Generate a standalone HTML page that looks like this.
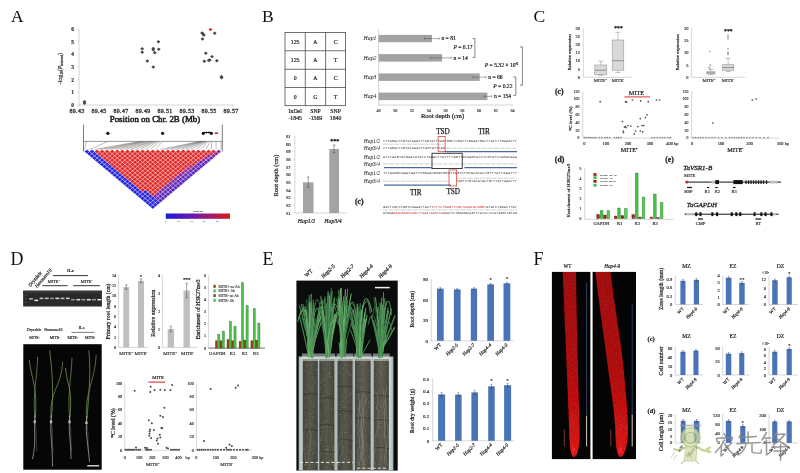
<!DOCTYPE html>
<html><head><meta charset="utf-8"><style>
html,body{margin:0;padding:0;background:#fff;}
body{width:800px;height:473px;overflow:hidden;}
svg{display:block;font-family:"Liberation Serif",serif;filter:blur(0.35px);}
</style></head><body>
<svg width="800" height="473" viewBox="0 0 800 473">
<rect width="800" height="473" fill="#fff"/>
<text x="10.90" y="22.40" font-size="17.4" text-anchor="start" fill="#111">A</text>
<line x1="79.00" y1="29.00" x2="79.00" y2="105.00" stroke="#bbb" stroke-width="0.6"/>
<line x1="79.00" y1="105.00" x2="234.00" y2="105.00" stroke="#bbb" stroke-width="0.6"/>
<text x="74.00" y="106.90" font-size="5.4" text-anchor="end" fill="#333" font-weight="bold" stroke="#333" stroke-width="0.19">0</text>
<line x1="77.50" y1="105.00" x2="79.00" y2="105.00" stroke="#bbb" stroke-width="0.5"/>
<text x="74.00" y="94.23" font-size="5.4" text-anchor="end" fill="#333" font-weight="bold" stroke="#333" stroke-width="0.19">1</text>
<line x1="77.50" y1="92.33" x2="79.00" y2="92.33" stroke="#bbb" stroke-width="0.5"/>
<text x="74.00" y="81.57" font-size="5.4" text-anchor="end" fill="#333" font-weight="bold" stroke="#333" stroke-width="0.19">2</text>
<line x1="77.50" y1="79.67" x2="79.00" y2="79.67" stroke="#bbb" stroke-width="0.5"/>
<text x="74.00" y="68.90" font-size="5.4" text-anchor="end" fill="#333" font-weight="bold" stroke="#333" stroke-width="0.19">3</text>
<line x1="77.50" y1="67.00" x2="79.00" y2="67.00" stroke="#bbb" stroke-width="0.5"/>
<text x="74.00" y="56.23" font-size="5.4" text-anchor="end" fill="#333" font-weight="bold" stroke="#333" stroke-width="0.19">4</text>
<line x1="77.50" y1="54.33" x2="79.00" y2="54.33" stroke="#bbb" stroke-width="0.5"/>
<text x="74.00" y="43.57" font-size="5.4" text-anchor="end" fill="#333" font-weight="bold" stroke="#333" stroke-width="0.19">5</text>
<line x1="77.50" y1="41.67" x2="79.00" y2="41.67" stroke="#bbb" stroke-width="0.5"/>
<text x="74.00" y="30.90" font-size="5.4" text-anchor="end" fill="#333" font-weight="bold" stroke="#333" stroke-width="0.19">6</text>
<line x1="77.50" y1="29.00" x2="79.00" y2="29.00" stroke="#bbb" stroke-width="0.5"/>
<text x="77.00" y="113.20" font-size="6.0" text-anchor="middle" fill="#333" stroke="#333" stroke-width="0.30" letter-spacing="0.3">89.43</text>
<line x1="79.00" y1="105.00" x2="79.00" y2="106.50" stroke="#bbb" stroke-width="0.5"/>
<text x="99.00" y="113.20" font-size="6.0" text-anchor="middle" fill="#333" stroke="#333" stroke-width="0.30" letter-spacing="0.3">89.45</text>
<line x1="101.00" y1="105.00" x2="101.00" y2="106.50" stroke="#bbb" stroke-width="0.5"/>
<text x="121.00" y="113.20" font-size="6.0" text-anchor="middle" fill="#333" stroke="#333" stroke-width="0.30" letter-spacing="0.3">89.47</text>
<line x1="123.00" y1="105.00" x2="123.00" y2="106.50" stroke="#bbb" stroke-width="0.5"/>
<text x="143.00" y="113.20" font-size="6.0" text-anchor="middle" fill="#333" stroke="#333" stroke-width="0.30" letter-spacing="0.3">89.49</text>
<line x1="145.00" y1="105.00" x2="145.00" y2="106.50" stroke="#bbb" stroke-width="0.5"/>
<text x="165.00" y="113.20" font-size="6.0" text-anchor="middle" fill="#333" stroke="#333" stroke-width="0.30" letter-spacing="0.3">89.51</text>
<line x1="167.00" y1="105.00" x2="167.00" y2="106.50" stroke="#bbb" stroke-width="0.5"/>
<text x="187.00" y="113.20" font-size="6.0" text-anchor="middle" fill="#333" stroke="#333" stroke-width="0.30" letter-spacing="0.3">89.53</text>
<line x1="189.00" y1="105.00" x2="189.00" y2="106.50" stroke="#bbb" stroke-width="0.5"/>
<text x="209.00" y="113.20" font-size="6.0" text-anchor="middle" fill="#333" stroke="#333" stroke-width="0.30" letter-spacing="0.3">89.55</text>
<line x1="211.00" y1="105.00" x2="211.00" y2="106.50" stroke="#bbb" stroke-width="0.5"/>
<text x="231.00" y="113.20" font-size="6.0" text-anchor="middle" fill="#333" stroke="#333" stroke-width="0.30" letter-spacing="0.3">89.57</text>
<line x1="233.00" y1="105.00" x2="233.00" y2="106.50" stroke="#bbb" stroke-width="0.5"/>
<text x="62" y="68.7" font-size="6" stroke="#333" stroke-width="0.2" text-anchor="middle" fill="#333" transform="rotate(-90 62 68.7)">-log<tspan font-size="3.5" dy="1">10</tspan><tspan dy="-1">(</tspan><tspan font-style="italic">P</tspan><tspan font-size="3.5" dy="1">interval</tspan><tspan dy="-1">)</tspan></text>
<text x="155.00" y="121.60" font-size="8.9" text-anchor="middle" fill="#222" stroke="#222" stroke-width="0.53">Position on Chr. 2B (Mb)</text>
<path d="M82.60 103.30 L84.50 101.60 L86.40 103.30 L84.50 105.00Z" fill="#464646"/>
<path d="M82.60 101.80 L84.50 100.10 L86.40 101.80 L84.50 103.50Z" fill="#464646"/>
<path d="M140.30 48.80 L142.20 47.10 L144.10 48.80 L142.20 50.50Z" fill="#464646"/>
<path d="M140.30 52.20 L142.20 50.50 L144.10 52.20 L142.20 53.90Z" fill="#464646"/>
<path d="M156.50 41.70 L158.40 40.00 L160.30 41.70 L158.40 43.40Z" fill="#464646"/>
<path d="M151.40 48.40 L153.30 46.70 L155.20 48.40 L153.30 50.10Z" fill="#464646"/>
<path d="M151.40 49.90 L153.30 48.20 L155.20 49.90 L153.30 51.60Z" fill="#464646"/>
<path d="M152.90 52.80 L154.80 51.10 L156.70 52.80 L154.80 54.50Z" fill="#464646"/>
<path d="M156.90 49.30 L158.80 47.60 L160.70 49.30 L158.80 51.00Z" fill="#464646"/>
<path d="M145.40 61.00 L147.30 59.30 L149.20 61.00 L147.30 62.70Z" fill="#464646"/>
<path d="M151.40 67.00 L153.30 65.30 L155.20 67.00 L153.30 68.70Z" fill="#464646"/>
<path d="M200.10 32.90 L202.00 31.20 L203.90 32.90 L202.00 34.60Z" fill="#464646"/>
<path d="M202.00 35.10 L203.90 33.40 L205.80 35.10 L203.90 36.80Z" fill="#464646"/>
<path d="M200.60 39.00 L202.50 37.30 L204.40 39.00 L202.50 40.70Z" fill="#464646"/>
<path d="M212.80 33.30 L214.70 31.60 L216.60 33.30 L214.70 35.00Z" fill="#464646"/>
<path d="M203.90 53.30 L205.80 51.60 L207.70 53.30 L205.80 55.00Z" fill="#464646"/>
<path d="M202.40 61.30 L204.30 59.60 L206.20 61.30 L204.30 63.00Z" fill="#464646"/>
<path d="M207.90 60.00 L209.80 58.30 L211.70 60.00 L209.80 61.70Z" fill="#464646"/>
<path d="M210.10 56.60 L212.00 54.90 L213.90 56.60 L212.00 58.30Z" fill="#464646"/>
<path d="M215.00 60.80 L216.90 59.10 L218.80 60.80 L216.90 62.50Z" fill="#464646"/>
<path d="M219.50 76.60 L221.40 74.90 L223.30 76.60 L221.40 78.30Z" fill="#464646"/>
<path d="M219.70 77.70 L221.60 76.00 L223.50 77.70 L221.60 79.40Z" fill="#464646"/>
<path d="M201.10 34.00 L203.00 32.30 L204.90 34.00 L203.00 35.70Z" fill="#464646"/>
<path d="M206.70 60.40 L208.60 58.70 L210.50 60.40 L208.60 62.10Z" fill="#464646"/>
<path d="M208.60 29.5 L210.5 27.8 L212.40 29.5 L210.5 31.2Z" fill="#d83030"/>
<line x1="83.50" y1="124.60" x2="83.50" y2="151.40" stroke="#444" stroke-width="0.7"/>
<line x1="222.30" y1="124.60" x2="222.30" y2="151.40" stroke="#444" stroke-width="0.7"/>
<line x1="83.50" y1="141.40" x2="222.30" y2="141.40" stroke="#555" stroke-width="0.6"/>
<circle cx="107.90" cy="133.30" r="1.60" fill="#111"/>
<circle cx="162.60" cy="133.30" r="1.60" fill="#111"/>
<circle cx="203.30" cy="133.30" r="1.60" fill="#111"/>
<circle cx="211.40" cy="133.30" r="1.60" fill="#111"/>
<line x1="203.30" y1="132.50" x2="211.40" y2="132.50" stroke="#111" stroke-width="0.9"/>
<circle cx="206.50" cy="132.60" r="1.00" fill="#111"/>
<circle cx="209.00" cy="132.60" r="1.00" fill="#111"/>
<rect x="214.80" y="132.40" width="3.20" height="1.60" fill="#e02020" stroke="none" stroke-width="0.6"/>
<line x1="86.50" y1="141.40" x2="84.40" y2="149.47" stroke="#555" stroke-width="0.4"/>
<line x1="107.90" y1="141.40" x2="89.47" y2="149.47" stroke="#555" stroke-width="0.4"/>
<line x1="140.00" y1="141.40" x2="94.53" y2="149.47" stroke="#555" stroke-width="0.4"/>
<line x1="142.00" y1="141.40" x2="99.60" y2="149.47" stroke="#555" stroke-width="0.4"/>
<line x1="144.00" y1="141.40" x2="104.67" y2="149.47" stroke="#555" stroke-width="0.4"/>
<line x1="145.00" y1="141.40" x2="109.73" y2="149.47" stroke="#555" stroke-width="0.4"/>
<line x1="147.00" y1="141.40" x2="114.80" y2="149.47" stroke="#555" stroke-width="0.4"/>
<line x1="150.00" y1="141.40" x2="119.87" y2="149.47" stroke="#555" stroke-width="0.4"/>
<line x1="152.00" y1="141.40" x2="124.93" y2="149.47" stroke="#555" stroke-width="0.4"/>
<line x1="153.00" y1="141.40" x2="130.00" y2="149.47" stroke="#555" stroke-width="0.4"/>
<line x1="155.00" y1="141.40" x2="135.07" y2="149.47" stroke="#555" stroke-width="0.4"/>
<line x1="156.00" y1="141.40" x2="140.13" y2="149.47" stroke="#555" stroke-width="0.4"/>
<line x1="158.00" y1="141.40" x2="145.20" y2="149.47" stroke="#555" stroke-width="0.4"/>
<line x1="160.00" y1="141.40" x2="150.27" y2="149.47" stroke="#555" stroke-width="0.4"/>
<line x1="162.60" y1="141.40" x2="155.33" y2="149.47" stroke="#555" stroke-width="0.4"/>
<line x1="200.00" y1="141.40" x2="160.40" y2="149.47" stroke="#555" stroke-width="0.4"/>
<line x1="201.00" y1="141.40" x2="165.47" y2="149.47" stroke="#555" stroke-width="0.4"/>
<line x1="202.00" y1="141.40" x2="170.53" y2="149.47" stroke="#555" stroke-width="0.4"/>
<line x1="203.00" y1="141.40" x2="175.60" y2="149.47" stroke="#555" stroke-width="0.4"/>
<line x1="204.00" y1="141.40" x2="180.67" y2="149.47" stroke="#555" stroke-width="0.4"/>
<line x1="205.00" y1="141.40" x2="185.73" y2="149.47" stroke="#555" stroke-width="0.4"/>
<line x1="206.00" y1="141.40" x2="190.80" y2="149.47" stroke="#555" stroke-width="0.4"/>
<line x1="207.00" y1="141.40" x2="195.87" y2="149.47" stroke="#555" stroke-width="0.4"/>
<line x1="208.00" y1="141.40" x2="200.93" y2="149.47" stroke="#555" stroke-width="0.4"/>
<line x1="210.00" y1="141.40" x2="206.00" y2="149.47" stroke="#555" stroke-width="0.4"/>
<line x1="212.00" y1="141.40" x2="211.07" y2="149.47" stroke="#555" stroke-width="0.4"/>
<line x1="216.00" y1="141.40" x2="216.13" y2="149.47" stroke="#555" stroke-width="0.4"/>
<line x1="221.00" y1="141.40" x2="221.20" y2="149.47" stroke="#555" stroke-width="0.4"/>
<path d="M86.93 149.47L89.47 151.60L86.93 153.73L84.40 151.60ZM89.47 151.60L92.00 153.73L89.47 155.85L86.93 153.73ZM92.00 153.73L94.53 155.85L92.00 157.98L89.47 155.85ZM94.53 155.85L97.07 157.98L94.53 160.10L92.00 157.98ZM97.07 157.98L99.60 160.10L97.07 162.23L94.53 160.10ZM99.60 160.10L102.13 162.23L99.60 164.36L97.07 162.23ZM102.13 162.23L104.67 164.36L102.13 166.48L99.60 164.36ZM104.67 164.36L107.20 166.48L104.67 168.61L102.13 166.48ZM107.20 166.48L109.73 168.61L107.20 170.73L104.67 168.61ZM109.73 168.61L112.27 170.73L109.73 172.86L107.20 170.73ZM112.27 170.73L114.80 172.86L112.27 174.99L109.73 172.86ZM114.80 172.86L117.33 174.99L114.80 177.11L112.27 174.99ZM117.33 174.99L119.87 177.11L117.33 179.24L114.80 177.11ZM119.87 177.11L122.40 179.24L119.87 181.36L117.33 179.24ZM122.40 179.24L124.93 181.36L122.40 183.49L119.87 181.36ZM124.93 181.36L127.47 183.49L124.93 185.61L122.40 183.49ZM127.47 183.49L130.00 185.61L127.47 187.74L124.93 185.61ZM130.00 185.61L132.53 187.74L130.00 189.87L127.47 187.74ZM132.53 187.74L135.07 189.87L132.53 191.99L130.00 189.87ZM135.07 189.87L137.60 191.99L135.07 194.12L132.53 191.99ZM137.60 191.99L140.13 194.12L137.60 196.24L135.07 194.12ZM140.13 194.12L142.67 196.24L140.13 198.37L137.60 196.24ZM142.67 196.24L145.20 198.37L142.67 200.50L140.13 198.37ZM145.20 198.37L147.73 200.50L145.20 202.62L142.67 200.50ZM147.73 200.50L150.27 202.62L147.73 204.75L145.20 202.62ZM150.27 202.62L152.80 204.75L150.27 206.87L147.73 204.75ZM152.80 204.75L155.33 206.87L152.80 209.00L150.27 206.87ZM92.00 149.47L94.53 151.60L92.00 153.73L89.47 151.60ZM94.53 151.60L97.07 153.73L94.53 155.85L92.00 153.73ZM97.07 153.73L99.60 155.85L97.07 157.98L94.53 155.85ZM99.60 155.85L102.13 157.98L99.60 160.10L97.07 157.98ZM102.13 157.98L104.67 160.10L102.13 162.23L99.60 160.10ZM104.67 160.10L107.20 162.23L104.67 164.36L102.13 162.23ZM107.20 162.23L109.73 164.36L107.20 166.48L104.67 164.36ZM109.73 164.36L112.27 166.48L109.73 168.61L107.20 166.48ZM112.27 166.48L114.80 168.61L112.27 170.73L109.73 168.61ZM114.80 168.61L117.33 170.73L114.80 172.86L112.27 170.73ZM117.33 170.73L119.87 172.86L117.33 174.99L114.80 172.86ZM119.87 172.86L122.40 174.99L119.87 177.11L117.33 174.99ZM122.40 174.99L124.93 177.11L122.40 179.24L119.87 177.11ZM124.93 177.11L127.47 179.24L124.93 181.36L122.40 179.24ZM127.47 179.24L130.00 181.36L127.47 183.49L124.93 181.36ZM130.00 181.36L132.53 183.49L130.00 185.61L127.47 183.49ZM132.53 183.49L135.07 185.61L132.53 187.74L130.00 185.61ZM135.07 185.61L137.60 187.74L135.07 189.87L132.53 187.74ZM137.60 187.74L140.13 189.87L137.60 191.99L135.07 189.87ZM140.13 189.87L142.67 191.99L140.13 194.12L137.60 191.99ZM142.67 191.99L145.20 194.12L142.67 196.24L140.13 194.12ZM145.20 194.12L147.73 196.24L145.20 198.37L142.67 196.24ZM147.73 196.24L150.27 198.37L147.73 200.50L145.20 198.37ZM150.27 198.37L152.80 200.50L150.27 202.62L147.73 200.50ZM152.80 200.50L155.33 202.62L152.80 204.75L150.27 202.62ZM155.33 202.62L157.87 204.75L155.33 206.87L152.80 204.75ZM145.20 189.87L147.73 191.99L145.20 194.12L142.67 191.99ZM147.73 191.99L150.27 194.12L147.73 196.24L145.20 194.12ZM150.27 194.12L152.80 196.24L150.27 198.37L147.73 196.24ZM152.80 196.24L155.33 198.37L152.80 200.50L150.27 198.37ZM155.33 198.37L157.87 200.50L155.33 202.62L152.80 200.50ZM157.87 200.50L160.40 202.62L157.87 204.75L155.33 202.62Z" fill="#2424dc" stroke="#fff" stroke-width="0.3"/>
<path d="M97.07 149.47L99.60 151.60L97.07 153.73L94.53 151.60ZM99.60 151.60L102.13 153.73L99.60 155.85L97.07 153.73ZM102.13 153.73L104.67 155.85L102.13 157.98L99.60 155.85ZM104.67 155.85L107.20 157.98L104.67 160.10L102.13 157.98ZM107.20 157.98L109.73 160.10L107.20 162.23L104.67 160.10ZM109.73 160.10L112.27 162.23L109.73 164.36L107.20 162.23ZM112.27 162.23L114.80 164.36L112.27 166.48L109.73 164.36ZM114.80 164.36L117.33 166.48L114.80 168.61L112.27 166.48ZM117.33 166.48L119.87 168.61L117.33 170.73L114.80 168.61ZM119.87 168.61L122.40 170.73L119.87 172.86L117.33 170.73ZM122.40 170.73L124.93 172.86L122.40 174.99L119.87 172.86ZM124.93 172.86L127.47 174.99L124.93 177.11L122.40 174.99ZM127.47 174.99L130.00 177.11L127.47 179.24L124.93 177.11ZM130.00 177.11L132.53 179.24L130.00 181.36L127.47 179.24ZM132.53 179.24L135.07 181.36L132.53 183.49L130.00 181.36ZM135.07 181.36L137.60 183.49L135.07 185.61L132.53 183.49ZM137.60 183.49L140.13 185.61L137.60 187.74L135.07 185.61ZM140.13 185.61L142.67 187.74L140.13 189.87L137.60 187.74ZM142.67 187.74L145.20 189.87L142.67 191.99L140.13 189.87ZM102.13 149.47L104.67 151.60L102.13 153.73L99.60 151.60ZM104.67 151.60L107.20 153.73L104.67 155.85L102.13 153.73ZM107.20 153.73L109.73 155.85L107.20 157.98L104.67 155.85ZM109.73 155.85L112.27 157.98L109.73 160.10L107.20 157.98ZM112.27 157.98L114.80 160.10L112.27 162.23L109.73 160.10ZM114.80 160.10L117.33 162.23L114.80 164.36L112.27 162.23ZM117.33 162.23L119.87 164.36L117.33 166.48L114.80 164.36ZM119.87 164.36L122.40 166.48L119.87 168.61L117.33 166.48ZM122.40 166.48L124.93 168.61L122.40 170.73L119.87 168.61ZM124.93 168.61L127.47 170.73L124.93 172.86L122.40 170.73ZM127.47 170.73L130.00 172.86L127.47 174.99L124.93 172.86ZM130.00 172.86L132.53 174.99L130.00 177.11L127.47 174.99ZM132.53 174.99L135.07 177.11L132.53 179.24L130.00 177.11ZM135.07 177.11L137.60 179.24L135.07 181.36L132.53 179.24ZM137.60 179.24L140.13 181.36L137.60 183.49L135.07 181.36ZM140.13 181.36L142.67 183.49L140.13 185.61L137.60 183.49ZM142.67 183.49L145.20 185.61L142.67 187.74L140.13 185.61ZM145.20 185.61L147.73 187.74L145.20 189.87L142.67 187.74ZM147.73 187.74L150.27 189.87L147.73 191.99L145.20 189.87ZM150.27 189.87L152.80 191.99L150.27 194.12L147.73 191.99ZM152.80 191.99L155.33 194.12L152.80 196.24L150.27 194.12ZM107.20 149.47L109.73 151.60L107.20 153.73L104.67 151.60ZM109.73 151.60L112.27 153.73L109.73 155.85L107.20 153.73ZM112.27 153.73L114.80 155.85L112.27 157.98L109.73 155.85ZM114.80 155.85L117.33 157.98L114.80 160.10L112.27 157.98ZM117.33 157.98L119.87 160.10L117.33 162.23L114.80 160.10ZM119.87 160.10L122.40 162.23L119.87 164.36L117.33 162.23ZM122.40 162.23L124.93 164.36L122.40 166.48L119.87 164.36ZM124.93 164.36L127.47 166.48L124.93 168.61L122.40 166.48ZM127.47 166.48L130.00 168.61L127.47 170.73L124.93 168.61ZM130.00 168.61L132.53 170.73L130.00 172.86L127.47 170.73ZM132.53 170.73L135.07 172.86L132.53 174.99L130.00 172.86ZM135.07 172.86L137.60 174.99L135.07 177.11L132.53 174.99ZM137.60 174.99L140.13 177.11L137.60 179.24L135.07 177.11ZM140.13 177.11L142.67 179.24L140.13 181.36L137.60 179.24ZM142.67 179.24L145.20 181.36L142.67 183.49L140.13 181.36ZM145.20 181.36L147.73 183.49L145.20 185.61L142.67 183.49ZM147.73 183.49L150.27 185.61L147.73 187.74L145.20 185.61ZM150.27 185.61L152.80 187.74L150.27 189.87L147.73 187.74ZM152.80 187.74L155.33 189.87L152.80 191.99L150.27 189.87ZM155.33 189.87L157.87 191.99L155.33 194.12L152.80 191.99ZM112.27 149.47L114.80 151.60L112.27 153.73L109.73 151.60ZM114.80 151.60L117.33 153.73L114.80 155.85L112.27 153.73ZM117.33 153.73L119.87 155.85L117.33 157.98L114.80 155.85ZM119.87 155.85L122.40 157.98L119.87 160.10L117.33 157.98ZM122.40 157.98L124.93 160.10L122.40 162.23L119.87 160.10ZM124.93 160.10L127.47 162.23L124.93 164.36L122.40 162.23ZM127.47 162.23L130.00 164.36L127.47 166.48L124.93 164.36ZM130.00 164.36L132.53 166.48L130.00 168.61L127.47 166.48ZM132.53 166.48L135.07 168.61L132.53 170.73L130.00 168.61ZM135.07 168.61L137.60 170.73L135.07 172.86L132.53 170.73ZM137.60 170.73L140.13 172.86L137.60 174.99L135.07 172.86ZM140.13 172.86L142.67 174.99L140.13 177.11L137.60 174.99ZM142.67 174.99L145.20 177.11L142.67 179.24L140.13 177.11ZM145.20 177.11L147.73 179.24L145.20 181.36L142.67 179.24ZM147.73 179.24L150.27 181.36L147.73 183.49L145.20 181.36ZM150.27 181.36L152.80 183.49L150.27 185.61L147.73 183.49ZM152.80 183.49L155.33 185.61L152.80 187.74L150.27 185.61ZM155.33 185.61L157.87 187.74L155.33 189.87L152.80 187.74ZM157.87 187.74L160.40 189.87L157.87 191.99L155.33 189.87ZM117.33 149.47L119.87 151.60L117.33 153.73L114.80 151.60ZM119.87 151.60L122.40 153.73L119.87 155.85L117.33 153.73ZM122.40 153.73L124.93 155.85L122.40 157.98L119.87 155.85ZM124.93 155.85L127.47 157.98L124.93 160.10L122.40 157.98ZM127.47 157.98L130.00 160.10L127.47 162.23L124.93 160.10ZM130.00 160.10L132.53 162.23L130.00 164.36L127.47 162.23ZM132.53 162.23L135.07 164.36L132.53 166.48L130.00 164.36ZM135.07 164.36L137.60 166.48L135.07 168.61L132.53 166.48ZM137.60 166.48L140.13 168.61L137.60 170.73L135.07 168.61ZM140.13 168.61L142.67 170.73L140.13 172.86L137.60 170.73ZM142.67 170.73L145.20 172.86L142.67 174.99L140.13 172.86ZM145.20 172.86L147.73 174.99L145.20 177.11L142.67 174.99ZM147.73 174.99L150.27 177.11L147.73 179.24L145.20 177.11ZM150.27 177.11L152.80 179.24L150.27 181.36L147.73 179.24ZM152.80 179.24L155.33 181.36L152.80 183.49L150.27 181.36ZM155.33 181.36L157.87 183.49L155.33 185.61L152.80 183.49ZM157.87 183.49L160.40 185.61L157.87 187.74L155.33 185.61ZM160.40 185.61L162.93 187.74L160.40 189.87L157.87 187.74ZM122.40 149.47L124.93 151.60L122.40 153.73L119.87 151.60ZM124.93 151.60L127.47 153.73L124.93 155.85L122.40 153.73ZM127.47 153.73L130.00 155.85L127.47 157.98L124.93 155.85ZM130.00 155.85L132.53 157.98L130.00 160.10L127.47 157.98ZM132.53 157.98L135.07 160.10L132.53 162.23L130.00 160.10ZM135.07 160.10L137.60 162.23L135.07 164.36L132.53 162.23ZM137.60 162.23L140.13 164.36L137.60 166.48L135.07 164.36ZM140.13 164.36L142.67 166.48L140.13 168.61L137.60 166.48ZM142.67 166.48L145.20 168.61L142.67 170.73L140.13 168.61ZM145.20 168.61L147.73 170.73L145.20 172.86L142.67 170.73ZM147.73 170.73L150.27 172.86L147.73 174.99L145.20 172.86ZM150.27 172.86L152.80 174.99L150.27 177.11L147.73 174.99ZM152.80 174.99L155.33 177.11L152.80 179.24L150.27 177.11ZM155.33 177.11L157.87 179.24L155.33 181.36L152.80 179.24ZM157.87 179.24L160.40 181.36L157.87 183.49L155.33 181.36ZM160.40 181.36L162.93 183.49L160.40 185.61L157.87 183.49ZM162.93 183.49L165.47 185.61L162.93 187.74L160.40 185.61ZM127.47 149.47L130.00 151.60L127.47 153.73L124.93 151.60ZM130.00 151.60L132.53 153.73L130.00 155.85L127.47 153.73ZM132.53 153.73L135.07 155.85L132.53 157.98L130.00 155.85ZM135.07 155.85L137.60 157.98L135.07 160.10L132.53 157.98ZM137.60 157.98L140.13 160.10L137.60 162.23L135.07 160.10ZM140.13 160.10L142.67 162.23L140.13 164.36L137.60 162.23ZM142.67 162.23L145.20 164.36L142.67 166.48L140.13 164.36ZM145.20 164.36L147.73 166.48L145.20 168.61L142.67 166.48ZM147.73 166.48L150.27 168.61L147.73 170.73L145.20 168.61ZM150.27 168.61L152.80 170.73L150.27 172.86L147.73 170.73ZM152.80 170.73L155.33 172.86L152.80 174.99L150.27 172.86ZM155.33 172.86L157.87 174.99L155.33 177.11L152.80 174.99ZM157.87 174.99L160.40 177.11L157.87 179.24L155.33 177.11ZM160.40 177.11L162.93 179.24L160.40 181.36L157.87 179.24ZM162.93 179.24L165.47 181.36L162.93 183.49L160.40 181.36ZM165.47 181.36L168.00 183.49L165.47 185.61L162.93 183.49ZM132.53 149.47L135.07 151.60L132.53 153.73L130.00 151.60ZM135.07 151.60L137.60 153.73L135.07 155.85L132.53 153.73ZM137.60 153.73L140.13 155.85L137.60 157.98L135.07 155.85ZM140.13 155.85L142.67 157.98L140.13 160.10L137.60 157.98ZM142.67 157.98L145.20 160.10L142.67 162.23L140.13 160.10ZM145.20 160.10L147.73 162.23L145.20 164.36L142.67 162.23ZM147.73 162.23L150.27 164.36L147.73 166.48L145.20 164.36ZM150.27 164.36L152.80 166.48L150.27 168.61L147.73 166.48ZM152.80 166.48L155.33 168.61L152.80 170.73L150.27 168.61ZM155.33 168.61L157.87 170.73L155.33 172.86L152.80 170.73ZM157.87 170.73L160.40 172.86L157.87 174.99L155.33 172.86ZM160.40 172.86L162.93 174.99L160.40 177.11L157.87 174.99ZM162.93 174.99L165.47 177.11L162.93 179.24L160.40 177.11ZM165.47 177.11L168.00 179.24L165.47 181.36L162.93 179.24ZM168.00 179.24L170.53 181.36L168.00 183.49L165.47 181.36ZM137.60 149.47L140.13 151.60L137.60 153.73L135.07 151.60ZM140.13 151.60L142.67 153.73L140.13 155.85L137.60 153.73ZM142.67 153.73L145.20 155.85L142.67 157.98L140.13 155.85ZM145.20 155.85L147.73 157.98L145.20 160.10L142.67 157.98ZM147.73 157.98L150.27 160.10L147.73 162.23L145.20 160.10ZM150.27 160.10L152.80 162.23L150.27 164.36L147.73 162.23ZM152.80 162.23L155.33 164.36L152.80 166.48L150.27 164.36ZM155.33 164.36L157.87 166.48L155.33 168.61L152.80 166.48ZM157.87 166.48L160.40 168.61L157.87 170.73L155.33 168.61ZM160.40 168.61L162.93 170.73L160.40 172.86L157.87 170.73ZM162.93 170.73L165.47 172.86L162.93 174.99L160.40 172.86ZM165.47 172.86L168.00 174.99L165.47 177.11L162.93 174.99ZM168.00 174.99L170.53 177.11L168.00 179.24L165.47 177.11ZM170.53 177.11L173.07 179.24L170.53 181.36L168.00 179.24ZM142.67 149.47L145.20 151.60L142.67 153.73L140.13 151.60ZM145.20 151.60L147.73 153.73L145.20 155.85L142.67 153.73ZM147.73 153.73L150.27 155.85L147.73 157.98L145.20 155.85ZM150.27 155.85L152.80 157.98L150.27 160.10L147.73 157.98ZM152.80 157.98L155.33 160.10L152.80 162.23L150.27 160.10ZM155.33 160.10L157.87 162.23L155.33 164.36L152.80 162.23ZM157.87 162.23L160.40 164.36L157.87 166.48L155.33 164.36ZM160.40 164.36L162.93 166.48L160.40 168.61L157.87 166.48ZM162.93 166.48L165.47 168.61L162.93 170.73L160.40 168.61ZM165.47 168.61L168.00 170.73L165.47 172.86L162.93 170.73ZM168.00 170.73L170.53 172.86L168.00 174.99L165.47 172.86ZM170.53 172.86L173.07 174.99L170.53 177.11L168.00 174.99ZM173.07 174.99L175.60 177.11L173.07 179.24L170.53 177.11ZM147.73 149.47L150.27 151.60L147.73 153.73L145.20 151.60ZM150.27 151.60L152.80 153.73L150.27 155.85L147.73 153.73ZM152.80 153.73L155.33 155.85L152.80 157.98L150.27 155.85ZM155.33 155.85L157.87 157.98L155.33 160.10L152.80 157.98ZM157.87 157.98L160.40 160.10L157.87 162.23L155.33 160.10ZM160.40 160.10L162.93 162.23L160.40 164.36L157.87 162.23ZM162.93 162.23L165.47 164.36L162.93 166.48L160.40 164.36ZM165.47 164.36L168.00 166.48L165.47 168.61L162.93 166.48ZM168.00 166.48L170.53 168.61L168.00 170.73L165.47 168.61ZM170.53 168.61L173.07 170.73L170.53 172.86L168.00 170.73ZM173.07 170.73L175.60 172.86L173.07 174.99L170.53 172.86ZM175.60 172.86L178.13 174.99L175.60 177.11L173.07 174.99ZM152.80 149.47L155.33 151.60L152.80 153.73L150.27 151.60ZM155.33 151.60L157.87 153.73L155.33 155.85L152.80 153.73ZM157.87 153.73L160.40 155.85L157.87 157.98L155.33 155.85ZM160.40 155.85L162.93 157.98L160.40 160.10L157.87 157.98ZM162.93 157.98L165.47 160.10L162.93 162.23L160.40 160.10ZM165.47 160.10L168.00 162.23L165.47 164.36L162.93 162.23ZM168.00 162.23L170.53 164.36L168.00 166.48L165.47 164.36ZM170.53 164.36L173.07 166.48L170.53 168.61L168.00 166.48ZM173.07 166.48L175.60 168.61L173.07 170.73L170.53 168.61ZM175.60 168.61L178.13 170.73L175.60 172.86L173.07 170.73ZM178.13 170.73L180.67 172.86L178.13 174.99L175.60 172.86ZM157.87 149.47L160.40 151.60L157.87 153.73L155.33 151.60ZM160.40 151.60L162.93 153.73L160.40 155.85L157.87 153.73ZM162.93 153.73L165.47 155.85L162.93 157.98L160.40 155.85ZM165.47 155.85L168.00 157.98L165.47 160.10L162.93 157.98ZM168.00 157.98L170.53 160.10L168.00 162.23L165.47 160.10ZM170.53 160.10L173.07 162.23L170.53 164.36L168.00 162.23ZM173.07 162.23L175.60 164.36L173.07 166.48L170.53 164.36ZM175.60 164.36L178.13 166.48L175.60 168.61L173.07 166.48ZM178.13 166.48L180.67 168.61L178.13 170.73L175.60 168.61ZM180.67 168.61L183.20 170.73L180.67 172.86L178.13 170.73ZM162.93 149.47L165.47 151.60L162.93 153.73L160.40 151.60ZM165.47 151.60L168.00 153.73L165.47 155.85L162.93 153.73ZM168.00 153.73L170.53 155.85L168.00 157.98L165.47 155.85ZM170.53 155.85L173.07 157.98L170.53 160.10L168.00 157.98ZM173.07 157.98L175.60 160.10L173.07 162.23L170.53 160.10ZM175.60 160.10L178.13 162.23L175.60 164.36L173.07 162.23ZM178.13 162.23L180.67 164.36L178.13 166.48L175.60 164.36ZM180.67 164.36L183.20 166.48L180.67 168.61L178.13 166.48ZM183.20 166.48L185.73 168.61L183.20 170.73L180.67 168.61ZM168.00 149.47L170.53 151.60L168.00 153.73L165.47 151.60ZM170.53 151.60L173.07 153.73L170.53 155.85L168.00 153.73ZM173.07 153.73L175.60 155.85L173.07 157.98L170.53 155.85ZM175.60 155.85L178.13 157.98L175.60 160.10L173.07 157.98ZM178.13 157.98L180.67 160.10L178.13 162.23L175.60 160.10ZM180.67 160.10L183.20 162.23L180.67 164.36L178.13 162.23ZM183.20 162.23L185.73 164.36L183.20 166.48L180.67 164.36ZM185.73 164.36L188.27 166.48L185.73 168.61L183.20 166.48ZM173.07 149.47L175.60 151.60L173.07 153.73L170.53 151.60ZM175.60 151.60L178.13 153.73L175.60 155.85L173.07 153.73ZM178.13 153.73L180.67 155.85L178.13 157.98L175.60 155.85ZM180.67 155.85L183.20 157.98L180.67 160.10L178.13 157.98ZM183.20 157.98L185.73 160.10L183.20 162.23L180.67 160.10ZM185.73 160.10L188.27 162.23L185.73 164.36L183.20 162.23ZM188.27 162.23L190.80 164.36L188.27 166.48L185.73 164.36ZM178.13 149.47L180.67 151.60L178.13 153.73L175.60 151.60ZM180.67 151.60L183.20 153.73L180.67 155.85L178.13 153.73ZM183.20 153.73L185.73 155.85L183.20 157.98L180.67 155.85ZM185.73 155.85L188.27 157.98L185.73 160.10L183.20 157.98ZM188.27 157.98L190.80 160.10L188.27 162.23L185.73 160.10ZM190.80 160.10L193.33 162.23L190.80 164.36L188.27 162.23ZM193.33 162.23L195.87 164.36L193.33 166.48L190.80 164.36ZM183.20 149.47L185.73 151.60L183.20 153.73L180.67 151.60ZM185.73 151.60L188.27 153.73L185.73 155.85L183.20 153.73ZM188.27 153.73L190.80 155.85L188.27 157.98L185.73 155.85ZM190.80 155.85L193.33 157.98L190.80 160.10L188.27 157.98ZM193.33 157.98L195.87 160.10L193.33 162.23L190.80 160.10ZM195.87 160.10L198.40 162.23L195.87 164.36L193.33 162.23ZM188.27 149.47L190.80 151.60L188.27 153.73L185.73 151.60ZM190.80 151.60L193.33 153.73L190.80 155.85L188.27 153.73ZM193.33 153.73L195.87 155.85L193.33 157.98L190.80 155.85ZM195.87 155.85L198.40 157.98L195.87 160.10L193.33 157.98ZM198.40 157.98L200.93 160.10L198.40 162.23L195.87 160.10ZM193.33 149.47L195.87 151.60L193.33 153.73L190.80 151.60ZM195.87 151.60L198.40 153.73L195.87 155.85L193.33 153.73ZM198.40 153.73L200.93 155.85L198.40 157.98L195.87 155.85ZM200.93 155.85L203.47 157.98L200.93 160.10L198.40 157.98ZM198.40 149.47L200.93 151.60L198.40 153.73L195.87 151.60ZM200.93 151.60L203.47 153.73L200.93 155.85L198.40 153.73ZM203.47 153.73L206.00 155.85L203.47 157.98L200.93 155.85ZM203.47 149.47L206.00 151.60L203.47 153.73L200.93 151.60ZM206.00 151.60L208.53 153.73L206.00 155.85L203.47 153.73ZM208.53 149.47L211.07 151.60L208.53 153.73L206.00 151.60ZM211.07 151.60L213.60 153.73L211.07 155.85L208.53 153.73ZM213.60 149.47L216.13 151.60L213.60 153.73L211.07 151.60Z" fill="#e02828" stroke="#fff" stroke-width="0.3"/>
<path d="M155.33 194.12L157.87 196.24L155.33 198.37L152.80 196.24ZM157.87 191.99L160.40 194.12L157.87 196.24L155.33 194.12ZM160.40 189.87L162.93 191.99L160.40 194.12L157.87 191.99ZM162.93 187.74L165.47 189.87L162.93 191.99L160.40 189.87ZM165.47 185.61L168.00 187.74L165.47 189.87L162.93 187.74ZM168.00 183.49L170.53 185.61L168.00 187.74L165.47 185.61ZM170.53 181.36L173.07 183.49L170.53 185.61L168.00 183.49ZM173.07 179.24L175.60 181.36L173.07 183.49L170.53 181.36ZM175.60 177.11L178.13 179.24L175.60 181.36L173.07 179.24ZM178.13 174.99L180.67 177.11L178.13 179.24L175.60 177.11ZM180.67 172.86L183.20 174.99L180.67 177.11L178.13 174.99Z" fill="#7a28a8" stroke="#fff" stroke-width="0.3"/>
<path d="M157.87 196.24L160.40 198.37L157.87 200.50L155.33 198.37ZM160.40 194.12L162.93 196.24L160.40 198.37L157.87 196.24ZM162.93 191.99L165.47 194.12L162.93 196.24L160.40 194.12ZM165.47 189.87L168.00 191.99L165.47 194.12L162.93 191.99ZM168.00 187.74L170.53 189.87L168.00 191.99L165.47 189.87ZM170.53 185.61L173.07 187.74L170.53 189.87L168.00 187.74ZM173.07 183.49L175.60 185.61L173.07 187.74L170.53 185.61ZM175.60 181.36L178.13 183.49L175.60 185.61L173.07 183.49ZM178.13 179.24L180.67 181.36L178.13 183.49L175.60 181.36ZM180.67 177.11L183.20 179.24L180.67 181.36L178.13 179.24ZM183.20 174.99L185.73 177.11L183.20 179.24L180.67 177.11ZM185.73 172.86L188.27 174.99L185.73 177.11L183.20 174.99ZM188.27 170.73L190.80 172.86L188.27 174.99L185.73 172.86ZM190.80 168.61L193.33 170.73L190.80 172.86L188.27 170.73ZM193.33 166.48L195.87 168.61L193.33 170.73L190.80 168.61ZM195.87 164.36L198.40 166.48L195.87 168.61L193.33 166.48ZM198.40 162.23L200.93 164.36L198.40 166.48L195.87 164.36ZM200.93 160.10L203.47 162.23L200.93 164.36L198.40 162.23Z" fill="#6228b8" stroke="#fff" stroke-width="0.3"/>
<path d="M160.40 198.37L162.93 200.50L160.40 202.62L157.87 200.50ZM162.93 196.24L165.47 198.37L162.93 200.50L160.40 198.37ZM165.47 194.12L168.00 196.24L165.47 198.37L162.93 196.24ZM168.00 191.99L170.53 194.12L168.00 196.24L165.47 194.12ZM170.53 189.87L173.07 191.99L170.53 194.12L168.00 191.99ZM173.07 187.74L175.60 189.87L173.07 191.99L170.53 189.87ZM175.60 185.61L178.13 187.74L175.60 189.87L173.07 187.74ZM178.13 183.49L180.67 185.61L178.13 187.74L175.60 185.61ZM180.67 181.36L183.20 183.49L180.67 185.61L178.13 183.49ZM183.20 179.24L185.73 181.36L183.20 183.49L180.67 181.36ZM185.73 177.11L188.27 179.24L185.73 181.36L183.20 179.24ZM188.27 174.99L190.80 177.11L188.27 179.24L185.73 177.11ZM190.80 172.86L193.33 174.99L190.80 177.11L188.27 174.99ZM193.33 170.73L195.87 172.86L193.33 174.99L190.80 172.86ZM195.87 168.61L198.40 170.73L195.87 172.86L193.33 170.73ZM198.40 166.48L200.93 168.61L198.40 170.73L195.87 168.61ZM200.93 164.36L203.47 166.48L200.93 168.61L198.40 166.48ZM203.47 162.23L206.00 164.36L203.47 166.48L200.93 164.36ZM206.00 160.10L208.53 162.23L206.00 164.36L203.47 162.23ZM208.53 157.98L211.07 160.10L208.53 162.23L206.00 160.10ZM211.07 155.85L213.60 157.98L211.07 160.10L208.53 157.98Z" fill="#5a28c0" stroke="#fff" stroke-width="0.3"/>
<path d="M183.20 170.73L185.73 172.86L183.20 174.99L180.67 172.86ZM185.73 168.61L188.27 170.73L185.73 172.86L183.20 170.73ZM188.27 166.48L190.80 168.61L188.27 170.73L185.73 168.61ZM190.80 164.36L193.33 166.48L190.80 168.61L188.27 166.48Z" fill="#a82a80" stroke="#fff" stroke-width="0.3"/>
<path d="M203.47 157.98L206.00 160.10L203.47 162.23L200.93 160.10ZM206.00 155.85L208.53 157.98L206.00 160.10L203.47 157.98ZM208.53 153.73L211.07 155.85L208.53 157.98L206.00 155.85Z" fill="#9a2890" stroke="#fff" stroke-width="0.3"/>
<path d="M213.60 153.73L216.13 155.85L213.60 157.98L211.07 155.85ZM216.13 151.60L218.67 153.73L216.13 155.85L213.60 153.73ZM218.67 149.47L221.20 151.60L218.67 153.73L216.13 151.60Z" fill="#8a2898" stroke="#fff" stroke-width="0.3"/>
<defs><linearGradient id="ldg" x1="0" x2="1" y1="0" y2="0"><stop offset="0" stop-color="#1a1ae0"/><stop offset="0.5" stop-color="#7a1aa0"/><stop offset="1" stop-color="#e01a1a"/></linearGradient></defs>
<rect x="165.80" y="213.50" width="64.20" height="5.30" fill="url(#ldg)" stroke="none" stroke-width="0.6"/>
<text x="198.00" y="212.30" font-size="2.2" text-anchor="middle" fill="#333" stroke="#333" stroke-width="0.08">r² color key</text>
<text x="165.80" y="221.50" font-size="1.8" text-anchor="middle" fill="#555" stroke="#555" stroke-width="0.06">0</text>
<text x="178.64" y="221.50" font-size="1.8" text-anchor="middle" fill="#555" stroke="#555" stroke-width="0.06">0.2</text>
<text x="191.48" y="221.50" font-size="1.8" text-anchor="middle" fill="#555" stroke="#555" stroke-width="0.06">0.4</text>
<text x="204.32" y="221.50" font-size="1.8" text-anchor="middle" fill="#555" stroke="#555" stroke-width="0.06">0.6</text>
<text x="217.16" y="221.50" font-size="1.8" text-anchor="middle" fill="#555" stroke="#555" stroke-width="0.06">0.8</text>
<text x="230.00" y="221.50" font-size="1.8" text-anchor="middle" fill="#555" stroke="#555" stroke-width="0.06">1</text>
<text x="262.00" y="22.20" font-size="17.6" text-anchor="start" fill="#111">B</text>
<rect x="285.00" y="32.50" width="60.60" height="73.20" fill="none" stroke="#333" stroke-width="0.7"/>
<line x1="305.30" y1="32.50" x2="305.30" y2="105.70" stroke="#333" stroke-width="0.7"/>
<line x1="325.60" y1="32.50" x2="325.60" y2="105.70" stroke="#333" stroke-width="0.7"/>
<line x1="285.00" y1="50.75" x2="345.60" y2="50.75" stroke="#333" stroke-width="0.7"/>
<line x1="285.00" y1="69.30" x2="345.60" y2="69.30" stroke="#333" stroke-width="0.7"/>
<line x1="285.00" y1="87.50" x2="345.60" y2="87.50" stroke="#333" stroke-width="0.7"/>
<text x="295.15" y="43.62" font-size="5.8" text-anchor="middle" fill="#222" stroke="#222" stroke-width="0.20">125</text>
<text x="315.45" y="43.62" font-size="5.8" text-anchor="middle" fill="#222" stroke="#222" stroke-width="0.20">A</text>
<text x="335.60" y="43.62" font-size="5.8" text-anchor="middle" fill="#222" stroke="#222" stroke-width="0.20">C</text>
<text x="295.15" y="62.02" font-size="5.8" text-anchor="middle" fill="#222" stroke="#222" stroke-width="0.20">125</text>
<text x="315.45" y="62.02" font-size="5.8" text-anchor="middle" fill="#222" stroke="#222" stroke-width="0.20">A</text>
<text x="335.60" y="62.02" font-size="5.8" text-anchor="middle" fill="#222" stroke="#222" stroke-width="0.20">T</text>
<text x="295.15" y="80.40" font-size="5.8" text-anchor="middle" fill="#222" stroke="#222" stroke-width="0.20">0</text>
<text x="315.45" y="80.40" font-size="5.8" text-anchor="middle" fill="#222" stroke="#222" stroke-width="0.20">A</text>
<text x="335.60" y="80.40" font-size="5.8" text-anchor="middle" fill="#222" stroke="#222" stroke-width="0.20">C</text>
<text x="295.15" y="98.60" font-size="5.8" text-anchor="middle" fill="#222" stroke="#222" stroke-width="0.20">0</text>
<text x="315.45" y="98.60" font-size="5.8" text-anchor="middle" fill="#222" stroke="#222" stroke-width="0.20">G</text>
<text x="335.60" y="98.60" font-size="5.8" text-anchor="middle" fill="#222" stroke="#222" stroke-width="0.20">T</text>
<text x="295.20" y="113.20" font-size="5.8" text-anchor="middle" fill="#222" stroke="#222" stroke-width="0.20">InDel</text>
<text x="295.20" y="119.60" font-size="5.8" text-anchor="middle" fill="#222" stroke="#222" stroke-width="0.20">-1845</text>
<text x="315.50" y="113.20" font-size="5.8" text-anchor="middle" fill="#222" stroke="#222" stroke-width="0.20">SNP</text>
<text x="315.50" y="119.60" font-size="5.8" text-anchor="middle" fill="#222" stroke="#222" stroke-width="0.20">-1569</text>
<text x="335.60" y="113.20" font-size="5.8" text-anchor="middle" fill="#222" stroke="#222" stroke-width="0.20">SNP</text>
<text x="335.60" y="119.60" font-size="5.8" text-anchor="middle" fill="#222" stroke="#222" stroke-width="0.20">1840</text>
<line x1="378.60" y1="29.00" x2="378.60" y2="105.00" stroke="#bbb" stroke-width="0.6"/>
<line x1="378.60" y1="105.00" x2="512.60" y2="105.00" stroke="#bbb" stroke-width="0.6"/>
<rect x="378.60" y="34.90" width="53.40" height="7.30" fill="#a3a3a3" stroke="none" stroke-width="0.6"/>
<line x1="424.60" y1="38.55" x2="439.20" y2="38.55" stroke="#555" stroke-width="0.5"/>
<line x1="424.60" y1="37.35" x2="424.60" y2="39.75" stroke="#555" stroke-width="0.5"/>
<line x1="439.20" y1="37.35" x2="439.20" y2="39.75" stroke="#555" stroke-width="0.5"/>
<text x="376.50" y="40.45" font-size="5.8" text-anchor="end" fill="#333" font-style="italic" stroke="#333" stroke-width="0.06">Hap1</text>
<text x="441.40" y="40.45" font-size="5.6" text-anchor="start" fill="#222" stroke="#222" stroke-width="0.20">n = 81</text>
<rect x="378.60" y="54.10" width="63.50" height="7.50" fill="#a3a3a3" stroke="none" stroke-width="0.6"/>
<line x1="430.50" y1="57.85" x2="451.30" y2="57.85" stroke="#555" stroke-width="0.5"/>
<line x1="430.50" y1="56.65" x2="430.50" y2="59.05" stroke="#555" stroke-width="0.5"/>
<line x1="451.30" y1="56.65" x2="451.30" y2="59.05" stroke="#555" stroke-width="0.5"/>
<text x="376.50" y="59.75" font-size="5.8" text-anchor="end" fill="#333" font-style="italic" stroke="#333" stroke-width="0.06">Hap2</text>
<text x="453.50" y="59.75" font-size="5.6" text-anchor="start" fill="#222" stroke="#222" stroke-width="0.20">n = 14</text>
<rect x="378.60" y="73.40" width="101.10" height="7.50" fill="#a3a3a3" stroke="none" stroke-width="0.6"/>
<line x1="473.00" y1="77.15" x2="486.00" y2="77.15" stroke="#555" stroke-width="0.5"/>
<line x1="473.00" y1="75.95" x2="473.00" y2="78.35" stroke="#555" stroke-width="0.5"/>
<line x1="486.00" y1="75.95" x2="486.00" y2="78.35" stroke="#555" stroke-width="0.5"/>
<text x="376.50" y="79.05" font-size="5.8" text-anchor="end" fill="#333" font-style="italic" stroke="#333" stroke-width="0.06">Hap3</text>
<text x="488.20" y="79.05" font-size="5.6" text-anchor="start" fill="#222" stroke="#222" stroke-width="0.20">n = 66</text>
<rect x="378.60" y="92.60" width="108.80" height="7.50" fill="#a3a3a3" stroke="none" stroke-width="0.6"/>
<line x1="484.00" y1="96.35" x2="491.70" y2="96.35" stroke="#555" stroke-width="0.5"/>
<line x1="484.00" y1="95.15" x2="484.00" y2="97.55" stroke="#555" stroke-width="0.5"/>
<line x1="491.70" y1="95.15" x2="491.70" y2="97.55" stroke="#555" stroke-width="0.5"/>
<text x="376.50" y="98.25" font-size="5.8" text-anchor="end" fill="#333" font-style="italic" stroke="#333" stroke-width="0.06">Hap4</text>
<text x="493.90" y="98.25" font-size="5.6" text-anchor="start" fill="#222" stroke="#222" stroke-width="0.20">n = 154</text>
<text x="378.60" y="111.60" font-size="4.3" text-anchor="middle" fill="#444" stroke="#444" stroke-width="0.15">48</text>
<line x1="378.60" y1="105.00" x2="378.60" y2="106.20" stroke="#bbb" stroke-width="0.4"/>
<text x="395.35" y="111.60" font-size="4.3" text-anchor="middle" fill="#444" stroke="#444" stroke-width="0.15">50</text>
<line x1="395.35" y1="105.00" x2="395.35" y2="106.20" stroke="#bbb" stroke-width="0.4"/>
<text x="412.10" y="111.60" font-size="4.3" text-anchor="middle" fill="#444" stroke="#444" stroke-width="0.15">52</text>
<line x1="412.10" y1="105.00" x2="412.10" y2="106.20" stroke="#bbb" stroke-width="0.4"/>
<text x="428.85" y="111.60" font-size="4.3" text-anchor="middle" fill="#444" stroke="#444" stroke-width="0.15">54</text>
<line x1="428.85" y1="105.00" x2="428.85" y2="106.20" stroke="#bbb" stroke-width="0.4"/>
<text x="445.60" y="111.60" font-size="4.3" text-anchor="middle" fill="#444" stroke="#444" stroke-width="0.15">56</text>
<line x1="445.60" y1="105.00" x2="445.60" y2="106.20" stroke="#bbb" stroke-width="0.4"/>
<text x="462.35" y="111.60" font-size="4.3" text-anchor="middle" fill="#444" stroke="#444" stroke-width="0.15">58</text>
<line x1="462.35" y1="105.00" x2="462.35" y2="106.20" stroke="#bbb" stroke-width="0.4"/>
<text x="479.10" y="111.60" font-size="4.3" text-anchor="middle" fill="#444" stroke="#444" stroke-width="0.15">60</text>
<line x1="479.10" y1="105.00" x2="479.10" y2="106.20" stroke="#bbb" stroke-width="0.4"/>
<text x="495.85" y="111.60" font-size="4.3" text-anchor="middle" fill="#444" stroke="#444" stroke-width="0.15">62</text>
<line x1="495.85" y1="105.00" x2="495.85" y2="106.20" stroke="#bbb" stroke-width="0.4"/>
<text x="512.60" y="111.60" font-size="4.3" text-anchor="middle" fill="#444" stroke="#444" stroke-width="0.15">64</text>
<line x1="512.60" y1="105.00" x2="512.60" y2="106.20" stroke="#bbb" stroke-width="0.4"/>
<text x="442.50" y="117.80" font-size="6.6" text-anchor="middle" fill="#222" stroke="#222" stroke-width="0.23">Root depth (cm)</text>
<path d="M472.5 38.6 H474.9 V57.4 H472.5" fill="none" stroke="#333" stroke-width="0.6"/>
<text x="453.40" y="48.80" font-size="5.6" text-anchor="start" fill="#222" stroke="#222" stroke-width="0.20"><tspan font-style="italic">P</tspan> = 0.17</text>
<path d="M520 46.9 H522.4 V85.2 H520" fill="none" stroke="#333" stroke-width="0.6"/>
<text x="484.80" y="67.30" font-size="5.6" text-anchor="start" fill="#222" stroke="#222" stroke-width="0.20"><tspan font-style="italic">P</tspan> = 5.32 × 10<tspan font-size="3.2" dy="-2">-6</tspan></text>
<path d="M513.4 77 H515.8 V95.4 H513.4" fill="none" stroke="#333" stroke-width="0.6"/>
<text x="493.30" y="88.10" font-size="5.6" text-anchor="start" fill="#222" stroke="#222" stroke-width="0.20"><tspan font-style="italic">P</tspan> = 0.22</text>
<line x1="294.90" y1="136.30" x2="294.90" y2="213.00" stroke="#bbb" stroke-width="0.6"/>
<line x1="294.90" y1="213.00" x2="347.20" y2="213.00" stroke="#bbb" stroke-width="0.6"/>
<text x="290.60" y="214.60" font-size="4.7" text-anchor="end" fill="#333" stroke="#333" stroke-width="0.16">51</text>
<line x1="293.70" y1="213.00" x2="294.90" y2="213.00" stroke="#bbb" stroke-width="0.4"/>
<text x="290.60" y="206.93" font-size="4.7" text-anchor="end" fill="#333" stroke="#333" stroke-width="0.16">52</text>
<line x1="293.70" y1="205.33" x2="294.90" y2="205.33" stroke="#bbb" stroke-width="0.4"/>
<text x="290.60" y="199.26" font-size="4.7" text-anchor="end" fill="#333" stroke="#333" stroke-width="0.16">53</text>
<line x1="293.70" y1="197.66" x2="294.90" y2="197.66" stroke="#bbb" stroke-width="0.4"/>
<text x="290.60" y="191.59" font-size="4.7" text-anchor="end" fill="#333" stroke="#333" stroke-width="0.16">54</text>
<line x1="293.70" y1="189.99" x2="294.90" y2="189.99" stroke="#bbb" stroke-width="0.4"/>
<text x="290.60" y="183.92" font-size="4.7" text-anchor="end" fill="#333" stroke="#333" stroke-width="0.16">55</text>
<line x1="293.70" y1="182.32" x2="294.90" y2="182.32" stroke="#bbb" stroke-width="0.4"/>
<text x="290.60" y="176.25" font-size="4.7" text-anchor="end" fill="#333" stroke="#333" stroke-width="0.16">56</text>
<line x1="293.70" y1="174.65" x2="294.90" y2="174.65" stroke="#bbb" stroke-width="0.4"/>
<text x="290.60" y="168.58" font-size="4.7" text-anchor="end" fill="#333" stroke="#333" stroke-width="0.16">57</text>
<line x1="293.70" y1="166.98" x2="294.90" y2="166.98" stroke="#bbb" stroke-width="0.4"/>
<text x="290.60" y="160.91" font-size="4.7" text-anchor="end" fill="#333" stroke="#333" stroke-width="0.16">58</text>
<line x1="293.70" y1="159.31" x2="294.90" y2="159.31" stroke="#bbb" stroke-width="0.4"/>
<text x="290.60" y="153.24" font-size="4.7" text-anchor="end" fill="#333" stroke="#333" stroke-width="0.16">59</text>
<line x1="293.70" y1="151.64" x2="294.90" y2="151.64" stroke="#bbb" stroke-width="0.4"/>
<text x="290.60" y="145.57" font-size="4.7" text-anchor="end" fill="#333" stroke="#333" stroke-width="0.16">60</text>
<line x1="293.70" y1="143.97" x2="294.90" y2="143.97" stroke="#bbb" stroke-width="0.4"/>
<text x="290.60" y="137.90" font-size="4.7" text-anchor="end" fill="#333" stroke="#333" stroke-width="0.16">61</text>
<line x1="293.70" y1="136.30" x2="294.90" y2="136.30" stroke="#bbb" stroke-width="0.4"/>
<rect x="303.00" y="182.30" width="10.50" height="30.70" fill="#a3a3a3" stroke="none" stroke-width="0.6"/>
<rect x="329.30" y="149.00" width="9.70" height="64.00" fill="#a3a3a3" stroke="none" stroke-width="0.6"/>
<line x1="308.20" y1="177.00" x2="308.20" y2="187.40" stroke="#444" stroke-width="0.5"/>
<line x1="306.90" y1="177.00" x2="309.50" y2="177.00" stroke="#444" stroke-width="0.5"/>
<line x1="306.90" y1="187.40" x2="309.50" y2="187.40" stroke="#444" stroke-width="0.5"/>
<line x1="334.10" y1="145.00" x2="334.10" y2="152.60" stroke="#444" stroke-width="0.5"/>
<line x1="332.80" y1="145.00" x2="335.40" y2="145.00" stroke="#444" stroke-width="0.5"/>
<line x1="332.80" y1="152.60" x2="335.40" y2="152.60" stroke="#444" stroke-width="0.5"/>
<text x="334.80" y="142.80" font-size="6" text-anchor="middle" fill="#222" font-weight="bold" stroke="#222" stroke-width="0.21">***</text>
<text x="306.50" y="223.30" font-size="5.8" text-anchor="middle" fill="#222" font-style="italic" stroke="#222" stroke-width="0.20">Hap1/2</text>
<text x="333.00" y="223.30" font-size="5.8" text-anchor="middle" fill="#222" font-style="italic" stroke="#222" stroke-width="0.20">Hap3/4</text>
<text x="278.20" y="175.50" font-size="6.4" text-anchor="middle" fill="#222" transform="rotate(-90 278.20 175.50)" stroke="#222" stroke-width="0.22">Root depth (cm)</text>
<text x="443.00" y="133.50" font-size="7.2" text-anchor="middle" fill="#222" stroke="#222" stroke-width="0.25">TSD</text>
<text x="484.00" y="133.50" font-size="7.2" text-anchor="middle" fill="#222" stroke="#222" stroke-width="0.25">TIR</text>
<text x="380.00" y="142.60" font-size="5.4" text-anchor="end" fill="#333" font-style="italic" stroke="#333" stroke-width="0.05">Hap1/2</text>
<text x="380.00" y="149.60" font-size="5.4" text-anchor="end" fill="#333" font-style="italic" stroke="#333" stroke-width="0.05">Hap3/4</text>
<text x="380.00" y="159.00" font-size="5.4" text-anchor="end" fill="#333" font-style="italic" stroke="#333" stroke-width="0.05">Hap1/2</text>
<text x="380.00" y="165.55" font-size="5.4" text-anchor="end" fill="#333" font-style="italic" stroke="#333" stroke-width="0.05">Hap3/4</text>
<text x="380.00" y="175.00" font-size="5.4" text-anchor="end" fill="#333" font-style="italic" stroke="#333" stroke-width="0.05">Hap1/2</text>
<text x="380.00" y="183.05" font-size="5.4" text-anchor="end" fill="#333" font-style="italic" stroke="#333" stroke-width="0.05">Hap3/4</text>
<text x="383" y="142.00" font-size="3.6" fill="#555" textLength="134" lengthAdjust="spacingAndGlyphs" font-family="Liberation Mono">CTTAGACTCGTATAAACTTAGTATTTAGTGGCTCGATTCGAAATGACTTATCTTGAAATTT</text>
<line x1="383" y1="144.20" x2="444" y2="144.20" stroke="#777" stroke-width="0.9" stroke-dasharray="0.4 0.8"/>
<text x="383" y="149.00" font-size="3.6" fill="#555" textLength="62" lengthAdjust="spacingAndGlyphs" font-family="Liberation Mono">CTTAGACTCGTATAAACTTAGTATTTAG</text>
<line x1="446" y1="148.20" x2="517" y2="148.20" stroke="#777" stroke-width="0.9" stroke-dasharray="0.4 0.8"/>
<text x="383" y="158.40" font-size="3.6" fill="#555" textLength="134" lengthAdjust="spacingAndGlyphs" font-family="Liberation Mono">ATCTAAGTACGAATATATCTAGACTTATTTTAGTTGTAAGTACCTCGTATCTAGACAAA</text>
<line x1="383" y1="164.00" x2="517" y2="164.00" stroke="#777" stroke-width="0.9" stroke-dasharray="0.4 0.8"/>
<text x="383" y="174.40" font-size="3.6" fill="#555" textLength="134" lengthAdjust="spacingAndGlyphs" font-family="Liberation Mono">TCTAAGGCAAATAATTCGGAACGGATGGGTTAGTCTGTACATACTGTTTATTAAATTT</text>
<line x1="456" y1="178.20" x2="517" y2="178.20" stroke="#777" stroke-width="0.9" stroke-dasharray="0.4 0.8"/>
<text x="456" y="182.40" font-size="3.6" fill="#555" textLength="61" lengthAdjust="spacingAndGlyphs" font-family="Liberation Mono">TAGTCTGTACATACTGTTTATTAAATTT</text>
<line x1="383" y1="181.20" x2="450" y2="181.20" stroke="#777" stroke-width="0.9" stroke-dasharray="0.4 0.8"/>
<line x1="444.70" y1="151.70" x2="517.00" y2="151.70" stroke="#4a6a9a" stroke-width="1.3"/>
<line x1="384.00" y1="167.70" x2="431.60" y2="167.70" stroke="#4a6a9a" stroke-width="1.3"/>
<line x1="464.40" y1="167.70" x2="517.00" y2="167.70" stroke="#4a6a9a" stroke-width="1.3"/>
<line x1="384.00" y1="185.20" x2="451.00" y2="185.20" stroke="#4a6a9a" stroke-width="1.3"/>
<rect x="438.10" y="136.40" width="7.00" height="15.30" fill="none" stroke="#d03030" stroke-width="0.7"/>
<rect x="432.00" y="153.25" width="30.20" height="15.35" fill="none" stroke="#111" stroke-width="0.8"/>
<rect x="449.00" y="169.90" width="7.70" height="16.10" fill="none" stroke="#d03030" stroke-width="0.7"/>
<text x="415.70" y="194.70" font-size="7.2" text-anchor="middle" fill="#222" stroke="#222" stroke-width="0.25">TIR</text>
<text x="453.20" y="193.70" font-size="7.2" text-anchor="middle" fill="#222" stroke="#222" stroke-width="0.25">TSD</text>
<text x="355.00" y="203.50" font-size="7.6" text-anchor="start" fill="#222" font-weight="bold" stroke="#222" stroke-width="0.27">(c)</text>
<text x="383" y="207.6" font-size="3.6" fill="#555" textLength="134" lengthAdjust="spacingAndGlyphs" font-family="Liberation Mono">GACTCGCTCGGTCGAAATTACTT<tspan fill="#d04848">CTTCTGAGTTCGCTAGATACGGGT</tspan>ATATCTAGACTTAT</text>
<line x1="383" y1="209.90" x2="517" y2="209.90" stroke="#777" stroke-width="0.9" stroke-dasharray="0.4 0.8"/>
<text x="383" y="214.2" font-size="3.6" fill="#555" textLength="134" lengthAdjust="spacingAndGlyphs" font-family="Liberation Mono">ATGAA<tspan fill="#d04848">GAGCGAGCCAGCTTAAATAAGTCAG</tspan>AATTCTGAAGACAGTCTATCCTCCATAGGTCGTAG</text>
<text x="533.60" y="22.30" font-size="17.6" text-anchor="start" fill="#111">C</text>
<line x1="583.25" y1="28.25" x2="583.25" y2="77.30" stroke="#bbb" stroke-width="0.6"/>
<line x1="583.25" y1="77.30" x2="631.70" y2="77.30" stroke="#bbb" stroke-width="0.6"/>
<text x="580.00" y="78.80" font-size="4.4" text-anchor="end" fill="#333" stroke="#333" stroke-width="0.15">0</text>
<text x="580.00" y="70.62" font-size="4.4" text-anchor="end" fill="#333" stroke="#333" stroke-width="0.15">5</text>
<text x="580.00" y="62.45" font-size="4.4" text-anchor="end" fill="#333" stroke="#333" stroke-width="0.15">10</text>
<text x="580.00" y="54.28" font-size="4.4" text-anchor="end" fill="#333" stroke="#333" stroke-width="0.15">15</text>
<text x="580.00" y="46.10" font-size="4.4" text-anchor="end" fill="#333" stroke="#333" stroke-width="0.15">20</text>
<text x="580.00" y="37.92" font-size="4.4" text-anchor="end" fill="#333" stroke="#333" stroke-width="0.15">25</text>
<text x="580.00" y="29.75" font-size="4.4" text-anchor="end" fill="#333" stroke="#333" stroke-width="0.15">30</text>
<line x1="600.80" y1="61.25" x2="600.80" y2="65.00" stroke="#999" stroke-width="0.6"/>
<line x1="600.80" y1="74.75" x2="600.80" y2="75.50" stroke="#999" stroke-width="0.6"/>
<line x1="598.30" y1="61.25" x2="603.30" y2="61.25" stroke="#999" stroke-width="0.6"/>
<line x1="598.30" y1="75.50" x2="603.30" y2="75.50" stroke="#999" stroke-width="0.6"/>
<rect x="594.80" y="65.00" width="12.00" height="9.75" fill="#d9d9d9" stroke="#999" stroke-width="0.6"/>
<line x1="594.80" y1="70.25" x2="606.80" y2="70.25" stroke="#888" stroke-width="0.9"/>
<line x1="617.98" y1="32.30" x2="617.98" y2="40.00" stroke="#999" stroke-width="0.6"/>
<line x1="617.98" y1="70.25" x2="617.98" y2="72.50" stroke="#999" stroke-width="0.6"/>
<line x1="615.48" y1="32.30" x2="620.48" y2="32.30" stroke="#999" stroke-width="0.6"/>
<line x1="615.48" y1="72.50" x2="620.48" y2="72.50" stroke="#999" stroke-width="0.6"/>
<rect x="612.20" y="40.00" width="11.55" height="30.25" fill="#d9d9d9" stroke="#999" stroke-width="0.6"/>
<line x1="612.20" y1="60.80" x2="623.75" y2="60.80" stroke="#888" stroke-width="0.9"/>
<text x="618.50" y="30.40" font-size="5.6" text-anchor="middle" fill="#222" font-weight="bold" stroke="#222" stroke-width="0.20">***</text>
<text x="600.30" y="82.20" font-size="4.7" text-anchor="middle" fill="#333" stroke="#333" stroke-width="0.16">MITE<tspan font-size="2.8" dy="-1.8">+</tspan></text>
<text x="618.00" y="82.20" font-size="4.7" text-anchor="middle" fill="#333" stroke="#333" stroke-width="0.16">MITE<tspan font-size="2.8" dy="-1.8">-</tspan></text>
<text x="571.00" y="52.20" font-size="4.6" text-anchor="middle" fill="#222" transform="rotate(-90 571.00 52.20)" stroke="#222" stroke-width="0.16">Relative expression</text>
<line x1="691.40" y1="28.25" x2="691.40" y2="77.30" stroke="#bbb" stroke-width="0.6"/>
<line x1="691.40" y1="77.30" x2="745.00" y2="77.30" stroke="#bbb" stroke-width="0.6"/>
<text x="688.50" y="78.80" font-size="4.4" text-anchor="end" fill="#333" stroke="#333" stroke-width="0.15">0</text>
<text x="688.50" y="66.54" font-size="4.4" text-anchor="end" fill="#333" stroke="#333" stroke-width="0.15">5</text>
<text x="688.50" y="54.27" font-size="4.4" text-anchor="end" fill="#333" stroke="#333" stroke-width="0.15">10</text>
<text x="688.50" y="42.01" font-size="4.4" text-anchor="end" fill="#333" stroke="#333" stroke-width="0.15">15</text>
<text x="688.50" y="29.75" font-size="4.4" text-anchor="end" fill="#333" stroke="#333" stroke-width="0.15">20</text>
<line x1="710.88" y1="69.50" x2="710.88" y2="71.75" stroke="#999" stroke-width="0.6"/>
<line x1="710.88" y1="74.00" x2="710.88" y2="74.60" stroke="#999" stroke-width="0.6"/>
<line x1="708.38" y1="69.50" x2="713.38" y2="69.50" stroke="#999" stroke-width="0.6"/>
<line x1="708.38" y1="74.60" x2="713.38" y2="74.60" stroke="#999" stroke-width="0.6"/>
<rect x="706.75" y="71.75" width="8.25" height="2.25" fill="#d9d9d9" stroke="#999" stroke-width="0.6"/>
<line x1="706.75" y1="72.80" x2="715.00" y2="72.80" stroke="#888" stroke-width="0.9"/>
<line x1="728.12" y1="58.25" x2="728.12" y2="64.70" stroke="#999" stroke-width="0.6"/>
<line x1="728.12" y1="70.25" x2="728.12" y2="71.60" stroke="#999" stroke-width="0.6"/>
<line x1="725.62" y1="58.25" x2="730.62" y2="58.25" stroke="#999" stroke-width="0.6"/>
<line x1="725.62" y1="71.60" x2="730.62" y2="71.60" stroke="#999" stroke-width="0.6"/>
<rect x="722.50" y="64.70" width="11.25" height="5.55" fill="#d9d9d9" stroke="#999" stroke-width="0.6"/>
<line x1="722.50" y1="67.50" x2="733.75" y2="67.50" stroke="#888" stroke-width="0.9"/>
<line x1="708.75" y1="51.50" x2="710.75" y2="51.50" stroke="#8a8a8a" stroke-width="0.5"/>
<line x1="709.75" y1="50.50" x2="709.75" y2="52.50" stroke="#8a8a8a" stroke-width="0.5"/>
<line x1="709.50" y1="65.00" x2="711.50" y2="65.00" stroke="#8a8a8a" stroke-width="0.5"/>
<line x1="710.50" y1="64.00" x2="710.50" y2="66.00" stroke="#8a8a8a" stroke-width="0.5"/>
<line x1="727.00" y1="35.00" x2="729.00" y2="35.00" stroke="#8a8a8a" stroke-width="0.5"/>
<line x1="728.00" y1="34.00" x2="728.00" y2="36.00" stroke="#8a8a8a" stroke-width="0.5"/>
<line x1="727.00" y1="37.00" x2="729.00" y2="37.00" stroke="#8a8a8a" stroke-width="0.5"/>
<line x1="728.00" y1="36.00" x2="728.00" y2="38.00" stroke="#8a8a8a" stroke-width="0.5"/>
<line x1="727.00" y1="38.75" x2="729.00" y2="38.75" stroke="#8a8a8a" stroke-width="0.5"/>
<line x1="728.00" y1="37.75" x2="728.00" y2="39.75" stroke="#8a8a8a" stroke-width="0.5"/>
<line x1="727.00" y1="48.50" x2="729.00" y2="48.50" stroke="#8a8a8a" stroke-width="0.5"/>
<line x1="728.00" y1="47.50" x2="728.00" y2="49.50" stroke="#8a8a8a" stroke-width="0.5"/>
<line x1="727.00" y1="52.00" x2="729.00" y2="52.00" stroke="#8a8a8a" stroke-width="0.5"/>
<line x1="728.00" y1="51.00" x2="728.00" y2="53.00" stroke="#8a8a8a" stroke-width="0.5"/>
<line x1="727.00" y1="53.20" x2="729.00" y2="53.20" stroke="#8a8a8a" stroke-width="0.5"/>
<line x1="728.00" y1="52.20" x2="728.00" y2="54.20" stroke="#8a8a8a" stroke-width="0.5"/>
<line x1="727.00" y1="54.50" x2="729.00" y2="54.50" stroke="#8a8a8a" stroke-width="0.5"/>
<line x1="728.00" y1="53.50" x2="728.00" y2="55.50" stroke="#8a8a8a" stroke-width="0.5"/>
<line x1="708.00" y1="67.00" x2="710.00" y2="67.00" stroke="#8a8a8a" stroke-width="0.5"/>
<line x1="709.00" y1="66.00" x2="709.00" y2="68.00" stroke="#8a8a8a" stroke-width="0.5"/>
<line x1="709.00" y1="68.30" x2="711.00" y2="68.30" stroke="#8a8a8a" stroke-width="0.5"/>
<line x1="710.00" y1="67.30" x2="710.00" y2="69.30" stroke="#8a8a8a" stroke-width="0.5"/>
<text x="728.30" y="33.20" font-size="5.6" text-anchor="middle" fill="#222" font-weight="bold" stroke="#222" stroke-width="0.20">***</text>
<text x="709.00" y="82.20" font-size="4.7" text-anchor="middle" fill="#333" stroke="#333" stroke-width="0.16">MITE<tspan font-size="2.8" dy="-1.8">+</tspan></text>
<text x="728.00" y="82.20" font-size="4.7" text-anchor="middle" fill="#333" stroke="#333" stroke-width="0.16">MITE<tspan font-size="2.8" dy="-1.8">-</tspan></text>
<text x="678.70" y="52.20" font-size="4.6" text-anchor="middle" fill="#222" transform="rotate(-90 678.70 52.20)" stroke="#222" stroke-width="0.16">Relative expression</text>
<text x="555.00" y="94.00" font-size="7.8" text-anchor="start" fill="#222" font-weight="bold" stroke="#222" stroke-width="0.27">(c)</text>
<line x1="582.75" y1="91.30" x2="582.75" y2="138.10" stroke="#bbb" stroke-width="0.6"/>
<line x1="582.75" y1="138.10" x2="672.40" y2="138.10" stroke="#bbb" stroke-width="0.6"/>
<text x="579.40" y="139.40" font-size="3.8" text-anchor="end" fill="#333" stroke="#333" stroke-width="0.13">0</text>
<text x="579.40" y="131.60" font-size="3.8" text-anchor="end" fill="#333" stroke="#333" stroke-width="0.13">20</text>
<text x="579.40" y="123.80" font-size="3.8" text-anchor="end" fill="#333" stroke="#333" stroke-width="0.13">40</text>
<text x="579.40" y="116.00" font-size="3.8" text-anchor="end" fill="#333" stroke="#333" stroke-width="0.13">60</text>
<text x="579.40" y="108.20" font-size="3.8" text-anchor="end" fill="#333" stroke="#333" stroke-width="0.13">80</text>
<text x="579.40" y="100.40" font-size="3.8" text-anchor="end" fill="#333" stroke="#333" stroke-width="0.13">100</text>
<text x="579.40" y="92.60" font-size="3.8" text-anchor="end" fill="#333" stroke="#333" stroke-width="0.13">120</text>
<text x="584.40" y="144.90" font-size="4.4" text-anchor="middle" fill="#333" stroke="#333" stroke-width="0.15">0</text>
<text x="605.80" y="144.90" font-size="4.4" text-anchor="middle" fill="#333" stroke="#333" stroke-width="0.15">100</text>
<text x="628.00" y="144.90" font-size="4.4" text-anchor="middle" fill="#333" stroke="#333" stroke-width="0.15">200</text>
<text x="650.00" y="144.90" font-size="4.4" text-anchor="middle" fill="#333" stroke="#333" stroke-width="0.15">300</text>
<text x="672.40" y="144.90" font-size="4.4" text-anchor="middle" fill="#333" stroke="#333" stroke-width="0.15">400 bp</text>
<text x="629.30" y="151.80" font-size="6.2" text-anchor="middle" fill="#222" stroke="#222" stroke-width="0.22">MITE<tspan font-size="3.2" dy="-2">+</tspan></text>
<text x="636.50" y="94.60" font-size="6.3" text-anchor="middle" fill="#222" stroke="#222" stroke-width="0.22">MITE</text>
<text x="572.30" y="118.50" font-size="4.8" text-anchor="middle" fill="#222" transform="rotate(-90 572.30 118.50)" stroke="#222" stroke-width="0.17"><tspan font-size="3" dy="-1.4">m</tspan><tspan dy="1.4">C level (%)</tspan></text>
<line x1="624.50" y1="96.90" x2="650.00" y2="96.90" stroke="#d84848" stroke-width="1.1"/>
<circle cx="600.20" cy="101.70" r="0.85" fill="#4a4a4a"/>
<circle cx="625.60" cy="101.70" r="0.85" fill="#4a4a4a"/>
<circle cx="626.40" cy="102.20" r="0.85" fill="#4a4a4a"/>
<circle cx="632.40" cy="100.00" r="0.85" fill="#4a4a4a"/>
<circle cx="640.70" cy="100.90" r="0.85" fill="#4a4a4a"/>
<circle cx="648.30" cy="101.70" r="0.85" fill="#4a4a4a"/>
<circle cx="656.50" cy="100.00" r="0.85" fill="#4a4a4a"/>
<circle cx="659.70" cy="100.00" r="0.85" fill="#4a4a4a"/>
<circle cx="622.40" cy="121.50" r="0.85" fill="#4a4a4a"/>
<circle cx="624.50" cy="127.00" r="0.85" fill="#4a4a4a"/>
<circle cx="628.00" cy="125.50" r="0.85" fill="#4a4a4a"/>
<circle cx="630.80" cy="126.00" r="0.85" fill="#4a4a4a"/>
<circle cx="626.00" cy="127.50" r="0.85" fill="#4a4a4a"/>
<circle cx="623.20" cy="131.00" r="0.85" fill="#4a4a4a"/>
<circle cx="623.50" cy="132.60" r="0.85" fill="#4a4a4a"/>
<circle cx="634.30" cy="133.90" r="0.85" fill="#4a4a4a"/>
<circle cx="635.60" cy="131.00" r="0.85" fill="#4a4a4a"/>
<circle cx="637.80" cy="126.60" r="0.85" fill="#4a4a4a"/>
<circle cx="640.30" cy="118.60" r="0.85" fill="#4a4a4a"/>
<circle cx="640.30" cy="131.00" r="0.85" fill="#4a4a4a"/>
<circle cx="642.60" cy="131.80" r="0.85" fill="#4a4a4a"/>
<circle cx="642.00" cy="125.50" r="0.85" fill="#4a4a4a"/>
<circle cx="643.80" cy="125.50" r="0.85" fill="#4a4a4a"/>
<circle cx="645.40" cy="117.50" r="0.85" fill="#4a4a4a"/>
<circle cx="647.00" cy="114.80" r="0.85" fill="#4a4a4a"/>
<circle cx="625.50" cy="126.60" r="0.85" fill="#4a4a4a"/>
<circle cx="584.40" cy="137.60" r="0.85" fill="#8a8a8a"/>
<circle cx="586.30" cy="137.60" r="0.85" fill="#8a8a8a"/>
<circle cx="588.20" cy="137.60" r="0.85" fill="#8a8a8a"/>
<circle cx="590.10" cy="137.60" r="0.85" fill="#8a8a8a"/>
<circle cx="592.00" cy="137.60" r="0.85" fill="#8a8a8a"/>
<circle cx="594.00" cy="137.60" r="0.85" fill="#8a8a8a"/>
<circle cx="596.00" cy="137.60" r="0.85" fill="#8a8a8a"/>
<circle cx="599.50" cy="137.60" r="0.85" fill="#8a8a8a"/>
<circle cx="602.00" cy="137.60" r="0.85" fill="#8a8a8a"/>
<circle cx="605.00" cy="137.60" r="0.85" fill="#8a8a8a"/>
<circle cx="607.30" cy="137.60" r="0.85" fill="#8a8a8a"/>
<circle cx="609.70" cy="137.60" r="0.85" fill="#8a8a8a"/>
<circle cx="614.50" cy="137.60" r="0.85" fill="#8a8a8a"/>
<circle cx="616.60" cy="137.60" r="0.85" fill="#8a8a8a"/>
<circle cx="618.70" cy="137.60" r="0.85" fill="#8a8a8a"/>
<circle cx="620.80" cy="137.60" r="0.85" fill="#8a8a8a"/>
<circle cx="652.00" cy="137.60" r="0.85" fill="#8a8a8a"/>
<circle cx="654.50" cy="137.60" r="0.85" fill="#8a8a8a"/>
<circle cx="657.00" cy="137.60" r="0.85" fill="#8a8a8a"/>
<circle cx="660.00" cy="137.60" r="0.85" fill="#8a8a8a"/>
<circle cx="662.50" cy="137.60" r="0.85" fill="#8a8a8a"/>
<circle cx="665.00" cy="137.60" r="0.85" fill="#8a8a8a"/>
<circle cx="668.00" cy="137.60" r="0.85" fill="#8a8a8a"/>
<circle cx="670.50" cy="137.60" r="0.85" fill="#8a8a8a"/>
<line x1="691.70" y1="91.30" x2="691.70" y2="138.10" stroke="#bbb" stroke-width="0.6"/>
<line x1="691.70" y1="138.10" x2="779.00" y2="138.10" stroke="#bbb" stroke-width="0.6"/>
<text x="688.40" y="139.40" font-size="3.8" text-anchor="end" fill="#333" stroke="#333" stroke-width="0.13">0</text>
<text x="688.40" y="131.60" font-size="3.8" text-anchor="end" fill="#333" stroke="#333" stroke-width="0.13">20</text>
<text x="688.40" y="123.80" font-size="3.8" text-anchor="end" fill="#333" stroke="#333" stroke-width="0.13">40</text>
<text x="688.40" y="116.00" font-size="3.8" text-anchor="end" fill="#333" stroke="#333" stroke-width="0.13">60</text>
<text x="688.40" y="108.20" font-size="3.8" text-anchor="end" fill="#333" stroke="#333" stroke-width="0.13">80</text>
<text x="688.40" y="100.40" font-size="3.8" text-anchor="end" fill="#333" stroke="#333" stroke-width="0.13">100</text>
<text x="688.40" y="92.60" font-size="3.8" text-anchor="end" fill="#333" stroke="#333" stroke-width="0.13">120</text>
<text x="692.00" y="144.90" font-size="4.4" text-anchor="middle" fill="#333" stroke="#333" stroke-width="0.15">0</text>
<text x="721.00" y="144.90" font-size="4.4" text-anchor="middle" fill="#333" stroke="#333" stroke-width="0.15">100</text>
<text x="749.60" y="144.90" font-size="4.4" text-anchor="middle" fill="#333" stroke="#333" stroke-width="0.15">200</text>
<text x="783.00" y="144.90" font-size="4.4" text-anchor="middle" fill="#333" stroke="#333" stroke-width="0.15">300 bp</text>
<text x="735.30" y="151.80" font-size="6.2" text-anchor="middle" fill="#222" stroke="#222" stroke-width="0.22">MITE<tspan font-size="3.2" dy="-2">-</tspan></text>
<circle cx="712.80" cy="123.00" r="0.85" fill="#4a4a4a"/>
<circle cx="752.30" cy="100.00" r="0.85" fill="#4a4a4a"/>
<circle cx="756.20" cy="99.00" r="0.85" fill="#4a4a4a"/>
<circle cx="693.00" cy="137.60" r="0.85" fill="#8a8a8a"/>
<circle cx="695.50" cy="137.60" r="0.85" fill="#8a8a8a"/>
<circle cx="698.00" cy="137.60" r="0.85" fill="#8a8a8a"/>
<circle cx="700.50" cy="137.60" r="0.85" fill="#8a8a8a"/>
<circle cx="703.00" cy="137.60" r="0.85" fill="#8a8a8a"/>
<circle cx="706.00" cy="137.60" r="0.85" fill="#8a8a8a"/>
<circle cx="709.00" cy="137.60" r="0.85" fill="#8a8a8a"/>
<circle cx="712.00" cy="137.60" r="0.85" fill="#8a8a8a"/>
<circle cx="715.00" cy="137.60" r="0.85" fill="#8a8a8a"/>
<circle cx="718.50" cy="137.60" r="0.85" fill="#8a8a8a"/>
<circle cx="722.00" cy="137.60" r="0.85" fill="#8a8a8a"/>
<circle cx="726.00" cy="137.60" r="0.85" fill="#8a8a8a"/>
<circle cx="729.50" cy="137.60" r="0.85" fill="#8a8a8a"/>
<circle cx="732.00" cy="137.60" r="0.85" fill="#8a8a8a"/>
<circle cx="734.50" cy="137.60" r="0.85" fill="#8a8a8a"/>
<circle cx="737.00" cy="137.60" r="0.85" fill="#8a8a8a"/>
<circle cx="739.00" cy="137.60" r="0.85" fill="#8a8a8a"/>
<circle cx="741.50" cy="137.60" r="0.85" fill="#8a8a8a"/>
<circle cx="744.00" cy="137.60" r="0.85" fill="#8a8a8a"/>
<circle cx="747.00" cy="137.60" r="0.85" fill="#8a8a8a"/>
<circle cx="750.00" cy="137.60" r="0.85" fill="#8a8a8a"/>
<circle cx="753.00" cy="137.60" r="0.85" fill="#8a8a8a"/>
<circle cx="756.50" cy="137.60" r="0.85" fill="#8a8a8a"/>
<circle cx="760.00" cy="137.60" r="0.85" fill="#8a8a8a"/>
<circle cx="764.00" cy="137.60" r="0.85" fill="#8a8a8a"/>
<circle cx="768.00" cy="137.60" r="0.85" fill="#8a8a8a"/>
<text x="554.80" y="162.00" font-size="7.8" text-anchor="start" fill="#222" font-weight="bold" stroke="#222" stroke-width="0.27">(d)</text>
<text x="665.20" y="162.00" font-size="7.8" text-anchor="start" fill="#222" font-weight="bold" stroke="#222" stroke-width="0.27">(e)</text>
<line x1="584.70" y1="167.80" x2="584.70" y2="219.30" stroke="#bbb" stroke-width="0.6"/>
<line x1="584.70" y1="219.30" x2="674.20" y2="219.30" stroke="#bbb" stroke-width="0.6"/>
<text x="581.40" y="219.90" font-size="3.8" text-anchor="end" fill="#333" stroke="#333" stroke-width="0.13">0</text>
<text x="581.40" y="209.90" font-size="3.8" text-anchor="end" fill="#333" stroke="#333" stroke-width="0.13">1</text>
<text x="581.40" y="199.90" font-size="3.8" text-anchor="end" fill="#333" stroke="#333" stroke-width="0.13">2</text>
<text x="581.40" y="189.90" font-size="3.8" text-anchor="end" fill="#333" stroke="#333" stroke-width="0.13">3</text>
<text x="581.40" y="179.90" font-size="3.8" text-anchor="end" fill="#333" stroke="#333" stroke-width="0.13">4</text>
<text x="581.40" y="169.90" font-size="3.8" text-anchor="end" fill="#333" stroke="#333" stroke-width="0.13">5</text>
<rect x="596.80" y="214.60" width="2.80" height="4.00" fill="#a52a1a" stroke="#5a2010" stroke-width="0.35" fill-opacity="1"/>
<line x1="598.20" y1="213.80" x2="598.20" y2="214.60" stroke="#333" stroke-width="0.3"/>
<rect x="600.20" y="210.60" width="2.80" height="8.00" fill="#44c044" stroke="#2a7a2a" stroke-width="0.35" fill-opacity="1"/>
<line x1="601.60" y1="209.80" x2="601.60" y2="210.60" stroke="#333" stroke-width="0.3"/>
<rect x="603.60" y="215.10" width="2.80" height="3.50" fill="#8a2a10" stroke="#5a2010" stroke-width="0.35" fill-opacity="1"/>
<line x1="605.00" y1="214.30" x2="605.00" y2="215.10" stroke="#333" stroke-width="0.3"/>
<rect x="607.00" y="210.60" width="2.80" height="8.00" fill="#44c044" stroke="#2a7a2a" stroke-width="0.35" fill-opacity="1"/>
<line x1="607.30" y1="211.00" x2="609.50" y2="211.00" stroke="#a8e0a8" stroke-width="0.5"/>
<line x1="607.30" y1="213.00" x2="609.50" y2="213.00" stroke="#a8e0a8" stroke-width="0.5"/>
<line x1="607.30" y1="215.00" x2="609.50" y2="215.00" stroke="#a8e0a8" stroke-width="0.5"/>
<line x1="607.30" y1="217.00" x2="609.50" y2="217.00" stroke="#a8e0a8" stroke-width="0.5"/>
<line x1="608.40" y1="209.80" x2="608.40" y2="210.60" stroke="#333" stroke-width="0.3"/>
<rect x="614.20" y="216.10" width="2.80" height="2.50" fill="#a52a1a" stroke="#5a2010" stroke-width="0.35" fill-opacity="1"/>
<line x1="615.60" y1="215.30" x2="615.60" y2="216.10" stroke="#333" stroke-width="0.3"/>
<rect x="617.60" y="208.10" width="2.80" height="10.50" fill="#44c044" stroke="#2a7a2a" stroke-width="0.35" fill-opacity="1"/>
<line x1="619.00" y1="207.30" x2="619.00" y2="208.10" stroke="#333" stroke-width="0.3"/>
<rect x="621.00" y="215.60" width="2.80" height="3.00" fill="#8a2a10" stroke="#5a2010" stroke-width="0.35" fill-opacity="1"/>
<line x1="622.40" y1="214.80" x2="622.40" y2="215.60" stroke="#333" stroke-width="0.3"/>
<rect x="624.40" y="208.60" width="2.80" height="10.00" fill="#44c044" stroke="#2a7a2a" stroke-width="0.35" fill-opacity="1"/>
<line x1="624.70" y1="209.00" x2="626.90" y2="209.00" stroke="#a8e0a8" stroke-width="0.5"/>
<line x1="624.70" y1="211.00" x2="626.90" y2="211.00" stroke="#a8e0a8" stroke-width="0.5"/>
<line x1="624.70" y1="213.00" x2="626.90" y2="213.00" stroke="#a8e0a8" stroke-width="0.5"/>
<line x1="624.70" y1="215.00" x2="626.90" y2="215.00" stroke="#a8e0a8" stroke-width="0.5"/>
<line x1="624.70" y1="217.00" x2="626.90" y2="217.00" stroke="#a8e0a8" stroke-width="0.5"/>
<line x1="625.80" y1="207.80" x2="625.80" y2="208.60" stroke="#333" stroke-width="0.3"/>
<rect x="631.90" y="214.60" width="2.80" height="4.00" fill="#a52a1a" stroke="#5a2010" stroke-width="0.35" fill-opacity="1"/>
<line x1="633.30" y1="213.80" x2="633.30" y2="214.60" stroke="#333" stroke-width="0.3"/>
<rect x="635.30" y="173.10" width="2.80" height="45.50" fill="#44c044" stroke="#2a7a2a" stroke-width="0.35" fill-opacity="1"/>
<line x1="636.70" y1="172.30" x2="636.70" y2="173.10" stroke="#333" stroke-width="0.3"/>
<rect x="638.70" y="217.10" width="2.80" height="1.50" fill="#8a2a10" stroke="#5a2010" stroke-width="0.35" fill-opacity="1"/>
<line x1="640.10" y1="216.30" x2="640.10" y2="217.10" stroke="#333" stroke-width="0.3"/>
<rect x="642.10" y="197.10" width="2.80" height="21.50" fill="#44c044" stroke="#2a7a2a" stroke-width="0.35" fill-opacity="1"/>
<line x1="642.40" y1="198.00" x2="644.60" y2="198.00" stroke="#a8e0a8" stroke-width="0.5"/>
<line x1="642.40" y1="200.00" x2="644.60" y2="200.00" stroke="#a8e0a8" stroke-width="0.5"/>
<line x1="642.40" y1="202.00" x2="644.60" y2="202.00" stroke="#a8e0a8" stroke-width="0.5"/>
<line x1="642.40" y1="204.00" x2="644.60" y2="204.00" stroke="#a8e0a8" stroke-width="0.5"/>
<line x1="642.40" y1="206.00" x2="644.60" y2="206.00" stroke="#a8e0a8" stroke-width="0.5"/>
<line x1="642.40" y1="208.00" x2="644.60" y2="208.00" stroke="#a8e0a8" stroke-width="0.5"/>
<line x1="642.40" y1="210.00" x2="644.60" y2="210.00" stroke="#a8e0a8" stroke-width="0.5"/>
<line x1="642.40" y1="212.00" x2="644.60" y2="212.00" stroke="#a8e0a8" stroke-width="0.5"/>
<line x1="642.40" y1="214.00" x2="644.60" y2="214.00" stroke="#a8e0a8" stroke-width="0.5"/>
<line x1="642.40" y1="216.00" x2="644.60" y2="216.00" stroke="#a8e0a8" stroke-width="0.5"/>
<line x1="643.50" y1="196.30" x2="643.50" y2="197.10" stroke="#333" stroke-width="0.3"/>
<rect x="650.00" y="217.10" width="2.80" height="1.50" fill="#a52a1a" stroke="#5a2010" stroke-width="0.35" fill-opacity="1"/>
<line x1="651.40" y1="216.30" x2="651.40" y2="217.10" stroke="#333" stroke-width="0.3"/>
<rect x="653.40" y="194.10" width="2.80" height="24.50" fill="#44c044" stroke="#2a7a2a" stroke-width="0.35" fill-opacity="1"/>
<line x1="654.80" y1="193.30" x2="654.80" y2="194.10" stroke="#333" stroke-width="0.3"/>
<rect x="656.80" y="217.60" width="2.80" height="1.00" fill="#8a2a10" stroke="#5a2010" stroke-width="0.35" fill-opacity="1"/>
<line x1="658.20" y1="216.80" x2="658.20" y2="217.60" stroke="#333" stroke-width="0.3"/>
<rect x="660.20" y="202.60" width="2.80" height="16.00" fill="#44c044" stroke="#2a7a2a" stroke-width="0.35" fill-opacity="1"/>
<line x1="660.50" y1="203.00" x2="662.70" y2="203.00" stroke="#a8e0a8" stroke-width="0.5"/>
<line x1="660.50" y1="205.00" x2="662.70" y2="205.00" stroke="#a8e0a8" stroke-width="0.5"/>
<line x1="660.50" y1="207.00" x2="662.70" y2="207.00" stroke="#a8e0a8" stroke-width="0.5"/>
<line x1="660.50" y1="209.00" x2="662.70" y2="209.00" stroke="#a8e0a8" stroke-width="0.5"/>
<line x1="660.50" y1="211.00" x2="662.70" y2="211.00" stroke="#a8e0a8" stroke-width="0.5"/>
<line x1="660.50" y1="213.00" x2="662.70" y2="213.00" stroke="#a8e0a8" stroke-width="0.5"/>
<line x1="660.50" y1="215.00" x2="662.70" y2="215.00" stroke="#a8e0a8" stroke-width="0.5"/>
<line x1="660.50" y1="217.00" x2="662.70" y2="217.00" stroke="#a8e0a8" stroke-width="0.5"/>
<line x1="661.60" y1="201.80" x2="661.60" y2="202.60" stroke="#333" stroke-width="0.3"/>
<text x="601.30" y="225.40" font-size="4.6" text-anchor="middle" fill="#333" stroke="#333" stroke-width="0.16">GAPDH</text>
<text x="619.70" y="225.40" font-size="4.6" text-anchor="middle" fill="#333" stroke="#333" stroke-width="0.16">R1</text>
<text x="637.50" y="225.40" font-size="4.6" text-anchor="middle" fill="#333" stroke="#333" stroke-width="0.16">R2</text>
<text x="655.20" y="225.40" font-size="4.6" text-anchor="middle" fill="#333" stroke="#333" stroke-width="0.16">R3</text>
<rect x="593.40" y="173.10" width="3.20" height="2.80" fill="#a52a1a" stroke="none" stroke-width="0.6"/>
<text x="600.00" y="175.50" font-size="2.9" text-anchor="start" fill="#444" stroke="#444" stroke-width="0.10">MITE+ no Ab</text>
<rect x="593.40" y="176.20" width="3.20" height="2.80" fill="#44c044" stroke="none" stroke-width="0.6"/>
<text x="600.00" y="178.60" font-size="2.9" text-anchor="start" fill="#444" stroke="#444" stroke-width="0.10">MITE+ Ab</text>
<rect x="593.40" y="179.90" width="3.20" height="2.80" fill="#8a2a10" stroke="none" stroke-width="0.6"/>
<text x="600.00" y="182.30" font-size="2.9" text-anchor="start" fill="#444" stroke="#444" stroke-width="0.10">MITE- no Ab</text>
<rect x="593.40" y="183.80" width="3.20" height="2.80" fill="#44c044" stroke="none" stroke-width="0.6"/>
<text x="600.00" y="186.20" font-size="2.9" text-anchor="start" fill="#444" stroke="#444" stroke-width="0.10">MITE- Ab</text>
<text x="570.00" y="190.50" font-size="5.0" text-anchor="middle" fill="#222" transform="rotate(-90 570.00 190.50)" stroke="#222" stroke-width="0.18">Enrichment of H3K27me3</text>
<text x="683.30" y="170.40" font-size="7.0" text-anchor="start" fill="#222" font-style="italic" stroke="#222" stroke-width="0.28">TaVSR1-B</text>
<text x="684.20" y="177.40" font-size="4.5" text-anchor="start" fill="#333" stroke="#333" stroke-width="0.16">MITE</text>
<line x1="685.20" y1="182.10" x2="779.90" y2="182.10" stroke="#111" stroke-width="1.0"/>
<path d="M687 180.3 L688.8 182.1 L687 183.9 L685.2 182.1Z" fill="#c03030"/>
<rect x="711.40" y="180.80" width="3.40" height="2.60" fill="#bbb" stroke="none" stroke-width="0.6"/>
<rect x="769.70" y="180.80" width="7.70" height="2.60" fill="#bbb" stroke="none" stroke-width="0.6"/>
<rect x="715.30" y="180.10" width="3.70" height="4.00" fill="#111" stroke="none" stroke-width="0.6"/>
<rect x="733.40" y="180.10" width="9.30" height="4.00" fill="#111" stroke="none" stroke-width="0.6"/>
<rect x="745.40" y="180.30" width="1.30" height="3.60" fill="#111" stroke="none" stroke-width="0.6"/>
<rect x="747.90" y="180.30" width="1.30" height="3.60" fill="#111" stroke="none" stroke-width="0.6"/>
<rect x="750.40" y="180.30" width="1.30" height="3.60" fill="#111" stroke="none" stroke-width="0.6"/>
<rect x="752.90" y="180.30" width="1.30" height="3.60" fill="#111" stroke="none" stroke-width="0.6"/>
<rect x="755.40" y="180.30" width="1.30" height="3.60" fill="#111" stroke="none" stroke-width="0.6"/>
<rect x="757.90" y="180.30" width="1.30" height="3.60" fill="#111" stroke="none" stroke-width="0.6"/>
<rect x="760.40" y="180.30" width="1.30" height="3.60" fill="#111" stroke="none" stroke-width="0.6"/>
<rect x="762.90" y="180.30" width="1.30" height="3.60" fill="#111" stroke="none" stroke-width="0.6"/>
<rect x="765.90" y="180.30" width="1.30" height="3.60" fill="#111" stroke="none" stroke-width="0.6"/>
<path d="M779.9 181 L781.5 182.1 L779.9 183.2Z" fill="#555"/>
<line x1="687.00" y1="187.50" x2="692.00" y2="187.50" stroke="#111" stroke-width="1.2"/>
<line x1="706.90" y1="187.50" x2="709.20" y2="187.50" stroke="#111" stroke-width="1.2"/>
<line x1="715.30" y1="187.50" x2="717.70" y2="187.50" stroke="#111" stroke-width="1.2"/>
<line x1="733.00" y1="187.50" x2="735.50" y2="187.50" stroke="#111" stroke-width="1.2"/>
<text x="688.40" y="193.40" font-size="4.6" text-anchor="middle" fill="#333" stroke="#333" stroke-width="0.16">HSP</text>
<text x="707.30" y="193.40" font-size="4.6" text-anchor="middle" fill="#333" stroke="#333" stroke-width="0.16">R1</text>
<text x="717.40" y="193.40" font-size="4.6" text-anchor="middle" fill="#333" stroke="#333" stroke-width="0.16">R2</text>
<text x="734.20" y="193.40" font-size="4.6" text-anchor="middle" fill="#333" stroke="#333" stroke-width="0.16">R3</text>
<text x="686.70" y="206.80" font-size="7.0" text-anchor="start" fill="#222" font-style="italic" stroke="#222" stroke-width="0.28">TaGAPDH</text>
<line x1="685.20" y1="214.20" x2="777.40" y2="214.20" stroke="#111" stroke-width="1.0"/>
<rect x="686.00" y="213.00" width="7.70" height="2.40" fill="#bbb" stroke="none" stroke-width="0.6"/>
<rect x="773.00" y="213.00" width="3.00" height="2.40" fill="#bbb" stroke="none" stroke-width="0.6"/>
<rect x="695.20" y="212.30" width="2.10" height="3.80" fill="#111" stroke="none" stroke-width="0.6"/>
<rect x="699.40" y="212.30" width="2.10" height="3.80" fill="#111" stroke="none" stroke-width="0.6"/>
<rect x="711.30" y="212.30" width="2.10" height="3.80" fill="#111" stroke="none" stroke-width="0.6"/>
<rect x="716.00" y="212.30" width="2.10" height="3.80" fill="#111" stroke="none" stroke-width="0.6"/>
<rect x="730.70" y="212.30" width="2.10" height="3.80" fill="#111" stroke="none" stroke-width="0.6"/>
<rect x="735.30" y="212.30" width="2.10" height="3.80" fill="#111" stroke="none" stroke-width="0.6"/>
<rect x="739.20" y="212.30" width="2.10" height="3.80" fill="#111" stroke="none" stroke-width="0.6"/>
<rect x="753.50" y="212.30" width="2.10" height="3.80" fill="#111" stroke="none" stroke-width="0.6"/>
<rect x="760.30" y="212.30" width="2.10" height="3.80" fill="#111" stroke="none" stroke-width="0.6"/>
<rect x="764.50" y="212.30" width="2.10" height="3.80" fill="#111" stroke="none" stroke-width="0.6"/>
<rect x="770.40" y="212.30" width="2.10" height="3.80" fill="#111" stroke="none" stroke-width="0.6"/>
<path d="M684 214.2 L686 213.1 L686 215.3Z" fill="#555"/><path d="M777.4 213.1 L779.2 214.2 L777.4 215.3Z" fill="#555"/>
<line x1="698.00" y1="219.00" x2="703.00" y2="219.00" stroke="#111" stroke-width="1.2"/>
<line x1="755.40" y1="219.00" x2="761.30" y2="219.00" stroke="#111" stroke-width="1.2"/>
<text x="700.50" y="225.40" font-size="4.6" text-anchor="middle" fill="#333" stroke="#333" stroke-width="0.16">CMP</text>
<text x="758.30" y="225.40" font-size="4.6" text-anchor="middle" fill="#333" stroke="#333" stroke-width="0.16">RT</text>
<text x="10.40" y="264.60" font-size="17.9" text-anchor="start" fill="#111">D</text>
<rect x="23.15" y="290.70" width="78.75" height="15.80" fill="#2a2a2a" stroke="none" stroke-width="0.6"/>
<rect x="23.15" y="290.70" width="78.75" height="2.60" fill="#363636" stroke="none" stroke-width="0.6"/>
<rect x="29.10" y="298.05" width="3.80" height="1.50" fill="#b4b4b4" stroke="none" stroke-width="0.6"/>
<rect x="34.40" y="299.65" width="3.80" height="1.50" fill="#e8e8e8" stroke="none" stroke-width="0.6"/>
<rect x="39.60" y="297.65" width="3.80" height="1.50" fill="#c0c0c0" stroke="none" stroke-width="0.6"/>
<rect x="44.90" y="297.65" width="3.80" height="1.50" fill="#c8c8c8" stroke="none" stroke-width="0.6"/>
<rect x="50.10" y="297.65" width="3.80" height="1.50" fill="#9a9a9a" stroke="none" stroke-width="0.6"/>
<rect x="55.40" y="297.65" width="3.80" height="1.50" fill="#e0e0e0" stroke="none" stroke-width="0.6"/>
<rect x="60.60" y="297.65" width="3.80" height="1.50" fill="#c0c0c0" stroke="none" stroke-width="0.6"/>
<rect x="65.90" y="297.65" width="3.80" height="1.50" fill="#d0d0d0" stroke="none" stroke-width="0.6"/>
<rect x="71.10" y="298.95" width="3.80" height="1.50" fill="#9a9a9a" stroke="none" stroke-width="0.6"/>
<rect x="76.40" y="298.95" width="3.80" height="1.50" fill="#e0e0e0" stroke="none" stroke-width="0.6"/>
<rect x="81.60" y="298.95" width="3.80" height="1.50" fill="#a0a0a0" stroke="none" stroke-width="0.6"/>
<rect x="86.90" y="298.95" width="3.80" height="1.50" fill="#e8e8e8" stroke="none" stroke-width="0.6"/>
<rect x="92.10" y="298.95" width="3.80" height="1.50" fill="#a0a0a0" stroke="none" stroke-width="0.6"/>
<rect x="97.40" y="298.95" width="3.80" height="1.50" fill="#ececec" stroke="none" stroke-width="0.6"/>
<rect x="25.00" y="295.30" width="1.80" height="0.60" fill="#6a6a6a" stroke="none" stroke-width="0.6"/>
<rect x="25.00" y="298.30" width="1.80" height="0.60" fill="#6a6a6a" stroke="none" stroke-width="0.6"/>
<rect x="25.00" y="302.00" width="1.80" height="0.60" fill="#6a6a6a" stroke="none" stroke-width="0.6"/>
<text x="30.50" y="287.00" font-size="5.0" text-anchor="start" fill="#222" font-style="italic" transform="rotate(-50 30.50 287.00)" stroke="#222" stroke-width="0.18">Drysdale</text>
<text x="37.00" y="288.20" font-size="5.0" text-anchor="start" fill="#222" font-style="italic" transform="rotate(-50 37.00 288.20)" stroke="#222" stroke-width="0.18">Hanxuan10</text>
<text x="70.40" y="272.20" font-size="5.0" text-anchor="middle" fill="#222" stroke="#222" stroke-width="0.18">ILs</text>
<line x1="52.90" y1="275.60" x2="87.90" y2="275.60" stroke="#333" stroke-width="1.0"/>
<text x="53.80" y="282.80" font-size="4.4" text-anchor="middle" fill="#222" stroke="#222" stroke-width="0.15">MITE<tspan font-size="2.6" dy="-1.6">+</tspan></text>
<text x="86.60" y="282.80" font-size="4.4" text-anchor="middle" fill="#222" stroke="#222" stroke-width="0.15">MITE<tspan font-size="2.6" dy="-1.6">-</tspan></text>
<line x1="42.25" y1="285.70" x2="67.60" y2="285.70" stroke="#333" stroke-width="1.0"/>
<line x1="73.30" y1="285.70" x2="99.90" y2="285.70" stroke="#333" stroke-width="1.0"/>
<text x="34.10" y="331.20" font-size="4.0" text-anchor="middle" fill="#222" stroke="#222" stroke-width="0.14">Drysdale</text>
<text x="53.40" y="331.20" font-size="4.0" text-anchor="middle" fill="#222" stroke="#222" stroke-width="0.14">Hanxuan10</text>
<text x="81.50" y="328.60" font-size="4.2" text-anchor="middle" fill="#222" stroke="#222" stroke-width="0.15">ILs</text>
<line x1="71.40" y1="332.40" x2="94.50" y2="332.40" stroke="#444" stroke-width="0.7"/>
<text x="34.60" y="339.20" font-size="3.9" text-anchor="middle" fill="#222" stroke="#222" stroke-width="0.14">MITE<tspan font-size="2.4" dy="-1.4">+</tspan></text>
<text x="54.80" y="339.20" font-size="3.9" text-anchor="middle" fill="#222" stroke="#222" stroke-width="0.14">MITE<tspan font-size="2.4" dy="-1.4">-</tspan></text>
<text x="72.90" y="339.20" font-size="3.9" text-anchor="middle" fill="#222" stroke="#222" stroke-width="0.14">MITE<tspan font-size="2.4" dy="-1.4">+</tspan></text>
<text x="90.20" y="339.20" font-size="3.9" text-anchor="middle" fill="#222" stroke="#222" stroke-width="0.14">MITE<tspan font-size="2.4" dy="-1.4">-</tspan></text>
<rect x="23.30" y="344.20" width="78.40" height="125.50" fill="#060606" stroke="none" stroke-width="0.6"/>
<path d="M29.3 359.7 C31.3 379.7 37.8 386.4 35.3 417.4" fill="none" stroke="#7e9c5c" stroke-width="0.75"/>
<path d="M37.7 356.9 C36.7 381.9 32.8 391.4 34.8 417.4" fill="none" stroke="#6e9050" stroke-width="0.75"/>
<path d="M35.1 415.4 L34.8 421.4" fill="none" stroke="#b8c4a8" stroke-width="0.9"/>
<ellipse cx="34.8" cy="421.9" rx="1.3" ry="1.8" fill="#b8b8b0"/>
<path d="M34.8 423.4 C33.8 433.4 36.3 440.2 32.6 459.0" fill="none" stroke="#a8aca4" stroke-width="0.75"/>
<path d="M35.3 424.4 C36.8 431.4 35.8 441.4 36.8 451.4" fill="none" stroke="#7c807a" stroke-width="0.45"/>
<path d="M49.7 350.4 C51.7 370.4 54.0 386.4 51.5 417.4" fill="none" stroke="#7e9c5c" stroke-width="0.75"/>
<path d="M62.7 361.5 C61.7 386.5 49.0 391.4 51.0 417.4" fill="none" stroke="#6e9050" stroke-width="0.75"/>
<path d="M51.3 415.4 L51.0 421.4" fill="none" stroke="#b8c4a8" stroke-width="0.9"/>
<ellipse cx="51.0" cy="421.9" rx="1.3" ry="1.8" fill="#b8b8b0"/>
<path d="M51.0 423.4 C50.0 433.4 52.5 443.9 52.5 466.5" fill="none" stroke="#a8aca4" stroke-width="0.75"/>
<path d="M51.5 424.4 C53.0 431.4 52.0 441.4 53.0 451.4" fill="none" stroke="#7c807a" stroke-width="0.45"/>
<path d="M65.5 368.0 C67.5 388.0 72.5 386.4 70.0 417.4" fill="none" stroke="#7e9c5c" stroke-width="0.75"/>
<path d="M72.0 357.8 C71.0 382.8 67.5 391.4 69.5 417.4" fill="none" stroke="#6e9050" stroke-width="0.75"/>
<path d="M69.8 415.4 L69.5 421.4" fill="none" stroke="#b8c4a8" stroke-width="0.9"/>
<ellipse cx="69.5" cy="421.9" rx="1.3" ry="1.8" fill="#b8b8b0"/>
<path d="M69.5 423.4 C68.5 433.4 71.0 440.2 71.0 459.0" fill="none" stroke="#a8aca4" stroke-width="0.75"/>
<path d="M70.0 424.4 C71.5 431.4 70.5 441.4 71.5 451.4" fill="none" stroke="#7c807a" stroke-width="0.45"/>
<path d="M88.8 350.4 C90.8 370.4 89.5 387.2 87.0 418.2" fill="none" stroke="#7e9c5c" stroke-width="0.75"/>
<path d="M96.2 355.0 C95.2 380.0 84.5 392.2 86.5 418.2" fill="none" stroke="#6e9050" stroke-width="0.75"/>
<path d="M86.8 416.2 L86.5 422.2" fill="none" stroke="#b8c4a8" stroke-width="0.9"/>
<ellipse cx="86.5" cy="422.7" rx="1.3" ry="1.8" fill="#b8b8b0"/>
<path d="M86.5 424.2 C85.5 434.2 88.0 442.1 89.5 462.0" fill="none" stroke="#a8aca4" stroke-width="0.75"/>
<path d="M87.0 425.2 C88.5 432.2 87.5 442.2 88.5 452.2" fill="none" stroke="#7c807a" stroke-width="0.45"/>
<line x1="87.30" y1="465.80" x2="99.10" y2="465.80" stroke="#f0f0f0" stroke-width="1.3"/>
<line x1="118.60" y1="275.50" x2="118.60" y2="347.40" stroke="#bbb" stroke-width="0.6"/>
<line x1="118.60" y1="347.40" x2="148.20" y2="347.40" stroke="#bbb" stroke-width="0.6"/>
<text x="116.20" y="348.80" font-size="4.2" text-anchor="end" fill="#333" stroke="#333" stroke-width="0.15">0</text>
<line x1="117.40" y1="347.40" x2="118.60" y2="347.40" stroke="#bbb" stroke-width="0.4"/>
<text x="116.20" y="338.53" font-size="4.2" text-anchor="end" fill="#333" stroke="#333" stroke-width="0.15">2</text>
<line x1="117.40" y1="337.13" x2="118.60" y2="337.13" stroke="#bbb" stroke-width="0.4"/>
<text x="116.20" y="328.26" font-size="4.2" text-anchor="end" fill="#333" stroke="#333" stroke-width="0.15">4</text>
<line x1="117.40" y1="326.86" x2="118.60" y2="326.86" stroke="#bbb" stroke-width="0.4"/>
<text x="116.20" y="317.99" font-size="4.2" text-anchor="end" fill="#333" stroke="#333" stroke-width="0.15">6</text>
<line x1="117.40" y1="316.59" x2="118.60" y2="316.59" stroke="#bbb" stroke-width="0.4"/>
<text x="116.20" y="307.71" font-size="4.2" text-anchor="end" fill="#333" stroke="#333" stroke-width="0.15">8</text>
<line x1="117.40" y1="306.31" x2="118.60" y2="306.31" stroke="#bbb" stroke-width="0.4"/>
<text x="116.20" y="297.44" font-size="4.2" text-anchor="end" fill="#333" stroke="#333" stroke-width="0.15">10</text>
<line x1="117.40" y1="296.04" x2="118.60" y2="296.04" stroke="#bbb" stroke-width="0.4"/>
<text x="116.20" y="287.17" font-size="4.2" text-anchor="end" fill="#333" stroke="#333" stroke-width="0.15">12</text>
<line x1="117.40" y1="285.77" x2="118.60" y2="285.77" stroke="#bbb" stroke-width="0.4"/>
<text x="116.20" y="276.90" font-size="4.2" text-anchor="end" fill="#333" stroke="#333" stroke-width="0.15">14</text>
<line x1="117.40" y1="275.50" x2="118.60" y2="275.50" stroke="#bbb" stroke-width="0.4"/>
<rect x="123.30" y="287.10" width="5.90" height="60.30" fill="#bfbfbf" stroke="none" stroke-width="0.6"/>
<rect x="138.00" y="280.80" width="6.00" height="66.60" fill="#bfbfbf" stroke="none" stroke-width="0.6"/>
<line x1="126.25" y1="284.90" x2="126.25" y2="289.30" stroke="#444" stroke-width="0.5"/>
<line x1="125.05" y1="284.90" x2="127.45" y2="284.90" stroke="#444" stroke-width="0.5"/>
<line x1="125.05" y1="289.30" x2="127.45" y2="289.30" stroke="#444" stroke-width="0.5"/>
<line x1="141.00" y1="278.90" x2="141.00" y2="282.80" stroke="#444" stroke-width="0.5"/>
<line x1="139.80" y1="278.90" x2="142.20" y2="278.90" stroke="#444" stroke-width="0.5"/>
<line x1="139.80" y1="282.80" x2="142.20" y2="282.80" stroke="#444" stroke-width="0.5"/>
<text x="141.00" y="277.60" font-size="5" text-anchor="middle" fill="#222" stroke="#222" stroke-width="0.18">*</text>
<text x="109.50" y="311.50" font-size="5.6" text-anchor="middle" fill="#222" transform="rotate(-90 109.50 311.50)" stroke="#222" stroke-width="0.20">Primary root length (cm)</text>
<text x="126.00" y="355.10" font-size="4.9" text-anchor="middle" fill="#333" stroke="#333" stroke-width="0.17">MITE<tspan font-size="2.9" dy="-1.8">+</tspan></text>
<text x="141.00" y="355.10" font-size="4.9" text-anchor="middle" fill="#333" stroke="#333" stroke-width="0.17">MITE<tspan font-size="2.9" dy="-1.8">-</tspan></text>
<line x1="162.40" y1="275.50" x2="162.40" y2="347.40" stroke="#bbb" stroke-width="0.6"/>
<line x1="162.40" y1="347.40" x2="197.30" y2="347.40" stroke="#bbb" stroke-width="0.6"/>
<text x="160.20" y="348.80" font-size="4.2" text-anchor="end" fill="#333" stroke="#333" stroke-width="0.15">0</text>
<line x1="161.20" y1="347.40" x2="162.40" y2="347.40" stroke="#bbb" stroke-width="0.4"/>
<text x="160.20" y="330.82" font-size="4.2" text-anchor="end" fill="#333" stroke="#333" stroke-width="0.15">1</text>
<line x1="161.20" y1="329.42" x2="162.40" y2="329.42" stroke="#bbb" stroke-width="0.4"/>
<text x="160.20" y="312.85" font-size="4.2" text-anchor="end" fill="#333" stroke="#333" stroke-width="0.15">2</text>
<line x1="161.20" y1="311.45" x2="162.40" y2="311.45" stroke="#bbb" stroke-width="0.4"/>
<text x="160.20" y="294.88" font-size="4.2" text-anchor="end" fill="#333" stroke="#333" stroke-width="0.15">3</text>
<line x1="161.20" y1="293.48" x2="162.40" y2="293.48" stroke="#bbb" stroke-width="0.4"/>
<text x="160.20" y="276.90" font-size="4.2" text-anchor="end" fill="#333" stroke="#333" stroke-width="0.15">4</text>
<line x1="161.20" y1="275.50" x2="162.40" y2="275.50" stroke="#bbb" stroke-width="0.4"/>
<rect x="167.70" y="329.00" width="6.30" height="18.40" fill="#bfbfbf" stroke="none" stroke-width="0.6"/>
<rect x="183.50" y="290.50" width="6.40" height="56.90" fill="#bfbfbf" stroke="none" stroke-width="0.6"/>
<line x1="170.85" y1="326.20" x2="170.85" y2="331.80" stroke="#444" stroke-width="0.5"/>
<line x1="169.65" y1="326.20" x2="172.05" y2="326.20" stroke="#444" stroke-width="0.5"/>
<line x1="169.65" y1="331.80" x2="172.05" y2="331.80" stroke="#444" stroke-width="0.5"/>
<line x1="186.70" y1="283.20" x2="186.70" y2="297.80" stroke="#444" stroke-width="0.5"/>
<line x1="185.50" y1="283.20" x2="187.90" y2="283.20" stroke="#444" stroke-width="0.5"/>
<line x1="185.50" y1="297.80" x2="187.90" y2="297.80" stroke="#444" stroke-width="0.5"/>
<text x="186.70" y="281.20" font-size="5" text-anchor="middle" fill="#222" font-weight="bold" stroke="#222" stroke-width="0.18">***</text>
<text x="155.30" y="313.20" font-size="6.0" text-anchor="middle" fill="#222" transform="rotate(-90 155.30 313.20)" stroke="#222" stroke-width="0.21">Relative expression</text>
<text x="170.00" y="355.10" font-size="4.9" text-anchor="middle" fill="#333" stroke="#333" stroke-width="0.17">MITE<tspan font-size="2.9" dy="-1.8">+</tspan></text>
<text x="187.50" y="355.10" font-size="4.9" text-anchor="middle" fill="#333" stroke="#333" stroke-width="0.17">MITE<tspan font-size="2.9" dy="-1.8">-</tspan></text>
<line x1="208.60" y1="275.50" x2="208.60" y2="348.10" stroke="#bbb" stroke-width="0.6"/>
<line x1="208.60" y1="348.10" x2="265.00" y2="348.10" stroke="#bbb" stroke-width="0.6"/>
<text x="206.20" y="349.50" font-size="4.2" text-anchor="end" fill="#333" stroke="#333" stroke-width="0.15">0</text>
<line x1="207.40" y1="348.10" x2="208.60" y2="348.10" stroke="#bbb" stroke-width="0.4"/>
<text x="206.20" y="337.40" font-size="4.2" text-anchor="end" fill="#333" stroke="#333" stroke-width="0.15">1</text>
<line x1="207.40" y1="336.00" x2="208.60" y2="336.00" stroke="#bbb" stroke-width="0.4"/>
<text x="206.20" y="325.30" font-size="4.2" text-anchor="end" fill="#333" stroke="#333" stroke-width="0.15">2</text>
<line x1="207.40" y1="323.90" x2="208.60" y2="323.90" stroke="#bbb" stroke-width="0.4"/>
<text x="206.20" y="313.20" font-size="4.2" text-anchor="end" fill="#333" stroke="#333" stroke-width="0.15">3</text>
<line x1="207.40" y1="311.80" x2="208.60" y2="311.80" stroke="#bbb" stroke-width="0.4"/>
<text x="206.20" y="301.10" font-size="4.2" text-anchor="end" fill="#333" stroke="#333" stroke-width="0.15">4</text>
<line x1="207.40" y1="299.70" x2="208.60" y2="299.70" stroke="#bbb" stroke-width="0.4"/>
<text x="206.20" y="289.00" font-size="4.2" text-anchor="end" fill="#333" stroke="#333" stroke-width="0.15">5</text>
<line x1="207.40" y1="287.60" x2="208.60" y2="287.60" stroke="#bbb" stroke-width="0.4"/>
<text x="206.20" y="276.90" font-size="4.2" text-anchor="end" fill="#333" stroke="#333" stroke-width="0.15">6</text>
<line x1="207.40" y1="275.50" x2="208.60" y2="275.50" stroke="#bbb" stroke-width="0.4"/>
<line x1="208.60" y1="348.10" x2="265.00" y2="348.10" stroke="#555" stroke-width="0.7"/>
<rect x="215.40" y="340.84" width="2.20" height="7.26" fill="#a0401a" stroke="#5a2010" stroke-width="0.35"/>
<line x1="216.50" y1="339.94" x2="216.50" y2="340.84" stroke="#333" stroke-width="0.3"/>
<rect x="217.70" y="334.79" width="2.20" height="13.31" fill="#4cc04c" stroke="#2a7a2a" stroke-width="0.35"/>
<line x1="218.80" y1="333.89" x2="218.80" y2="334.79" stroke="#333" stroke-width="0.3"/>
<rect x="220.00" y="340.84" width="2.20" height="7.26" fill="#6a5a1a" stroke="#5a2010" stroke-width="0.35"/>
<line x1="221.10" y1="339.94" x2="221.10" y2="340.84" stroke="#333" stroke-width="0.3"/>
<rect x="222.30" y="331.16" width="2.20" height="16.94" fill="#4cc04c" stroke="#2a7a2a" stroke-width="0.35"/>
<line x1="223.40" y1="330.26" x2="223.40" y2="331.16" stroke="#333" stroke-width="0.3"/>
<rect x="227.00" y="339.63" width="2.20" height="8.47" fill="#a0401a" stroke="#5a2010" stroke-width="0.35"/>
<line x1="228.10" y1="338.73" x2="228.10" y2="339.63" stroke="#333" stroke-width="0.3"/>
<rect x="229.30" y="321.48" width="2.20" height="26.62" fill="#4cc04c" stroke="#2a7a2a" stroke-width="0.35"/>
<line x1="230.40" y1="320.58" x2="230.40" y2="321.48" stroke="#333" stroke-width="0.3"/>
<rect x="231.60" y="340.84" width="2.20" height="7.26" fill="#6a5a1a" stroke="#5a2010" stroke-width="0.35"/>
<line x1="232.70" y1="339.94" x2="232.70" y2="340.84" stroke="#333" stroke-width="0.3"/>
<rect x="233.90" y="326.32" width="2.20" height="21.78" fill="#4cc04c" stroke="#2a7a2a" stroke-width="0.35"/>
<line x1="235.00" y1="325.42" x2="235.00" y2="326.32" stroke="#333" stroke-width="0.3"/>
<rect x="239.10" y="341.44" width="2.20" height="6.66" fill="#a0401a" stroke="#5a2010" stroke-width="0.35"/>
<line x1="240.20" y1="340.55" x2="240.20" y2="341.44" stroke="#333" stroke-width="0.3"/>
<rect x="241.40" y="282.76" width="2.20" height="65.34" fill="#4cc04c" stroke="#2a7a2a" stroke-width="0.35"/>
<line x1="242.50" y1="281.86" x2="242.50" y2="282.76" stroke="#333" stroke-width="0.3"/>
<rect x="243.70" y="340.24" width="2.20" height="7.87" fill="#6a5a1a" stroke="#5a2010" stroke-width="0.35"/>
<line x1="244.80" y1="339.34" x2="244.80" y2="340.24" stroke="#333" stroke-width="0.3"/>
<rect x="246.00" y="305.75" width="2.20" height="42.35" fill="#4cc04c" stroke="#2a7a2a" stroke-width="0.35"/>
<line x1="247.10" y1="304.85" x2="247.10" y2="305.75" stroke="#333" stroke-width="0.3"/>
<rect x="250.90" y="340.84" width="2.20" height="7.26" fill="#a0401a" stroke="#5a2010" stroke-width="0.35"/>
<line x1="252.00" y1="339.94" x2="252.00" y2="340.84" stroke="#333" stroke-width="0.3"/>
<rect x="253.20" y="308.78" width="2.20" height="39.33" fill="#4cc04c" stroke="#2a7a2a" stroke-width="0.35"/>
<line x1="254.30" y1="307.88" x2="254.30" y2="308.78" stroke="#333" stroke-width="0.3"/>
<rect x="255.50" y="340.24" width="2.20" height="7.87" fill="#6a5a1a" stroke="#5a2010" stroke-width="0.35"/>
<line x1="256.60" y1="339.34" x2="256.60" y2="340.24" stroke="#333" stroke-width="0.3"/>
<rect x="257.80" y="323.30" width="2.20" height="24.81" fill="#4cc04c" stroke="#2a7a2a" stroke-width="0.35"/>
<line x1="258.90" y1="322.40" x2="258.90" y2="323.30" stroke="#333" stroke-width="0.3"/>
<text x="217.30" y="355.40" font-size="4.8" text-anchor="middle" fill="#333" stroke="#333" stroke-width="0.17">GAPDH</text>
<text x="232.50" y="355.40" font-size="4.8" text-anchor="middle" fill="#333" stroke="#333" stroke-width="0.17">R1</text>
<text x="244.50" y="355.40" font-size="4.8" text-anchor="middle" fill="#333" stroke="#333" stroke-width="0.17">R2</text>
<text x="255.90" y="355.40" font-size="4.8" text-anchor="middle" fill="#333" stroke="#333" stroke-width="0.17">R3</text>
<rect x="213.40" y="284.80" width="2.40" height="3.00" fill="#a0401a" stroke="none" stroke-width="0.6"/>
<text x="218.60" y="287.60" font-size="3.7" text-anchor="start" fill="#444" stroke="#444" stroke-width="0.13">MITE+ no Ab</text>
<rect x="213.40" y="289.50" width="2.40" height="3.00" fill="#4cc04c" stroke="none" stroke-width="0.6"/>
<text x="218.60" y="292.30" font-size="3.7" text-anchor="start" fill="#444" stroke="#444" stroke-width="0.13">MITE+ Ab</text>
<rect x="213.40" y="294.10" width="2.40" height="3.00" fill="#6a5a1a" stroke="none" stroke-width="0.6"/>
<text x="218.60" y="296.90" font-size="3.7" text-anchor="start" fill="#444" stroke="#444" stroke-width="0.13">MITE- no Ab</text>
<rect x="213.40" y="298.80" width="2.40" height="3.00" fill="#4cc04c" stroke="none" stroke-width="0.6"/>
<text x="218.60" y="301.60" font-size="3.7" text-anchor="start" fill="#444" stroke="#444" stroke-width="0.13">MITE- Ab</text>
<text x="200.50" y="309.40" font-size="5.6" text-anchor="middle" fill="#222" transform="rotate(-90 200.50 309.40)" stroke="#222" stroke-width="0.20">Enrichment of H3K27me3</text>
<line x1="124.80" y1="383.30" x2="124.80" y2="450.20" stroke="#bbb" stroke-width="0.6"/>
<line x1="124.80" y1="450.20" x2="179.70" y2="450.20" stroke="#bbb" stroke-width="0.6"/>
<text x="122.20" y="451.60" font-size="4.2" text-anchor="end" fill="#333" stroke="#333" stroke-width="0.15">0</text>
<text x="122.20" y="438.22" font-size="4.2" text-anchor="end" fill="#333" stroke="#333" stroke-width="0.15">20</text>
<text x="122.20" y="424.84" font-size="4.2" text-anchor="end" fill="#333" stroke="#333" stroke-width="0.15">40</text>
<text x="122.20" y="411.46" font-size="4.2" text-anchor="end" fill="#333" stroke="#333" stroke-width="0.15">60</text>
<text x="122.20" y="398.08" font-size="4.2" text-anchor="end" fill="#333" stroke="#333" stroke-width="0.15">80</text>
<text x="122.20" y="384.70" font-size="4.2" text-anchor="end" fill="#333" stroke="#333" stroke-width="0.15">100</text>
<text x="124.80" y="459.20" font-size="4.2" text-anchor="middle" fill="#333" stroke="#333" stroke-width="0.15">0</text>
<text x="139.20" y="459.20" font-size="4.2" text-anchor="middle" fill="#333" stroke="#333" stroke-width="0.15">100</text>
<text x="152.30" y="459.20" font-size="4.2" text-anchor="middle" fill="#333" stroke="#333" stroke-width="0.15">200</text>
<text x="165.50" y="459.20" font-size="4.2" text-anchor="middle" fill="#333" stroke="#333" stroke-width="0.15">300</text>
<text x="178.50" y="459.20" font-size="4.2" text-anchor="middle" fill="#333" stroke="#333" stroke-width="0.15">400</text>
<text x="187.70" y="459.20" font-size="4.2" text-anchor="middle" fill="#333" stroke="#333" stroke-width="0.15">bp</text>
<text x="152.80" y="465.50" font-size="4.9" text-anchor="middle" fill="#333" stroke="#333" stroke-width="0.17">MITE<tspan font-size="2.9" dy="-1.8">+</tspan></text>
<text x="158.00" y="378.50" font-size="4.8" text-anchor="middle" fill="#222" stroke="#222" stroke-width="0.17">MITE</text>
<line x1="148.40" y1="382.10" x2="165.30" y2="382.10" stroke="#d83030" stroke-width="1.1"/>
<text x="115.00" y="423.00" font-size="5.8" text-anchor="middle" fill="#222" transform="rotate(-90 115.00 423.00)" stroke="#222" stroke-width="0.20"><tspan font-size="3.4" dy="-1.6">m</tspan><tspan dy="1.6">C level (%)</tspan></text>
<circle cx="134.70" cy="390.80" r="1.00" fill="#4a4a4a"/>
<circle cx="150.70" cy="386.70" r="1.00" fill="#4a4a4a"/>
<circle cx="150.20" cy="392.00" r="1.00" fill="#4a4a4a"/>
<circle cx="154.50" cy="390.10" r="1.00" fill="#4a4a4a"/>
<circle cx="160.30" cy="389.70" r="1.00" fill="#4a4a4a"/>
<circle cx="164.80" cy="390.10" r="1.00" fill="#4a4a4a"/>
<circle cx="170.50" cy="390.10" r="1.00" fill="#4a4a4a"/>
<circle cx="172.10" cy="385.10" r="1.00" fill="#4a4a4a"/>
<circle cx="164.40" cy="407.70" r="1.00" fill="#4a4a4a"/>
<circle cx="160.30" cy="415.70" r="1.00" fill="#4a4a4a"/>
<circle cx="163.00" cy="417.00" r="1.00" fill="#4a4a4a"/>
<circle cx="148.80" cy="420.30" r="1.00" fill="#4a4a4a"/>
<circle cx="151.80" cy="423.20" r="1.00" fill="#4a4a4a"/>
<circle cx="150.00" cy="429.60" r="1.00" fill="#4a4a4a"/>
<circle cx="153.90" cy="430.10" r="1.00" fill="#4a4a4a"/>
<circle cx="149.50" cy="433.50" r="1.00" fill="#4a4a4a"/>
<circle cx="149.30" cy="435.80" r="1.00" fill="#4a4a4a"/>
<circle cx="151.10" cy="438.10" r="1.00" fill="#4a4a4a"/>
<circle cx="157.50" cy="438.50" r="1.00" fill="#4a4a4a"/>
<circle cx="159.80" cy="434.70" r="1.00" fill="#4a4a4a"/>
<circle cx="156.80" cy="440.40" r="1.00" fill="#4a4a4a"/>
<circle cx="161.40" cy="427.80" r="1.00" fill="#4a4a4a"/>
<circle cx="162.20" cy="428.20" r="1.00" fill="#4a4a4a"/>
<circle cx="158.00" cy="443.80" r="1.00" fill="#4a4a4a"/>
<circle cx="160.30" cy="437.60" r="1.00" fill="#4a4a4a"/>
<circle cx="149.60" cy="431.20" r="1.00" fill="#4a4a4a"/>
<circle cx="136.00" cy="447.50" r="1.00" fill="#4a4a4a"/>
<circle cx="145.00" cy="447.80" r="1.00" fill="#4a4a4a"/>
<circle cx="147.00" cy="448.00" r="1.00" fill="#4a4a4a"/>
<circle cx="166.50" cy="447.80" r="1.00" fill="#4a4a4a"/>
<circle cx="168.00" cy="448.50" r="1.00" fill="#4a4a4a"/>
<circle cx="125.50" cy="449.80" r="1.00" fill="#4a4a4a"/>
<circle cx="127.00" cy="449.80" r="1.00" fill="#4a4a4a"/>
<circle cx="128.50" cy="449.80" r="1.00" fill="#4a4a4a"/>
<circle cx="130.00" cy="449.80" r="1.00" fill="#4a4a4a"/>
<circle cx="131.50" cy="449.80" r="1.00" fill="#4a4a4a"/>
<circle cx="133.00" cy="449.80" r="1.00" fill="#4a4a4a"/>
<circle cx="134.50" cy="449.80" r="1.00" fill="#4a4a4a"/>
<circle cx="136.50" cy="449.80" r="1.00" fill="#4a4a4a"/>
<circle cx="138.50" cy="449.80" r="1.00" fill="#4a4a4a"/>
<circle cx="140.00" cy="449.80" r="1.00" fill="#4a4a4a"/>
<circle cx="146.00" cy="449.80" r="1.00" fill="#4a4a4a"/>
<circle cx="147.50" cy="449.80" r="1.00" fill="#4a4a4a"/>
<circle cx="149.00" cy="449.80" r="1.00" fill="#4a4a4a"/>
<circle cx="151.00" cy="449.80" r="1.00" fill="#4a4a4a"/>
<circle cx="171.00" cy="449.80" r="1.00" fill="#4a4a4a"/>
<circle cx="173.00" cy="449.80" r="1.00" fill="#4a4a4a"/>
<circle cx="175.00" cy="449.80" r="1.00" fill="#4a4a4a"/>
<circle cx="177.00" cy="449.80" r="1.00" fill="#4a4a4a"/>
<circle cx="179.00" cy="449.80" r="1.00" fill="#4a4a4a"/>
<line x1="196.40" y1="383.30" x2="196.40" y2="450.20" stroke="#bbb" stroke-width="0.6"/>
<line x1="196.40" y1="450.20" x2="252.40" y2="450.20" stroke="#bbb" stroke-width="0.6"/>
<text x="193.80" y="451.60" font-size="4.2" text-anchor="end" fill="#333" stroke="#333" stroke-width="0.15">0</text>
<text x="193.80" y="438.22" font-size="4.2" text-anchor="end" fill="#333" stroke="#333" stroke-width="0.15">20</text>
<text x="193.80" y="424.84" font-size="4.2" text-anchor="end" fill="#333" stroke="#333" stroke-width="0.15">40</text>
<text x="193.80" y="411.46" font-size="4.2" text-anchor="end" fill="#333" stroke="#333" stroke-width="0.15">60</text>
<text x="193.80" y="398.08" font-size="4.2" text-anchor="end" fill="#333" stroke="#333" stroke-width="0.15">80</text>
<text x="193.80" y="384.70" font-size="4.2" text-anchor="end" fill="#333" stroke="#333" stroke-width="0.15">100</text>
<text x="196.40" y="459.20" font-size="4.2" text-anchor="middle" fill="#333" stroke="#333" stroke-width="0.15">0</text>
<text x="215.80" y="459.20" font-size="4.2" text-anchor="middle" fill="#333" stroke="#333" stroke-width="0.15">100</text>
<text x="233.40" y="459.20" font-size="4.2" text-anchor="middle" fill="#333" stroke="#333" stroke-width="0.15">200</text>
<text x="257.50" y="459.20" font-size="4.2" text-anchor="middle" fill="#333" stroke="#333" stroke-width="0.15">300 bp</text>
<text x="226.70" y="465.50" font-size="4.9" text-anchor="middle" fill="#333" stroke="#333" stroke-width="0.17">MITE<tspan font-size="2.9" dy="-1.8">-</tspan></text>
<circle cx="210.60" cy="389.00" r="1.00" fill="#4a4a4a"/>
<circle cx="235.70" cy="387.80" r="1.00" fill="#4a4a4a"/>
<circle cx="238.00" cy="385.60" r="1.00" fill="#4a4a4a"/>
<circle cx="204.00" cy="441.00" r="1.00" fill="#4a4a4a"/>
<circle cx="229.50" cy="444.50" r="1.00" fill="#4a4a4a"/>
<circle cx="231.80" cy="446.00" r="1.00" fill="#4a4a4a"/>
<circle cx="226.10" cy="447.70" r="1.00" fill="#4a4a4a"/>
<circle cx="197.60" cy="449.80" r="1.00" fill="#4a4a4a"/>
<circle cx="199.50" cy="449.80" r="1.00" fill="#4a4a4a"/>
<circle cx="201.50" cy="449.80" r="1.00" fill="#4a4a4a"/>
<circle cx="203.50" cy="449.80" r="1.00" fill="#4a4a4a"/>
<circle cx="205.50" cy="449.80" r="1.00" fill="#4a4a4a"/>
<circle cx="208.00" cy="449.80" r="1.00" fill="#4a4a4a"/>
<circle cx="210.50" cy="449.80" r="1.00" fill="#4a4a4a"/>
<circle cx="213.00" cy="449.80" r="1.00" fill="#4a4a4a"/>
<circle cx="215.50" cy="449.80" r="1.00" fill="#4a4a4a"/>
<circle cx="218.00" cy="449.80" r="1.00" fill="#4a4a4a"/>
<circle cx="221.00" cy="449.80" r="1.00" fill="#4a4a4a"/>
<circle cx="224.00" cy="449.80" r="1.00" fill="#4a4a4a"/>
<circle cx="227.00" cy="449.80" r="1.00" fill="#4a4a4a"/>
<circle cx="229.00" cy="449.80" r="1.00" fill="#4a4a4a"/>
<circle cx="231.00" cy="449.80" r="1.00" fill="#4a4a4a"/>
<circle cx="234.00" cy="449.80" r="1.00" fill="#4a4a4a"/>
<circle cx="237.00" cy="449.80" r="1.00" fill="#4a4a4a"/>
<circle cx="240.00" cy="449.80" r="1.00" fill="#4a4a4a"/>
<circle cx="243.00" cy="449.80" r="1.00" fill="#4a4a4a"/>
<circle cx="246.00" cy="449.80" r="1.00" fill="#4a4a4a"/>
<circle cx="247.80" cy="449.80" r="1.00" fill="#4a4a4a"/>
<text x="262.50" y="264.80" font-size="18.0" text-anchor="start" fill="#111">E</text>
<text x="306.80" y="277.60" font-size="5.6" text-anchor="start" fill="#222" transform="rotate(-45 306.80 277.60)" stroke="#222" stroke-width="0.20">WT</text>
<text x="323.30" y="278.60" font-size="5.6" text-anchor="start" fill="#222" font-style="italic" transform="rotate(-45 323.30 278.60)" stroke="#222" stroke-width="0.20">Hap2-5</text>
<text x="342.40" y="278.60" font-size="5.6" text-anchor="start" fill="#222" font-style="italic" transform="rotate(-45 342.40 278.60)" stroke="#222" stroke-width="0.20">Hap2-7</text>
<text x="361.40" y="278.60" font-size="5.6" text-anchor="start" fill="#222" font-style="italic" transform="rotate(-45 361.40 278.60)" stroke="#222" stroke-width="0.20">Hap4-4</text>
<text x="380.40" y="278.60" font-size="5.6" text-anchor="start" fill="#222" font-style="italic" transform="rotate(-45 380.40 278.60)" stroke="#222" stroke-width="0.20">Hap4-9</text>
<rect x="296.40" y="280.60" width="101.30" height="190.00" fill="#0b0c0c" stroke="none" stroke-width="0.6"/>
<defs><linearGradient id="bag" x1="0" x2="1"><stop offset="0" stop-color="#a8b4b4"/><stop offset="0.04" stop-color="#ccd6d6"/><stop offset="0.5" stop-color="#b4c0c0"/><stop offset="0.96" stop-color="#ccd6d6"/><stop offset="1" stop-color="#a4b0b0"/></linearGradient><linearGradient id="soil" x1="0" x2="1"><stop offset="0" stop-color="#424238"/><stop offset="0.5" stop-color="#56564a"/><stop offset="1" stop-color="#424238"/></linearGradient><linearGradient id="soil2" x1="0" x2="1"><stop offset="0" stop-color="#46463c"/><stop offset="0.5" stop-color="#5c5c50"/><stop offset="1" stop-color="#46463c"/></linearGradient><filter id="grain" x="0" y="0" width="1" height="1"><feTurbulence type="fractalNoise" baseFrequency="0.35" numOctaves="3" seed="4" result="n"/><feColorMatrix in="n" type="matrix" values="0 0 0 0 0.66  0 0 0 0 0.66  0 0 0 0 0.56  0 0 0 0.9 -0.42" result="m"/><feComposite in="m" in2="SourceGraphic" operator="in" result="c"/><feMerge><feMergeNode in="SourceGraphic"/><feMergeNode in="c"/></feMerge></filter></defs>
<rect x="298.70" y="356.50" width="94.70" height="114.10" fill="url(#bag)" stroke="none" stroke-width="0.6"/>
<g>
<rect x="302.70" y="359.00" width="15.10" height="111.00" fill="url(#soil)" stroke="none" stroke-width="0.6"/>
<rect x="319.30" y="359.00" width="15.10" height="111.00" fill="url(#soil)" stroke="none" stroke-width="0.6"/>
<rect x="337.50" y="359.00" width="15.10" height="111.00" fill="url(#soil)" stroke="none" stroke-width="0.6"/>
<rect x="355.00" y="359.00" width="15.70" height="111.00" fill="url(#soil2)" stroke="none" stroke-width="0.6"/>
<rect x="373.70" y="359.00" width="15.20" height="111.00" fill="url(#soil2)" stroke="none" stroke-width="0.6"/>
</g>
<path d="M305.5 435.2h0.7v0.6h-0.6zM306.2 446.4h0.8v0.6h-0.6zM310.2 385.7h0.4v0.5h-0.6zM311.3 367.5h0.8v0.5h-0.6zM306.4 364.6h0.9v0.7h-0.6zM315.3 427.1h0.4v0.5h-0.6zM310.1 372.6h0.9v0.5h-0.6zM305.3 449.1h0.5v0.8h-0.6zM309.5 420.2h0.6v0.6h-0.6zM305.8 364.0h0.8v0.5h-0.6zM314.0 382.7h0.9v0.8h-0.6zM313.6 443.1h0.7v0.7h-0.6zM304.9 411.9h0.8v0.5h-0.6zM315.9 456.7h0.6v0.5h-0.6zM309.4 402.0h0.9v0.6h-0.6zM303.6 370.2h0.8v0.8h-0.6zM310.0 413.6h0.7v0.7h-0.6zM306.3 426.4h0.7v0.6h-0.6zM305.7 378.5h0.6v0.8h-0.6zM308.0 425.1h0.6v0.4h-0.6zM304.1 448.7h0.8v0.5h-0.6zM312.6 433.7h0.8v0.8h-0.6zM308.8 467.8h0.9v0.6h-0.6zM315.4 413.5h0.6v0.5h-0.6zM315.3 377.7h0.4v0.7h-0.6zM313.9 412.7h0.8v0.4h-0.6zM306.8 391.6h0.6v0.5h-0.6zM304.2 396.9h0.8v0.8h-0.6zM313.5 412.2h0.5v0.8h-0.6zM310.5 439.4h0.4v0.5h-0.6zM314.8 446.7h0.8v0.6h-0.6zM309.1 423.3h0.8v0.5h-0.6zM310.6 390.1h0.8v0.4h-0.6zM312.7 464.0h0.4v0.6h-0.6zM312.1 452.8h0.7v0.5h-0.6zM308.8 464.5h0.9v0.5h-0.6zM304.5 370.2h0.4v0.6h-0.6zM305.1 454.5h0.7v0.5h-0.6zM310.6 395.3h0.6v0.5h-0.6zM305.5 380.0h0.6v0.7h-0.6zM310.8 365.0h0.8v0.7h-0.6zM313.9 446.2h0.4v0.6h-0.6zM304.1 443.3h0.5v0.7h-0.6zM306.7 435.9h0.6v0.4h-0.6zM308.6 393.7h0.9v0.5h-0.6zM310.1 419.9h0.9v0.4h-0.6zM311.5 415.4h0.8v0.8h-0.6zM307.5 436.2h0.7v0.6h-0.6zM304.1 448.8h0.9v0.5h-0.6zM307.6 468.3h0.5v0.4h-0.6zM304.2 448.8h0.8v0.6h-0.6zM311.8 362.2h0.7v0.6h-0.6zM310.3 402.4h0.6v0.5h-0.6zM303.9 407.3h0.5v0.7h-0.6zM314.5 438.9h0.6v0.5h-0.6zM308.5 413.1h0.7v0.8h-0.6zM304.4 412.3h0.6v0.7h-0.6zM315.5 445.0h0.7v0.7h-0.6zM312.4 453.6h0.7v0.7h-0.6zM306.6 459.9h0.6v0.6h-0.6zM314.6 465.0h0.9v0.4h-0.6zM307.5 394.0h0.6v0.5h-0.6zM310.8 368.7h0.6v0.8h-0.6zM313.4 410.4h0.5v0.8h-0.6zM312.9 382.4h0.6v0.7h-0.6zM312.6 388.4h0.9v0.5h-0.6zM306.7 452.1h0.5v0.7h-0.6zM306.0 425.2h0.5v0.6h-0.6zM316.2 410.9h0.6v0.6h-0.6zM307.1 379.0h0.6v0.5h-0.6zM305.8 464.7h0.4v0.7h-0.6zM316.1 436.8h0.4v0.6h-0.6zM303.7 426.3h0.8v0.5h-0.6zM303.3 419.3h0.4v0.5h-0.6zM309.5 457.5h0.6v0.5h-0.6zM314.1 449.6h0.7v0.4h-0.6zM305.8 403.9h0.7v0.5h-0.6zM314.3 451.9h0.9v0.8h-0.6zM303.4 423.4h0.4v0.8h-0.6zM313.5 442.8h0.5v0.4h-0.6zM314.4 426.1h0.7v0.6h-0.6zM314.2 396.8h0.5v0.5h-0.6zM307.3 428.4h0.8v0.4h-0.6zM304.1 415.8h0.7v0.5h-0.6zM306.9 366.4h0.4v0.6h-0.6zM312.6 431.2h0.5v0.4h-0.6zM316.0 418.7h0.6v0.7h-0.6zM313.2 417.2h0.4v0.7h-0.6zM306.1 364.4h0.6v0.6h-0.6zM311.9 379.0h0.8v0.6h-0.6zM305.4 452.8h0.8v0.8h-0.6zM312.6 383.7h0.8v0.8h-0.6zM310.6 459.0h0.9v0.6h-0.6zM316.2 462.1h0.8v0.4h-0.6zM308.1 426.9h0.7v0.7h-0.6zM312.1 377.6h0.9v0.6h-0.6zM315.4 382.5h0.9v0.6h-0.6zM313.9 440.7h0.8v0.5h-0.6zM304.3 404.2h0.5v0.6h-0.6zM314.4 399.5h0.5v0.4h-0.6zM309.0 423.3h0.4v0.7h-0.6zM306.1 371.7h0.9v0.6h-0.6zM315.6 416.0h0.5v0.5h-0.6zM309.1 429.9h0.8v0.7h-0.6zM312.2 387.6h0.6v0.6h-0.6zM310.0 388.9h0.7v0.6h-0.6zM303.7 449.7h0.7v0.7h-0.6zM313.4 439.7h0.9v0.6h-0.6zM308.6 360.4h0.7v0.6h-0.6zM311.2 468.7h0.5v0.5h-0.6zM313.3 448.5h0.6v0.4h-0.6zM308.3 450.1h0.6v0.6h-0.6zM308.6 428.5h0.7v0.7h-0.6zM315.1 441.9h0.6v0.5h-0.6zM314.0 446.4h0.9v0.5h-0.6zM314.9 457.1h0.4v0.5h-0.6zM311.9 375.9h0.8v0.5h-0.6zM312.6 392.2h0.5v0.5h-0.6zM310.1 437.7h0.5v0.7h-0.6zM307.8 430.8h0.6v0.5h-0.6zM305.1 366.3h0.7v0.6h-0.6zM304.9 456.0h0.7v0.4h-0.6zM313.2 424.8h0.6v0.6h-0.6zM316.5 400.8h0.7v0.7h-0.6zM308.2 397.8h0.8v0.7h-0.6zM309.5 416.0h0.5v0.7h-0.6zM303.5 430.1h0.6v0.5h-0.6zM311.3 423.6h0.4v0.6h-0.6zM305.5 447.1h0.6v0.5h-0.6zM306.2 365.2h0.5v0.5h-0.6zM311.8 452.4h0.5v0.4h-0.6zM310.6 372.6h0.6v0.7h-0.6zM306.0 436.3h0.7v0.4h-0.6zM306.5 425.3h0.4v0.5h-0.6zM311.2 449.2h0.7v0.7h-0.6zM303.3 393.0h0.6v0.8h-0.6zM308.1 445.5h0.4v0.6h-0.6zM315.5 444.1h0.7v0.5h-0.6zM316.0 368.7h0.9v0.7h-0.6zM313.1 417.8h0.5v0.5h-0.6zM312.4 431.5h0.6v0.7h-0.6zM303.9 391.3h0.4v0.5h-0.6zM314.1 442.1h0.5v0.5h-0.6zM304.7 432.1h0.6v0.5h-0.6zM308.4 454.3h0.6v0.7h-0.6zM311.9 411.6h0.7v0.5h-0.6zM305.9 413.9h0.6v0.5h-0.6zM305.8 459.6h0.6v0.5h-0.6zM303.6 383.4h0.8v0.5h-0.6zM312.4 385.1h0.7v0.6h-0.6zM313.4 417.6h0.6v0.5h-0.6zM311.4 450.7h0.7v0.6h-0.6zM307.7 457.2h0.8v0.5h-0.6zM312.6 444.2h0.7v0.8h-0.6zM315.3 386.8h0.9v0.5h-0.6zM308.4 466.4h0.5v0.6h-0.6zM311.8 389.7h0.5v0.7h-0.6zM311.7 441.1h0.8v0.7h-0.6zM315.5 449.7h0.9v0.6h-0.6zM312.9 416.0h0.9v0.7h-0.6zM309.1 432.4h0.5v0.5h-0.6zM308.5 374.9h0.4v0.4h-0.6zM309.5 443.2h0.4v0.7h-0.6zM304.7 415.6h0.5v0.6h-0.6zM313.0 405.1h0.6v0.7h-0.6zM304.8 398.0h0.8v0.7h-0.6zM316.7 388.0h0.7v0.5h-0.6zM312.9 452.2h0.5v0.5h-0.6zM316.1 398.4h0.7v0.7h-0.6zM307.0 445.4h0.4v0.5h-0.6zM305.5 397.7h0.5v0.4h-0.6zM314.3 378.9h0.7v0.6h-0.6zM314.9 452.3h0.7v0.5h-0.6zM313.7 370.6h0.9v0.5h-0.6zM306.7 383.6h0.6v0.7h-0.6zM315.0 441.3h0.8v0.5h-0.6zM307.6 393.2h0.6v0.7h-0.6zM316.9 369.1h0.9v0.8h-0.6zM309.6 435.5h0.8v0.5h-0.6zM311.7 467.0h0.8v0.8h-0.6zM304.4 437.9h0.6v0.8h-0.6zM305.5 419.8h0.5v0.7h-0.6zM313.2 363.4h0.6v0.5h-0.6zM312.0 428.7h0.4v0.8h-0.6zM316.5 408.0h0.7v0.5h-0.6zM311.6 403.4h0.6v0.7h-0.6zM305.8 392.5h0.8v0.5h-0.6zM304.1 459.4h0.5v0.6h-0.6zM307.5 388.5h0.6v0.6h-0.6zM304.8 418.1h0.4v0.4h-0.6zM306.0 386.2h0.6v0.5h-0.6zM314.7 431.7h0.6v0.7h-0.6zM312.7 394.4h0.7v0.7h-0.6zM310.6 442.0h0.7v0.8h-0.6zM306.8 433.2h0.9v0.6h-0.6zM315.7 370.3h0.8v0.5h-0.6zM313.6 406.2h0.7v0.5h-0.6zM306.7 454.3h0.7v0.7h-0.6zM304.8 391.9h0.9v0.5h-0.6zM310.6 435.9h0.7v0.6h-0.6zM316.6 445.2h0.5v0.6h-0.6zM309.0 434.5h0.7v0.5h-0.6zM312.8 407.0h0.4v0.5h-0.6zM308.4 381.5h0.7v0.8h-0.6zM316.1 428.6h0.8v0.6h-0.6zM311.3 457.4h0.4v0.5h-0.6zM308.4 397.2h0.6v0.4h-0.6zM312.6 464.3h0.5v0.5h-0.6zM307.8 446.8h0.5v0.7h-0.6zM305.6 424.9h0.8v0.7h-0.6zM304.4 464.3h0.8v0.6h-0.6zM315.1 425.5h0.5v0.6h-0.6zM314.5 410.5h0.4v0.5h-0.6zM305.8 423.9h0.7v0.6h-0.6zM308.8 464.9h0.6v0.7h-0.6zM306.0 416.0h0.5v0.4h-0.6zM307.8 372.5h0.6v0.7h-0.6zM310.8 446.7h0.6v0.4h-0.6zM313.2 403.8h0.8v0.8h-0.6zM310.4 387.3h0.6v0.6h-0.6zM307.6 371.1h0.6v0.7h-0.6zM314.5 443.0h0.8v0.7h-0.6zM308.9 430.2h0.4v0.7h-0.6zM313.0 388.9h0.6v0.5h-0.6zM314.2 406.5h0.8v0.8h-0.6zM313.9 401.4h0.6v0.8h-0.6zM315.7 380.7h0.6v0.7h-0.6zM313.6 390.9h0.6v0.8h-0.6zM304.4 389.9h0.7v0.8h-0.6zM316.3 411.2h0.8v0.8h-0.6zM307.7 384.8h0.5v0.7h-0.6zM305.1 419.6h0.9v0.5h-0.6zM311.9 417.8h0.9v0.6h-0.6zM310.0 458.5h0.8v0.5h-0.6zM314.3 403.5h0.9v0.8h-0.6zM310.0 405.4h0.5v0.5h-0.6zM306.0 378.3h0.8v0.4h-0.6zM311.5 425.2h0.8v0.6h-0.6zM316.0 390.7h0.4v0.6h-0.6zM306.9 467.7h0.9v0.7h-0.6zM331.3 386.6h0.6v0.6h-0.6zM324.6 400.7h0.6v0.7h-0.6zM320.1 418.8h0.5v0.8h-0.6zM327.4 424.2h0.6v0.7h-0.6zM329.6 459.2h0.7v0.5h-0.6zM328.5 365.5h0.8v0.5h-0.6zM329.7 374.4h0.7v0.5h-0.6zM320.3 388.8h0.8v0.6h-0.6zM327.0 446.1h0.9v0.5h-0.6zM329.4 445.2h0.8v0.5h-0.6zM326.3 445.4h0.5v0.6h-0.6zM328.5 452.8h0.5v0.7h-0.6zM322.8 377.1h0.6v0.7h-0.6zM328.6 463.3h0.5v0.6h-0.6zM326.4 388.2h0.9v0.5h-0.6zM323.4 364.4h0.7v0.7h-0.6zM322.9 460.5h0.7v0.5h-0.6zM332.8 453.0h0.6v0.7h-0.6zM321.6 397.9h0.6v0.8h-0.6zM323.9 402.0h0.5v0.7h-0.6zM322.3 452.4h0.6v0.6h-0.6zM331.9 389.1h0.7v0.7h-0.6zM327.8 404.4h0.7v0.5h-0.6zM321.9 361.0h0.7v0.6h-0.6zM330.8 377.1h0.7v0.6h-0.6zM327.0 450.6h0.7v0.6h-0.6zM328.7 376.1h0.8v0.6h-0.6zM320.4 412.5h0.9v0.8h-0.6zM325.7 388.9h0.9v0.5h-0.6zM320.0 386.9h0.6v0.7h-0.6zM320.7 396.4h0.8v0.5h-0.6zM322.2 437.5h0.6v0.7h-0.6zM326.5 448.6h0.7v0.8h-0.6zM331.0 438.7h0.6v0.6h-0.6zM325.0 368.3h0.8v0.7h-0.6zM330.4 453.6h0.7v0.8h-0.6zM326.3 466.9h0.4v0.6h-0.6zM327.7 449.2h0.7v0.7h-0.6zM325.0 433.8h0.8v0.6h-0.6zM320.1 431.6h0.4v0.5h-0.6zM321.4 443.2h0.5v0.7h-0.6zM320.8 382.6h0.7v0.8h-0.6zM320.8 427.0h0.6v0.6h-0.6zM320.9 361.8h0.4v0.8h-0.6zM326.6 426.8h0.5v0.7h-0.6zM332.2 381.6h0.8v0.7h-0.6zM333.5 421.7h0.7v0.5h-0.6zM330.6 393.8h0.7v0.7h-0.6zM333.5 445.8h0.4v0.5h-0.6zM324.7 403.2h0.8v0.5h-0.6zM327.5 409.3h0.6v0.7h-0.6zM325.8 466.8h0.5v0.8h-0.6zM328.6 410.0h0.4v0.7h-0.6zM330.9 398.1h0.8v0.6h-0.6zM321.0 453.7h0.6v0.6h-0.6zM330.3 455.5h0.8v0.5h-0.6zM331.5 376.7h0.7v0.6h-0.6zM331.8 438.7h0.7v0.7h-0.6zM324.6 408.4h0.5v0.5h-0.6zM322.6 439.7h0.5v0.8h-0.6zM328.1 408.6h0.5v0.6h-0.6zM327.6 375.7h0.9v0.5h-0.6zM325.8 391.1h0.6v0.5h-0.6zM331.6 367.8h0.6v0.6h-0.6zM326.4 395.4h0.6v0.4h-0.6zM324.0 407.4h0.8v0.6h-0.6zM325.5 431.3h0.5v0.6h-0.6zM322.5 427.3h0.7v0.7h-0.6zM331.9 446.7h0.9v0.5h-0.6zM333.0 408.5h0.6v0.6h-0.6zM332.5 464.0h0.8v0.5h-0.6zM321.4 382.2h0.7v0.7h-0.6zM320.7 360.4h0.9v0.5h-0.6zM320.4 410.7h0.4v0.7h-0.6zM327.1 426.7h0.9v0.4h-0.6zM322.8 445.8h0.7v0.6h-0.6zM324.7 427.5h0.9v0.8h-0.6zM332.5 466.7h0.5v0.4h-0.6zM331.2 386.9h0.7v0.6h-0.6zM333.2 408.2h0.5v0.5h-0.6zM332.3 448.9h0.5v0.8h-0.6zM324.9 439.3h0.7v0.7h-0.6zM326.6 363.2h0.7v0.7h-0.6zM325.5 450.1h0.6v0.5h-0.6zM324.8 384.9h0.7v0.8h-0.6zM328.0 443.7h0.5v0.5h-0.6zM327.8 401.8h0.4v0.7h-0.6zM321.6 431.8h0.9v0.5h-0.6zM323.5 396.1h0.7v0.8h-0.6zM321.8 386.7h0.8v0.5h-0.6zM329.0 438.7h0.4v0.4h-0.6zM330.3 460.1h0.7v0.6h-0.6zM321.2 417.4h0.5v0.5h-0.6zM320.3 416.1h0.6v0.5h-0.6zM322.9 367.2h0.4v0.5h-0.6zM333.4 363.6h0.8v0.6h-0.6zM327.9 393.2h0.9v0.7h-0.6zM325.4 407.0h0.9v0.5h-0.6zM331.9 427.5h0.7v0.6h-0.6zM328.0 369.9h0.5v0.5h-0.6zM322.9 369.3h0.8v0.6h-0.6zM330.0 402.7h0.9v0.5h-0.6zM326.9 406.1h0.8v0.5h-0.6zM327.3 409.5h0.7v0.5h-0.6zM327.3 467.4h0.5v0.8h-0.6zM333.1 408.8h0.4v0.6h-0.6zM333.1 360.1h0.8v0.7h-0.6zM321.4 425.7h0.5v0.4h-0.6zM327.0 392.5h0.7v0.6h-0.6zM323.0 460.3h0.4v0.7h-0.6zM323.7 458.0h0.7v0.6h-0.6zM322.8 453.4h0.8v0.8h-0.6zM327.9 460.8h0.8v0.7h-0.6zM324.5 425.8h0.6v0.7h-0.6zM327.4 454.5h0.8v0.7h-0.6zM322.6 396.5h0.4v0.5h-0.6zM322.0 392.7h0.8v0.4h-0.6zM332.5 460.5h0.8v0.5h-0.6zM323.8 409.9h0.7v0.8h-0.6zM320.1 369.4h0.8v0.4h-0.6zM332.1 380.3h0.9v0.6h-0.6zM328.2 449.9h0.8v0.6h-0.6zM326.2 446.0h0.5v0.5h-0.6zM331.8 456.1h0.8v0.5h-0.6zM324.5 371.4h0.8v0.4h-0.6zM322.3 362.6h0.6v0.8h-0.6zM320.8 387.5h0.5v0.7h-0.6zM324.7 379.0h0.7v0.8h-0.6zM322.1 366.9h0.6v0.8h-0.6zM320.6 375.1h0.7v0.7h-0.6zM326.0 364.9h0.7v0.4h-0.6zM320.8 366.2h0.9v0.4h-0.6zM326.4 449.5h0.5v0.6h-0.6zM330.8 421.5h0.5v0.6h-0.6zM333.5 449.2h0.9v0.4h-0.6zM320.6 414.8h0.4v0.8h-0.6zM323.8 419.9h0.8v0.6h-0.6zM330.4 376.8h0.6v0.7h-0.6zM326.3 380.2h0.8v0.5h-0.6zM332.4 394.3h0.8v0.4h-0.6zM329.1 463.7h0.7v0.6h-0.6zM333.3 465.3h0.8v0.5h-0.6zM321.0 426.8h0.5v0.4h-0.6zM327.5 462.9h0.5v0.7h-0.6zM333.1 462.6h0.4v0.5h-0.6zM333.0 465.2h0.5v0.5h-0.6zM329.6 370.6h0.5v0.5h-0.6zM327.8 400.5h0.8v0.5h-0.6zM332.2 445.8h0.6v0.6h-0.6zM329.1 373.3h0.9v0.6h-0.6zM326.9 452.9h0.4v0.5h-0.6zM320.2 440.3h0.5v0.7h-0.6zM329.7 468.5h0.5v0.6h-0.6zM330.7 408.4h0.5v0.7h-0.6zM330.8 408.8h0.6v0.5h-0.6zM325.4 451.6h0.6v0.8h-0.6zM324.7 411.9h0.8v0.8h-0.6zM331.5 406.0h0.6v0.5h-0.6zM327.2 449.3h0.5v0.5h-0.6zM320.7 409.5h0.6v0.8h-0.6zM329.0 460.1h0.5v0.6h-0.6zM329.5 368.1h0.7v0.7h-0.6zM320.2 382.2h0.8v0.5h-0.6zM328.6 405.9h0.6v0.8h-0.6zM325.3 455.9h0.8v0.6h-0.6zM321.2 396.4h0.9v0.5h-0.6zM327.9 381.9h0.8v0.7h-0.6zM332.1 424.7h0.5v0.7h-0.6zM327.8 462.8h0.7v0.5h-0.6zM325.9 421.2h0.7v0.7h-0.6zM331.7 418.4h0.5v0.7h-0.6zM329.6 377.2h0.6v0.7h-0.6zM327.8 373.3h0.8v0.7h-0.6zM322.5 435.7h0.8v0.6h-0.6zM332.9 418.6h0.4v0.7h-0.6zM331.3 459.9h0.8v0.8h-0.6zM330.9 411.6h0.4v0.5h-0.6zM320.5 460.9h0.8v0.8h-0.6zM330.5 409.4h0.7v0.4h-0.6zM322.0 403.6h0.4v0.5h-0.6zM327.0 377.6h0.5v0.4h-0.6zM326.1 451.2h0.6v0.7h-0.6zM329.7 447.6h0.8v0.6h-0.6zM320.4 378.4h0.5v0.5h-0.6zM328.1 414.3h0.5v0.5h-0.6zM330.0 468.5h0.8v0.5h-0.6zM329.4 447.1h0.7v0.7h-0.6zM331.7 412.2h0.8v0.5h-0.6zM331.3 422.2h0.5v0.6h-0.6zM331.2 408.6h0.6v0.7h-0.6zM333.5 464.8h0.6v0.6h-0.6zM325.0 375.5h0.7v0.5h-0.6zM326.4 450.3h0.7v0.8h-0.6zM322.6 380.2h0.4v0.7h-0.6zM323.7 383.9h0.7v0.8h-0.6zM330.2 464.3h0.9v0.6h-0.6zM322.8 443.4h0.5v0.4h-0.6zM325.0 440.5h0.7v0.6h-0.6zM321.5 378.8h0.7v0.6h-0.6zM327.3 440.9h0.7v0.7h-0.6zM332.5 416.6h0.6v0.6h-0.6zM323.2 379.1h0.8v0.6h-0.6zM320.1 402.8h0.6v0.4h-0.6zM320.1 426.9h0.8v0.7h-0.6zM328.0 384.6h0.7v0.5h-0.6zM323.0 395.8h0.5v0.4h-0.6zM333.4 369.2h0.9v0.7h-0.6zM330.0 372.1h0.7v0.5h-0.6zM326.8 409.4h0.9v0.4h-0.6zM319.9 423.7h0.7v0.7h-0.6zM321.0 400.4h0.8v0.6h-0.6zM324.2 360.9h0.4v0.8h-0.6zM323.6 367.7h0.5v0.5h-0.6zM327.3 365.3h0.7v0.7h-0.6zM327.2 425.1h0.5v0.6h-0.6zM330.1 391.1h0.8v0.5h-0.6zM326.4 457.8h0.7v0.5h-0.6zM324.8 390.7h0.8v0.5h-0.6zM331.4 435.8h0.8v0.6h-0.6zM323.7 434.9h0.6v0.4h-0.6zM326.0 380.3h0.4v0.5h-0.6zM333.0 432.9h0.6v0.6h-0.6zM325.1 421.4h0.5v0.7h-0.6zM330.8 408.4h0.7v0.5h-0.6zM330.4 451.0h0.9v0.4h-0.6zM332.3 383.8h0.5v0.6h-0.6zM328.7 372.6h0.7v0.8h-0.6zM330.6 450.2h0.5v0.5h-0.6zM323.2 400.3h0.8v0.8h-0.6zM323.4 421.2h0.7v0.8h-0.6zM326.0 372.8h0.4v0.5h-0.6zM326.4 370.0h0.7v0.5h-0.6zM320.4 438.5h0.6v0.7h-0.6zM327.8 401.6h0.4v0.7h-0.6zM329.2 388.5h0.4v0.7h-0.6zM332.6 441.0h0.9v0.8h-0.6zM321.5 380.1h0.6v0.4h-0.6zM326.5 448.9h0.5v0.7h-0.6zM323.3 449.0h0.4v0.4h-0.6zM320.4 423.2h0.4v0.7h-0.6zM343.8 458.6h0.6v0.7h-0.6zM348.4 400.8h0.8v0.6h-0.6zM346.2 406.5h0.5v0.6h-0.6zM345.2 407.1h0.9v0.5h-0.6zM350.6 420.9h0.4v0.6h-0.6zM340.6 414.0h0.6v0.7h-0.6zM350.6 367.8h0.8v0.8h-0.6zM340.1 368.9h0.6v0.4h-0.6zM339.7 415.7h0.5v0.6h-0.6zM340.9 432.6h0.7v0.4h-0.6zM347.4 460.6h0.9v0.4h-0.6zM347.5 394.8h0.6v0.6h-0.6zM338.7 428.6h0.5v0.7h-0.6zM339.4 427.9h0.7v0.4h-0.6zM339.6 414.1h0.6v0.5h-0.6zM339.4 385.2h0.8v0.5h-0.6zM348.4 372.4h0.8v0.7h-0.6zM350.2 402.5h0.9v0.6h-0.6zM346.7 450.3h0.5v0.4h-0.6zM347.6 384.7h0.5v0.6h-0.6zM340.4 389.5h0.5v0.4h-0.6zM349.3 452.0h0.8v0.6h-0.6zM350.7 419.2h0.7v0.4h-0.6zM342.9 383.6h0.7v0.8h-0.6zM346.7 394.8h0.8v0.4h-0.6zM349.1 364.7h0.9v0.7h-0.6zM351.6 412.6h0.7v0.6h-0.6zM348.4 418.6h0.6v0.7h-0.6zM351.0 390.3h0.5v0.8h-0.6zM342.7 400.1h0.7v0.5h-0.6zM344.3 390.0h0.6v0.7h-0.6zM348.5 461.3h0.9v0.5h-0.6zM348.7 435.5h0.7v0.6h-0.6zM350.7 421.4h0.9v0.4h-0.6zM342.9 374.5h0.8v0.6h-0.6zM342.4 396.7h0.6v0.5h-0.6zM344.8 427.9h0.4v0.5h-0.6zM345.2 432.2h0.7v0.7h-0.6zM344.0 459.4h0.8v0.6h-0.6zM345.9 447.7h0.5v0.5h-0.6zM344.9 415.1h0.4v0.6h-0.6zM350.7 454.3h0.7v0.7h-0.6zM343.1 367.8h0.8v0.6h-0.6zM346.4 426.8h0.9v0.5h-0.6zM345.9 440.1h0.7v0.8h-0.6zM338.6 446.8h0.4v0.5h-0.6zM342.9 447.3h0.8v0.6h-0.6zM345.7 432.5h0.4v0.5h-0.6zM344.2 365.3h0.6v0.5h-0.6zM339.8 380.6h0.6v0.7h-0.6zM349.7 394.8h0.8v0.7h-0.6zM339.4 381.8h0.8v0.5h-0.6zM346.6 423.7h0.8v0.7h-0.6zM349.3 374.9h0.8v0.8h-0.6zM347.2 464.4h0.4v0.6h-0.6zM351.4 393.0h0.6v0.5h-0.6zM343.2 407.0h0.7v0.5h-0.6zM344.9 461.3h0.6v0.5h-0.6zM350.7 437.4h0.8v0.8h-0.6zM351.6 393.2h0.4v0.7h-0.6zM347.1 402.3h0.9v0.7h-0.6zM345.9 426.8h0.6v0.5h-0.6zM342.1 439.3h0.6v0.6h-0.6zM347.0 462.1h0.5v0.4h-0.6zM348.6 383.6h0.7v0.6h-0.6zM347.2 429.7h0.6v0.6h-0.6zM350.9 451.6h0.6v0.7h-0.6zM342.0 460.8h0.4v0.6h-0.6zM348.6 459.4h0.7v0.6h-0.6zM346.4 442.5h0.6v0.7h-0.6zM341.5 368.6h0.4v0.5h-0.6zM343.6 374.4h0.8v0.7h-0.6zM343.3 379.5h0.6v0.7h-0.6zM349.5 435.2h0.6v0.7h-0.6zM345.0 397.1h0.9v0.7h-0.6zM338.8 367.5h0.6v0.7h-0.6zM344.0 417.8h0.5v0.6h-0.6zM343.6 399.4h0.5v0.6h-0.6zM349.4 418.1h0.7v0.6h-0.6zM347.8 436.0h0.4v0.8h-0.6zM344.8 365.4h0.8v0.7h-0.6zM343.1 425.4h0.4v0.7h-0.6zM347.3 447.9h0.6v0.8h-0.6zM343.7 360.5h0.4v0.5h-0.6zM341.1 385.1h0.4v0.7h-0.6zM350.3 461.3h0.6v0.6h-0.6zM345.3 425.5h0.8v0.6h-0.6zM338.3 394.5h0.4v0.7h-0.6zM351.4 422.4h0.7v0.6h-0.6zM351.4 378.2h0.7v0.5h-0.6zM344.3 383.7h0.8v0.5h-0.6zM341.7 453.3h0.4v0.5h-0.6zM350.8 432.6h0.5v0.5h-0.6zM347.3 450.7h0.9v0.8h-0.6zM348.4 369.2h0.8v0.6h-0.6zM345.3 362.6h0.4v0.6h-0.6zM346.9 389.5h0.9v0.4h-0.6zM350.1 461.6h0.4v0.7h-0.6zM346.5 407.4h0.6v0.6h-0.6zM350.8 442.6h0.6v0.6h-0.6zM340.4 419.6h0.8v0.7h-0.6zM346.3 409.3h0.9v0.7h-0.6zM345.1 432.1h0.8v0.5h-0.6zM346.7 391.1h0.8v0.5h-0.6zM351.3 435.5h0.7v0.6h-0.6zM346.1 389.1h0.4v0.6h-0.6zM342.1 411.3h0.5v0.5h-0.6zM351.5 401.2h0.8v0.5h-0.6zM339.2 435.3h0.6v0.7h-0.6zM338.3 414.0h0.7v0.5h-0.6zM347.9 381.4h0.5v0.5h-0.6zM338.6 404.0h0.8v0.5h-0.6zM341.9 396.5h0.5v0.7h-0.6zM349.5 373.0h0.7v0.8h-0.6zM338.2 403.8h0.4v0.5h-0.6zM339.7 409.9h0.5v0.7h-0.6zM343.3 369.1h0.7v0.6h-0.6zM348.2 441.1h0.5v0.6h-0.6zM347.9 465.5h0.7v0.6h-0.6zM342.6 407.4h0.6v0.6h-0.6zM341.9 395.1h0.4v0.4h-0.6zM350.0 397.8h0.9v0.5h-0.6zM343.0 457.4h0.6v0.7h-0.6zM348.7 402.2h0.5v0.4h-0.6zM349.9 422.5h0.8v0.8h-0.6zM350.0 424.5h0.5v0.6h-0.6zM344.7 371.0h0.4v0.5h-0.6zM343.1 455.5h0.9v0.8h-0.6zM342.4 453.0h0.6v0.5h-0.6zM346.0 364.5h0.7v0.4h-0.6zM346.1 441.4h0.4v0.7h-0.6zM345.0 398.0h0.8v0.5h-0.6zM340.7 405.0h0.6v0.7h-0.6zM340.9 403.3h0.8v0.6h-0.6zM342.7 376.0h0.6v0.6h-0.6zM348.8 468.8h0.7v0.6h-0.6zM348.5 410.7h0.5v0.7h-0.6zM349.5 384.1h0.8v0.4h-0.6zM340.6 401.1h0.9v0.6h-0.6zM342.8 386.5h0.6v0.6h-0.6zM346.3 457.3h0.5v0.7h-0.6zM351.3 426.2h0.8v0.7h-0.6zM350.2 394.7h0.6v0.7h-0.6zM340.2 408.9h0.9v0.6h-0.6zM344.0 406.3h0.6v0.7h-0.6zM339.5 410.2h0.6v0.8h-0.6zM349.8 392.1h0.6v0.8h-0.6zM338.2 436.1h0.4v0.5h-0.6zM346.9 433.7h0.7v0.5h-0.6zM343.5 453.1h0.5v0.6h-0.6zM345.7 453.5h0.8v0.7h-0.6zM342.7 440.2h0.8v0.4h-0.6zM348.0 410.5h0.6v0.7h-0.6zM349.2 458.6h0.8v0.8h-0.6zM349.9 415.6h0.7v0.8h-0.6zM346.1 367.7h0.6v0.7h-0.6zM338.3 372.1h0.8v0.7h-0.6zM338.2 445.1h0.7v0.6h-0.6zM346.9 370.2h0.5v0.7h-0.6zM347.4 427.3h0.6v0.5h-0.6zM339.8 462.0h0.5v0.6h-0.6zM345.0 360.3h0.6v0.5h-0.6zM339.4 461.3h0.5v0.5h-0.6zM341.7 445.7h0.8v0.7h-0.6zM346.7 425.4h0.4v0.7h-0.6zM351.2 456.0h0.9v0.5h-0.6zM347.8 468.2h0.5v0.5h-0.6zM351.5 386.4h0.5v0.7h-0.6zM342.5 427.8h0.5v0.5h-0.6zM346.1 407.4h0.7v0.6h-0.6zM341.3 382.4h0.4v0.4h-0.6zM347.8 396.1h0.4v0.4h-0.6zM349.8 428.3h0.5v0.7h-0.6zM350.3 366.0h0.5v0.7h-0.6zM348.7 389.0h0.6v0.5h-0.6zM343.3 451.1h0.7v0.7h-0.6zM350.5 459.8h0.7v0.4h-0.6zM343.1 465.8h0.6v0.4h-0.6zM347.3 420.4h0.8v0.6h-0.6zM341.9 400.9h0.5v0.6h-0.6zM345.0 374.4h0.4v0.7h-0.6zM346.8 444.3h0.6v0.4h-0.6zM345.2 392.3h0.9v0.5h-0.6zM349.2 430.2h0.5v0.6h-0.6zM338.9 389.6h0.8v0.4h-0.6zM345.7 458.6h0.9v0.7h-0.6zM349.4 394.4h0.6v0.5h-0.6zM338.9 369.1h0.4v0.5h-0.6zM342.6 401.2h0.6v0.7h-0.6zM343.0 411.1h0.8v0.6h-0.6zM348.0 465.7h0.8v0.5h-0.6zM349.6 460.9h0.5v0.5h-0.6zM348.1 432.3h0.5v0.8h-0.6zM344.4 466.9h0.7v0.7h-0.6zM339.9 448.2h0.6v0.5h-0.6zM343.9 431.9h0.8v0.7h-0.6zM350.7 442.9h0.6v0.5h-0.6zM350.5 407.5h0.9v0.7h-0.6zM348.9 423.9h0.5v0.6h-0.6zM347.2 372.0h0.6v0.7h-0.6zM341.0 361.4h0.5v0.6h-0.6zM341.9 417.1h0.5v0.6h-0.6zM350.7 450.6h0.8v0.6h-0.6zM345.6 447.3h0.5v0.5h-0.6zM339.9 409.6h0.6v0.7h-0.6zM343.0 431.0h0.7v0.6h-0.6zM343.9 405.6h0.5v0.7h-0.6zM342.4 391.0h0.8v0.6h-0.6zM339.5 427.9h0.6v0.6h-0.6zM346.3 414.9h0.8v0.5h-0.6zM349.2 452.0h0.5v0.4h-0.6zM340.1 417.9h0.8v0.6h-0.6zM341.3 424.2h0.8v0.8h-0.6zM345.7 380.9h0.7v0.6h-0.6zM340.9 370.9h0.8v0.5h-0.6zM350.0 421.8h0.4v0.8h-0.6zM351.5 379.9h0.7v0.4h-0.6zM350.3 375.3h0.7v0.7h-0.6zM346.1 456.3h0.5v0.8h-0.6zM347.0 372.1h0.4v0.5h-0.6zM339.6 401.8h0.5v0.5h-0.6zM349.8 436.5h0.5v0.4h-0.6zM339.3 393.9h0.4v0.5h-0.6zM351.7 395.6h0.8v0.4h-0.6zM340.1 365.6h0.7v0.7h-0.6zM349.7 399.8h0.8v0.6h-0.6zM345.2 391.1h0.6v0.7h-0.6zM343.3 381.6h0.6v0.4h-0.6zM343.2 460.2h0.7v0.5h-0.6zM344.5 418.0h0.5v0.6h-0.6zM341.7 371.9h0.5v0.5h-0.6zM347.9 365.3h0.6v0.6h-0.6zM349.7 375.4h0.8v0.5h-0.6zM339.7 433.3h0.8v0.8h-0.6zM341.5 436.7h0.9v0.6h-0.6zM347.6 373.5h0.5v0.6h-0.6zM340.6 372.8h0.6v0.7h-0.6zM345.0 416.6h0.7v0.7h-0.6zM348.2 396.1h0.5v0.5h-0.6zM342.9 405.7h0.7v0.4h-0.6zM358.6 441.0h0.8v0.5h-0.6zM363.5 420.1h0.5v0.6h-0.6zM356.3 462.2h0.5v0.8h-0.6zM368.3 404.7h0.5v0.5h-0.6zM368.9 366.1h0.5v0.5h-0.6zM360.6 467.1h0.6v0.8h-0.6zM364.9 360.8h0.6v0.5h-0.6zM358.2 385.5h0.5v0.8h-0.6zM363.6 408.6h0.5v0.7h-0.6zM360.5 362.7h0.5v0.7h-0.6zM365.4 435.7h0.6v0.6h-0.6zM355.8 429.0h0.8v0.6h-0.6zM363.0 435.5h0.8v0.6h-0.6zM357.1 429.3h0.7v0.8h-0.6zM355.9 422.8h0.9v0.4h-0.6zM365.3 430.3h0.8v0.6h-0.6zM365.3 445.9h0.5v0.4h-0.6zM365.7 377.8h0.5v0.4h-0.6zM368.4 456.3h0.6v0.7h-0.6zM359.7 372.7h0.7v0.5h-0.6zM356.2 438.9h0.4v0.7h-0.6zM358.2 391.2h0.6v0.7h-0.6zM364.7 368.7h0.6v0.6h-0.6zM369.3 407.6h0.8v0.7h-0.6zM366.4 387.0h0.5v0.7h-0.6zM358.7 413.7h0.6v0.6h-0.6zM369.1 384.2h0.4v0.7h-0.6zM358.8 421.1h0.5v0.7h-0.6zM364.6 449.1h0.6v0.5h-0.6zM365.1 380.2h0.4v0.8h-0.6zM367.7 370.3h0.6v0.4h-0.6zM356.4 425.0h0.8v0.8h-0.6zM368.5 402.8h0.4v0.7h-0.6zM362.5 373.5h0.5v0.5h-0.6zM368.9 395.0h0.9v0.6h-0.6zM365.9 444.5h0.5v0.7h-0.6zM368.9 370.0h0.6v0.5h-0.6zM364.2 445.5h0.8v0.6h-0.6zM369.8 430.3h0.8v0.6h-0.6zM364.4 424.0h0.8v0.6h-0.6zM360.2 390.3h0.6v0.5h-0.6zM363.5 467.5h0.9v0.5h-0.6zM361.4 422.1h0.6v0.4h-0.6zM358.5 454.6h0.6v0.4h-0.6zM364.1 386.4h0.8v0.7h-0.6zM355.9 394.3h0.4v0.5h-0.6zM367.0 450.5h0.8v0.6h-0.6zM363.8 422.5h0.5v0.8h-0.6zM358.0 462.0h0.5v0.7h-0.6zM362.5 365.3h0.8v0.6h-0.6zM357.1 468.9h0.8v0.7h-0.6zM356.8 455.8h0.4v0.8h-0.6zM366.6 446.2h0.9v0.7h-0.6zM361.0 407.0h0.6v0.6h-0.6zM365.4 429.7h0.6v0.7h-0.6zM355.8 458.7h0.5v0.5h-0.6zM366.0 413.8h0.6v0.4h-0.6zM365.8 411.3h0.6v0.6h-0.6zM363.8 465.7h0.7v0.5h-0.6zM357.3 391.0h0.5v0.5h-0.6zM366.3 401.6h0.6v0.5h-0.6zM366.1 457.6h0.7v0.5h-0.6zM362.1 372.5h0.5v0.5h-0.6zM362.7 433.6h0.7v0.7h-0.6zM367.8 445.2h0.6v0.7h-0.6zM364.2 435.7h0.8v0.7h-0.6zM362.1 446.3h0.6v0.7h-0.6zM361.9 452.8h0.5v0.8h-0.6zM356.3 467.8h0.8v0.4h-0.6zM359.8 389.4h0.6v0.5h-0.6zM357.9 416.8h0.8v0.5h-0.6zM356.4 365.5h0.4v0.8h-0.6zM365.6 385.6h0.8v0.4h-0.6zM369.2 362.7h0.5v0.4h-0.6zM366.6 383.9h0.6v0.6h-0.6zM363.9 449.0h0.7v0.5h-0.6zM356.4 434.1h0.6v0.6h-0.6zM357.2 387.0h0.9v0.8h-0.6zM360.3 406.0h0.8v0.7h-0.6zM360.2 437.1h0.5v0.5h-0.6zM368.6 400.8h0.9v0.7h-0.6zM363.3 459.9h0.6v0.6h-0.6zM357.8 360.9h0.6v0.5h-0.6zM360.9 413.0h0.6v0.7h-0.6zM366.8 412.3h0.7v0.8h-0.6zM362.7 409.6h0.8v0.4h-0.6zM359.4 381.8h0.7v0.4h-0.6zM366.6 443.5h0.6v0.8h-0.6zM362.5 401.3h0.5v0.6h-0.6zM360.6 438.1h0.8v0.4h-0.6zM363.0 417.8h0.6v0.6h-0.6zM369.4 403.1h0.6v0.6h-0.6zM368.4 427.0h0.9v0.5h-0.6zM366.8 449.9h0.9v0.8h-0.6zM363.2 389.8h0.7v0.7h-0.6zM357.0 436.9h0.8v0.5h-0.6zM359.8 435.8h0.4v0.8h-0.6zM366.1 416.3h0.7v0.5h-0.6zM367.2 386.1h0.7v0.4h-0.6zM356.0 460.5h0.4v0.4h-0.6zM366.3 418.3h0.5v0.7h-0.6zM357.1 409.2h0.7v0.7h-0.6zM365.4 414.6h0.5v0.5h-0.6zM363.5 415.4h0.5v0.8h-0.6zM366.4 461.0h0.5v0.8h-0.6zM369.2 417.9h0.9v0.8h-0.6zM368.9 386.0h0.5v0.4h-0.6zM368.3 375.1h0.7v0.4h-0.6zM366.7 454.7h0.9v0.5h-0.6zM358.3 436.4h0.7v0.4h-0.6zM364.3 402.5h0.8v0.7h-0.6zM360.8 381.1h0.4v0.8h-0.6zM355.5 427.0h0.7v0.8h-0.6zM364.9 467.4h0.9v0.7h-0.6zM362.7 368.7h0.6v0.4h-0.6zM363.5 401.6h0.9v0.8h-0.6zM363.2 375.1h0.7v0.7h-0.6zM368.0 387.4h0.4v0.7h-0.6zM359.8 364.9h0.5v0.6h-0.6zM358.1 441.3h0.7v0.6h-0.6zM361.4 399.9h0.6v0.5h-0.6zM365.8 388.2h0.6v0.6h-0.6zM361.8 370.5h0.8v0.5h-0.6zM359.5 447.3h0.8v0.6h-0.6zM367.8 365.8h0.4v0.8h-0.6zM365.8 390.6h0.9v0.7h-0.6zM367.8 402.0h0.8v0.4h-0.6zM361.2 465.0h0.9v0.4h-0.6zM359.4 391.2h0.8v0.6h-0.6zM369.6 448.5h0.5v0.6h-0.6zM358.3 378.7h0.5v0.6h-0.6zM369.7 449.4h0.6v0.6h-0.6zM361.5 390.0h0.7v0.6h-0.6zM361.3 389.3h0.5v0.8h-0.6zM355.8 466.9h0.7v0.6h-0.6zM365.4 439.4h0.5v0.4h-0.6zM369.5 423.0h0.8v0.8h-0.6zM358.9 366.0h0.8v0.7h-0.6zM362.2 371.0h0.8v0.4h-0.6zM366.8 462.6h0.6v0.5h-0.6zM367.1 370.4h0.5v0.7h-0.6zM359.6 429.4h0.7v0.7h-0.6zM358.7 394.0h0.6v0.8h-0.6zM357.5 434.0h0.8v0.8h-0.6zM357.5 373.0h0.7v0.7h-0.6zM364.7 437.1h0.6v0.8h-0.6zM362.7 430.1h0.4v0.7h-0.6zM357.2 379.7h0.9v0.5h-0.6zM368.5 457.7h0.5v0.7h-0.6zM356.0 369.3h0.7v0.4h-0.6zM365.2 458.8h0.5v0.8h-0.6zM364.9 362.9h0.5v0.5h-0.6zM358.7 408.3h0.5v0.7h-0.6zM366.2 403.2h0.4v0.7h-0.6zM360.4 391.0h0.8v0.7h-0.6zM356.7 440.7h0.9v0.6h-0.6zM359.9 387.1h0.6v0.6h-0.6zM363.5 459.5h0.5v0.6h-0.6zM364.5 423.7h0.7v0.8h-0.6zM362.1 361.2h0.7v0.6h-0.6zM356.6 449.7h0.6v0.4h-0.6zM364.1 417.0h0.5v0.7h-0.6zM360.2 459.2h0.5v0.6h-0.6zM362.9 403.2h0.7v0.6h-0.6zM367.1 399.0h0.8v0.6h-0.6zM361.8 363.6h0.6v0.7h-0.6zM367.2 415.9h0.9v0.6h-0.6zM362.5 411.5h0.7v0.5h-0.6zM358.6 447.6h0.5v0.7h-0.6zM365.1 457.0h0.8v0.5h-0.6zM364.6 419.3h0.7v0.7h-0.6zM362.2 417.5h0.5v0.5h-0.6zM356.1 406.3h0.8v0.7h-0.6zM365.0 396.7h0.4v0.7h-0.6zM369.1 431.3h0.8v0.4h-0.6zM367.8 425.5h0.6v0.7h-0.6zM355.9 462.4h0.4v0.7h-0.6zM356.6 465.3h0.9v0.6h-0.6zM366.5 404.8h0.5v0.7h-0.6zM362.4 433.1h0.6v0.8h-0.6zM361.2 386.2h0.8v0.7h-0.6zM363.1 364.2h0.5v0.5h-0.6zM369.4 462.6h0.5v0.6h-0.6zM359.4 374.3h0.8v0.5h-0.6zM366.5 410.9h0.6v0.7h-0.6zM361.5 379.6h0.6v0.8h-0.6zM358.1 381.7h0.5v0.4h-0.6zM365.7 377.1h0.6v0.5h-0.6zM360.8 387.6h0.9v0.5h-0.6zM369.2 406.3h0.8v0.7h-0.6zM355.6 384.8h0.4v0.8h-0.6zM362.8 451.2h0.5v0.7h-0.6zM356.8 414.9h0.7v0.7h-0.6zM360.9 394.0h0.8v0.8h-0.6zM360.2 362.1h0.5v0.6h-0.6zM360.5 403.7h0.5v0.5h-0.6zM364.2 408.7h0.5v0.4h-0.6zM361.5 423.9h0.5v0.7h-0.6zM364.9 374.6h0.6v0.5h-0.6zM363.9 466.1h0.6v0.4h-0.6zM363.4 459.3h0.4v0.4h-0.6zM361.3 455.0h0.7v0.5h-0.6zM368.7 403.7h0.4v0.5h-0.6zM356.4 365.4h0.6v0.6h-0.6zM361.7 463.9h0.7v0.7h-0.6zM355.7 458.2h0.6v0.7h-0.6zM357.3 420.0h0.5v0.7h-0.6zM361.4 464.9h0.8v0.5h-0.6zM359.3 443.6h0.6v0.5h-0.6zM355.9 452.3h0.7v0.5h-0.6zM369.8 383.3h0.5v0.5h-0.6zM358.0 361.8h0.5v0.8h-0.6zM358.2 410.0h0.8v0.4h-0.6zM363.5 446.5h0.4v0.7h-0.6zM364.9 400.0h0.9v0.7h-0.6zM368.5 450.7h0.5v0.5h-0.6zM356.1 373.8h0.4v0.7h-0.6zM358.5 431.0h0.4v0.5h-0.6zM356.9 378.4h0.6v0.6h-0.6zM358.5 462.9h0.8v0.5h-0.6zM364.5 400.7h0.8v0.5h-0.6zM359.7 378.3h0.7v0.6h-0.6zM361.2 452.3h0.8v0.4h-0.6zM356.8 424.3h0.6v0.5h-0.6zM364.4 442.0h0.6v0.7h-0.6zM357.5 453.6h0.7v0.6h-0.6zM365.8 421.9h0.6v0.5h-0.6zM364.0 426.0h0.8v0.5h-0.6zM362.5 380.3h0.7v0.7h-0.6zM359.4 379.3h0.8v0.5h-0.6zM360.5 424.7h0.8v0.7h-0.6zM364.8 454.4h0.4v0.5h-0.6zM366.9 399.4h0.6v0.8h-0.6zM360.6 391.9h0.4v0.6h-0.6zM358.2 466.7h0.8v0.6h-0.6zM362.3 385.6h0.9v0.4h-0.6zM355.7 371.7h0.5v0.5h-0.6zM367.6 383.3h0.7v0.7h-0.6zM365.9 361.4h0.9v0.6h-0.6zM356.8 443.1h0.7v0.5h-0.6zM384.4 408.5h0.7v0.6h-0.6zM385.2 449.7h0.6v0.8h-0.6zM385.6 436.0h0.7v0.6h-0.6zM382.3 445.8h0.8v0.6h-0.6zM374.5 419.1h0.6v0.5h-0.6zM379.1 410.3h0.7v0.7h-0.6zM384.5 403.0h0.8v0.5h-0.6zM383.0 436.6h0.6v0.7h-0.6zM387.0 438.1h0.6v0.4h-0.6zM384.1 425.7h0.7v0.4h-0.6zM374.7 372.5h0.4v0.8h-0.6zM380.2 457.1h0.6v0.7h-0.6zM374.7 380.7h0.8v0.6h-0.6zM378.3 369.5h0.8v0.6h-0.6zM381.8 417.3h0.8v0.5h-0.6zM378.2 396.7h0.7v0.5h-0.6zM378.5 369.5h0.8v0.4h-0.6zM375.7 373.6h0.8v0.5h-0.6zM379.5 423.5h0.7v0.6h-0.6zM380.8 371.1h0.4v0.8h-0.6zM381.4 441.6h0.5v0.7h-0.6zM384.8 419.4h0.9v0.8h-0.6zM376.3 387.1h0.6v0.5h-0.6zM381.3 388.9h0.5v0.5h-0.6zM374.7 390.1h0.6v0.6h-0.6zM375.1 452.3h0.8v0.7h-0.6zM380.4 371.1h0.5v0.5h-0.6zM383.1 468.8h0.5v0.7h-0.6zM386.8 447.0h0.5v0.7h-0.6zM385.0 448.7h0.8v0.8h-0.6zM385.1 407.2h0.5v0.4h-0.6zM379.4 447.9h0.5v0.8h-0.6zM385.3 373.9h0.8v0.7h-0.6zM377.7 412.4h0.7v0.5h-0.6zM381.0 368.0h0.6v0.7h-0.6zM383.8 461.1h0.6v0.6h-0.6zM378.9 459.8h0.8v0.7h-0.6zM378.1 433.8h0.8v0.6h-0.6zM375.1 398.1h0.6v0.4h-0.6zM376.1 393.6h0.7v0.8h-0.6zM387.7 418.7h0.9v0.6h-0.6zM377.6 426.8h0.6v0.8h-0.6zM378.7 362.4h0.5v0.7h-0.6zM382.2 411.3h0.8v0.7h-0.6zM384.2 391.1h0.7v0.7h-0.6zM375.3 364.1h0.6v0.7h-0.6zM377.6 390.6h0.5v0.6h-0.6zM386.8 365.6h0.6v0.5h-0.6zM380.8 367.0h0.8v0.7h-0.6zM382.1 365.3h0.4v0.5h-0.6zM375.0 387.7h0.7v0.8h-0.6zM375.2 376.1h0.6v0.7h-0.6zM376.2 407.0h0.5v0.8h-0.6zM380.6 414.5h0.5v0.5h-0.6zM381.8 380.6h0.5v0.4h-0.6zM376.2 423.1h0.6v0.5h-0.6zM379.4 368.9h0.5v0.7h-0.6zM381.7 448.8h0.5v0.8h-0.6zM387.6 376.0h0.6v0.8h-0.6zM377.3 421.1h0.8v0.4h-0.6zM381.0 456.5h0.7v0.8h-0.6zM385.7 412.1h0.5v0.7h-0.6zM386.9 441.0h0.8v0.7h-0.6zM379.8 390.2h0.5v0.6h-0.6zM384.6 456.2h0.7v0.7h-0.6zM379.3 378.8h0.6v0.6h-0.6zM378.5 426.2h0.7v0.5h-0.6zM386.8 440.9h0.7v0.4h-0.6zM382.5 466.2h0.5v0.8h-0.6zM375.7 414.7h0.5v0.8h-0.6zM379.6 456.4h0.6v0.4h-0.6zM381.8 374.7h0.6v0.5h-0.6zM376.1 395.5h0.8v0.5h-0.6zM387.7 464.3h0.4v0.7h-0.6zM384.7 383.5h0.5v0.5h-0.6zM385.2 370.9h0.7v0.7h-0.6zM374.5 434.1h0.8v0.6h-0.6zM379.9 436.2h0.6v0.6h-0.6zM388.0 447.1h0.6v0.6h-0.6zM374.3 401.4h0.5v0.5h-0.6zM380.4 454.7h0.9v0.5h-0.6zM375.9 362.2h0.6v0.7h-0.6zM387.5 445.0h0.9v0.7h-0.6zM379.8 388.9h0.7v0.8h-0.6zM378.6 379.0h0.9v0.7h-0.6zM384.4 424.0h0.9v0.4h-0.6zM380.6 456.5h0.7v0.6h-0.6zM386.3 390.8h0.8v0.7h-0.6zM385.0 445.7h0.5v0.5h-0.6zM378.8 464.3h0.8v0.7h-0.6zM375.0 402.1h0.5v0.7h-0.6zM386.5 393.2h0.7v0.5h-0.6zM374.5 423.6h0.4v0.8h-0.6zM378.9 437.3h0.7v0.7h-0.6zM379.9 362.7h0.5v0.6h-0.6zM383.3 390.0h0.8v0.6h-0.6zM384.0 458.6h0.6v0.8h-0.6zM374.8 392.7h0.4v0.7h-0.6zM375.0 407.6h0.4v0.7h-0.6zM382.7 442.3h0.6v0.5h-0.6zM377.7 430.0h0.8v0.6h-0.6zM379.0 403.4h0.8v0.8h-0.6zM383.3 369.9h0.6v0.6h-0.6zM378.8 407.9h0.6v0.4h-0.6zM379.1 459.5h0.4v0.7h-0.6zM376.9 431.5h0.5v0.6h-0.6zM379.2 427.4h0.4v0.7h-0.6zM383.7 386.8h0.4v0.8h-0.6zM380.8 395.5h0.8v0.5h-0.6zM387.6 439.1h0.4v0.4h-0.6zM379.9 372.0h0.6v0.7h-0.6zM380.4 421.8h0.4v0.6h-0.6zM386.1 430.9h0.5v0.5h-0.6zM379.0 371.4h0.7v0.7h-0.6zM385.4 461.7h0.4v0.7h-0.6zM382.3 392.8h0.4v0.4h-0.6zM377.0 416.8h0.6v0.4h-0.6zM385.3 433.8h0.5v0.4h-0.6zM382.7 434.3h0.8v0.7h-0.6zM379.7 461.0h0.5v0.7h-0.6zM376.5 458.0h0.5v0.8h-0.6zM385.1 374.2h0.7v0.7h-0.6zM384.4 423.8h0.4v0.7h-0.6zM377.7 381.3h0.8v0.5h-0.6zM375.7 373.7h0.9v0.5h-0.6zM377.1 438.7h0.7v0.4h-0.6zM383.1 413.8h0.6v0.7h-0.6zM377.1 385.8h0.7v0.6h-0.6zM383.1 368.8h0.5v0.7h-0.6zM382.9 412.5h0.9v0.6h-0.6zM377.9 404.3h0.5v0.6h-0.6zM384.9 373.0h0.6v0.6h-0.6zM378.0 382.5h0.7v0.5h-0.6zM375.3 463.2h0.8v0.8h-0.6zM374.9 391.9h0.7v0.7h-0.6zM374.7 448.0h0.7v0.8h-0.6zM381.1 361.9h0.6v0.7h-0.6zM380.2 417.9h0.7v0.6h-0.6zM375.5 381.4h0.8v0.7h-0.6zM379.4 372.1h0.8v0.4h-0.6zM376.7 431.8h0.6v0.5h-0.6zM378.3 391.8h0.9v0.7h-0.6zM388.1 406.0h0.4v0.6h-0.6zM379.6 422.0h0.7v0.7h-0.6zM380.7 366.3h0.7v0.7h-0.6zM376.3 418.1h0.8v0.5h-0.6zM380.5 411.3h0.6v0.5h-0.6zM377.1 418.5h0.5v0.4h-0.6zM387.9 436.2h0.5v0.7h-0.6zM385.6 458.3h0.9v0.6h-0.6zM377.3 413.9h0.6v0.6h-0.6zM379.0 436.6h0.7v0.5h-0.6zM377.3 371.5h0.4v0.6h-0.6zM387.4 371.2h0.6v0.6h-0.6zM377.8 463.7h0.4v0.7h-0.6zM383.7 466.0h0.6v0.8h-0.6zM376.3 409.5h0.8v0.5h-0.6zM380.4 421.4h0.7v0.7h-0.6zM380.9 404.9h0.6v0.4h-0.6zM386.1 366.2h0.7v0.4h-0.6zM384.1 393.7h0.5v0.5h-0.6zM379.6 453.5h0.8v0.5h-0.6zM377.8 450.1h0.7v0.4h-0.6zM380.7 361.8h0.5v0.5h-0.6zM377.3 371.2h0.6v0.5h-0.6zM387.1 418.9h0.8v0.5h-0.6zM376.3 408.3h0.7v0.6h-0.6zM374.4 367.5h0.6v0.6h-0.6zM381.4 441.8h0.6v0.4h-0.6zM385.2 417.9h0.4v0.6h-0.6zM381.8 374.5h0.6v0.8h-0.6zM383.0 449.0h0.7v0.7h-0.6zM385.8 442.8h0.7v0.6h-0.6zM382.3 373.5h0.5v0.4h-0.6zM376.3 418.4h0.5v0.5h-0.6zM379.5 371.7h0.7v0.8h-0.6zM379.8 395.1h0.5v0.5h-0.6zM386.6 454.1h0.8v0.7h-0.6zM374.4 405.7h0.6v0.5h-0.6zM386.5 436.6h0.8v0.5h-0.6zM381.6 452.3h0.6v0.6h-0.6zM374.6 427.1h0.6v0.6h-0.6zM383.4 425.8h0.6v0.7h-0.6zM374.5 364.2h0.5v0.5h-0.6zM379.8 405.7h0.5v0.8h-0.6zM383.1 378.5h0.8v0.6h-0.6zM386.4 385.9h0.7v0.5h-0.6zM384.3 461.8h0.9v0.6h-0.6zM375.8 445.0h0.9v0.6h-0.6zM378.8 409.0h0.5v0.5h-0.6zM378.9 418.4h0.7v0.6h-0.6zM381.5 450.5h0.4v0.8h-0.6zM374.9 448.2h0.7v0.7h-0.6zM382.0 381.8h0.6v0.7h-0.6zM379.7 373.6h0.6v0.6h-0.6zM375.0 383.8h0.6v0.4h-0.6zM378.4 362.9h0.5v0.7h-0.6zM374.8 417.5h0.5v0.7h-0.6zM377.3 428.5h0.8v0.6h-0.6zM377.8 365.0h0.8v0.7h-0.6zM377.7 368.3h0.4v0.8h-0.6zM384.0 401.4h0.7v0.6h-0.6zM386.8 399.5h0.5v0.5h-0.6zM384.5 360.9h0.7v0.6h-0.6zM378.3 423.7h0.7v0.4h-0.6zM377.8 376.1h0.6v0.6h-0.6zM377.6 454.9h0.5v0.5h-0.6zM387.4 424.9h0.8v0.7h-0.6zM379.3 426.7h0.9v0.7h-0.6zM375.9 374.3h0.7v0.5h-0.6zM382.3 371.1h0.5v0.4h-0.6zM382.4 462.4h0.8v0.7h-0.6zM381.1 427.9h0.7v0.4h-0.6zM377.3 435.0h0.9v0.7h-0.6zM377.9 426.1h0.4v0.5h-0.6zM375.0 457.5h0.5v0.5h-0.6zM387.5 399.0h0.5v0.6h-0.6zM380.6 377.0h0.8v0.5h-0.6zM375.0 402.2h0.5v0.8h-0.6zM379.9 458.0h0.6v0.6h-0.6zM385.5 409.9h0.5v0.7h-0.6zM386.1 436.8h0.9v0.6h-0.6zM385.2 365.9h0.4v0.7h-0.6zM384.4 367.3h0.7v0.5h-0.6zM376.2 420.7h0.7v0.7h-0.6zM376.2 437.0h0.5v0.7h-0.6zM380.7 406.7h0.5v0.8h-0.6zM380.7 415.5h0.6v0.6h-0.6zM376.9 410.0h0.6v0.5h-0.6zM384.1 361.8h0.7v0.4h-0.6zM381.7 405.7h0.8v0.7h-0.6zM380.7 375.0h0.7v0.5h-0.6zM380.8 463.9h0.7v0.6h-0.6zM374.9 392.2h0.5v0.5h-0.6zM382.6 415.1h0.7v0.5h-0.6zM376.0 450.3h0.6v0.4h-0.6zM380.5 399.9h0.5v0.7h-0.6zM384.7 444.9h0.8v0.7h-0.6zM384.9 448.9h0.4v0.5h-0.6zM383.5 458.3h0.7v0.6h-0.6z" fill="#a4a490" opacity="0.55"/>
<line x1="318.55" y1="358.00" x2="318.55" y2="470.00" stroke="#7e9094" stroke-width="0.4"/>
<line x1="335.95" y1="358.00" x2="335.95" y2="470.00" stroke="#7e9094" stroke-width="0.4"/>
<line x1="353.80" y1="358.00" x2="353.80" y2="470.00" stroke="#7e9094" stroke-width="0.4"/>
<line x1="372.20" y1="358.00" x2="372.20" y2="470.00" stroke="#7e9094" stroke-width="0.4"/>
<path d="M302.7 394.0 Q310.2 392.8 317.8 394.6" fill="none" stroke="#2e2d25" stroke-width="0.6"/>
<path d="M302.7 430.0 Q310.2 428.8 317.8 430.6" fill="none" stroke="#2e2d25" stroke-width="0.6"/>
<path d="M319.3 398.0 Q326.9 396.8 334.4 398.6" fill="none" stroke="#2e2d25" stroke-width="0.6"/>
<path d="M319.3 425.0 Q326.9 423.8 334.4 425.6" fill="none" stroke="#2e2d25" stroke-width="0.6"/>
<path d="M319.3 452.0 Q326.9 450.8 334.4 452.6" fill="none" stroke="#2e2d25" stroke-width="0.6"/>
<path d="M337.5 386.4 Q345.1 385.2 352.6 387.0" fill="none" stroke="#2e2d25" stroke-width="0.6"/>
<path d="M337.5 411.0 Q345.1 409.8 352.6 411.6" fill="none" stroke="#2e2d25" stroke-width="0.6"/>
<path d="M337.5 440.0 Q345.1 438.8 352.6 440.6" fill="none" stroke="#2e2d25" stroke-width="0.6"/>
<path d="M355.0 392.0 Q362.9 390.8 370.7 392.6" fill="none" stroke="#2e2d25" stroke-width="0.6"/>
<path d="M355.0 418.0 Q362.9 416.8 370.7 418.6" fill="none" stroke="#2e2d25" stroke-width="0.6"/>
<path d="M373.7 396.0 Q381.3 394.8 388.9 396.6" fill="none" stroke="#2e2d25" stroke-width="0.6"/>
<path d="M373.7 420.0 Q381.3 418.8 388.9 420.6" fill="none" stroke="#2e2d25" stroke-width="0.6"/>
<path d="M373.7 448.0 Q381.3 446.8 388.9 448.6" fill="none" stroke="#2e2d25" stroke-width="0.6"/>
<path d="M309.7 428.4 L310.9 432.8 L311.0 437.6 L310.0 442.1 L310.4 447.5 L309.2 451.4 L308.0 456.8 L308.5 459.9 L310.0 465.8 L310.5 466.0" fill="none" stroke="#a8a898" stroke-width="0.35" opacity="0.6"/>
<path d="M306.1 420.2 L306.2 423.4 L305.3 427.1 L303.9 431.5 L303.7 437.0 L303.7 442.0 L303.7 447.0 L303.6 450.8 L305.1 456.8 L306.1 461.9 L305.6 465.6 L304.9 466.0" fill="none" stroke="#a8a898" stroke-width="0.35" opacity="0.6"/>
<path d="M330.1 426.0 L331.1 430.2 L332.5 435.7 L331.0 439.3 L332.2 443.7 L333.7 447.9 L332.4 452.8 L333.2 456.6 L332.0 460.6 L333.4 465.9 L332.2 466.0" fill="none" stroke="#a8a898" stroke-width="0.35" opacity="0.6"/>
<path d="M322.0 420.9 L322.9 424.4 L323.1 428.8 L322.2 434.0 L321.1 438.9 L319.9 443.2 L319.0 447.0 L320.5 452.4 L319.9 458.0 L319.0 462.2 L320.1 466.0" fill="none" stroke="#a8a898" stroke-width="0.35" opacity="0.6"/>
<path d="M340.2 434.8 L339.4 438.6 L340.2 442.6 L339.6 445.8 L338.3 450.6 L337.6 455.4 L337.2 459.7 L338.6 464.2 L338.8 466.0" fill="none" stroke="#a8a898" stroke-width="0.35" opacity="0.6"/>
<path d="M341.2 422.3 L342.4 427.8 L341.7 431.3 L342.4 437.2 L341.5 443.0 L342.6 447.8 L342.4 451.1 L341.0 457.0 L340.2 462.1 L339.5 466.0" fill="none" stroke="#a8a898" stroke-width="0.35" opacity="0.6"/>
<path d="M364.1 390.4 L363.1 395.6 L361.8 399.2 L362.0 404.8 L362.3 408.6 L363.6 412.3 L362.1 416.1 L362.0 419.2 L361.0 423.4 L361.2 426.7 L360.8 432.4 L362.2 437.4 L362.8 442.1 L361.7 445.2 L360.3 451.0 L360.9 456.9 L359.5 461.8 L359.4 466.0" fill="none" stroke="#d0ccb8" stroke-width="0.35" opacity="0.6"/>
<path d="M360.6 401.0 L359.3 405.6 L360.0 411.3 L360.7 416.4 L361.6 422.2 L361.1 427.2 L362.3 432.9 L362.1 438.2 L363.2 442.9 L363.6 447.1 L363.8 451.9 L362.5 456.8 L364.0 462.5 L364.7 466.0" fill="none" stroke="#d0ccb8" stroke-width="0.35" opacity="0.6"/>
<path d="M365.8 394.7 L365.7 400.2 L364.4 405.5 L363.0 410.3 L362.9 414.0 L363.5 418.5 L363.9 424.2 L363.1 427.3 L362.5 432.3 L361.7 435.8 L362.9 440.8 L362.7 446.5 L362.2 451.5 L361.3 455.8 L362.2 461.5 L363.3 465.6 L363.6 466.0" fill="none" stroke="#d0ccb8" stroke-width="0.35" opacity="0.6"/>
<path d="M358.2 393.4 L359.2 399.0 L359.9 404.8 L359.2 408.4 L359.1 412.2 L358.2 416.4 L358.6 420.9 L358.0 426.4 L359.5 430.8 L358.2 433.9 L359.3 437.0 L359.9 441.7 L359.4 447.1 L357.9 450.5 L357.8 453.6 L358.8 457.3 L357.7 460.4 L358.1 464.8 L358.5 466.0" fill="none" stroke="#d0ccb8" stroke-width="0.35" opacity="0.6"/>
<path d="M385.1 400.4 L385.6 404.0 L385.5 407.5 L384.1 411.9 L384.7 415.5 L384.0 419.5 L384.6 424.1 L385.0 429.3 L384.6 434.7 L385.9 438.0 L387.2 443.1 L386.0 447.5 L386.4 453.2 L386.1 457.9 L387.2 463.3 L388.5 466.0" fill="none" stroke="#d0ccb8" stroke-width="0.35" opacity="0.6"/>
<path d="M383.1 389.1 L383.8 394.5 L384.2 399.7 L383.4 405.4 L384.8 411.3 L384.9 416.7 L384.4 422.4 L385.5 426.5 L384.2 430.8 L384.4 436.1 L384.3 439.2 L385.2 442.4 L386.1 445.9 L385.7 451.2 L384.6 454.7 L384.6 459.9 L385.6 464.9 L387.0 466.0" fill="none" stroke="#d0ccb8" stroke-width="0.35" opacity="0.6"/>
<path d="M386.8 387.3 L385.9 391.9 L385.3 397.1 L385.7 401.6 L386.8 406.3 L386.2 410.4 L387.2 416.2 L386.4 421.7 L387.8 426.3 L388.0 429.9 L388.1 434.4 L388.4 437.5 L389.8 442.0 L389.5 447.4 L389.7 451.9 L390.3 455.1 L390.4 459.3 L391.8 465.1 L391.1 466.0" fill="none" stroke="#d0ccb8" stroke-width="0.35" opacity="0.6"/>
<path d="M376.7 392.5 L377.7 398.2 L377.6 402.2 L376.7 407.0 L378.0 410.4 L378.8 413.5 L377.9 417.2 L378.5 421.1 L378.0 426.0 L376.8 431.2 L375.7 435.7 L375.0 439.3 L375.0 443.6 L374.7 447.8 L374.8 451.3 L373.9 456.2 L374.3 460.8 L375.3 465.6 L376.4 466.0" fill="none" stroke="#d0ccb8" stroke-width="0.35" opacity="0.6"/>
<rect x="301.90" y="353.50" width="16.70" height="7.50" fill="#d0d8d8" stroke="none" stroke-width="0.6" opacity="0.55"/>
<rect x="318.50" y="353.50" width="16.70" height="7.50" fill="#d0d8d8" stroke="none" stroke-width="0.6" opacity="0.55"/>
<rect x="336.70" y="353.50" width="16.70" height="7.50" fill="#d0d8d8" stroke="none" stroke-width="0.6" opacity="0.55"/>
<rect x="354.20" y="353.50" width="17.30" height="7.50" fill="#d0d8d8" stroke="none" stroke-width="0.6" opacity="0.55"/>
<rect x="372.90" y="353.50" width="16.80" height="7.50" fill="#d0d8d8" stroke="none" stroke-width="0.6" opacity="0.55"/>
<line x1="300.00" y1="462.40" x2="352.60" y2="462.40" stroke="#f4f4f4" stroke-width="0.9" stroke-dasharray="3.2 2"/>
<line x1="357.00" y1="468.20" x2="388.50" y2="468.20" stroke="#f4f4f4" stroke-width="0.9" stroke-dasharray="3.2 2"/>
<path d="M308.5 354.3 Q307.3 330.6 305.7 306.8" fill="none" stroke="#2e7040" stroke-width="1.1638816252572408" stroke-linecap="round"/>
<path d="M309.3 354.4 Q307.3 329.3 303.0 304.3" fill="none" stroke="#3a7c48" stroke-width="1.178979880282995" stroke-linecap="round"/>
<path d="M311.0 350.4 Q311.9 325.1 313.3 299.8" fill="none" stroke="#468a50" stroke-width="0.9158437145326705" stroke-linecap="round"/>
<path d="M312.2 351.4 Q307.0 327.9 301.3 304.4" fill="none" stroke="#52965a" stroke-width="0.9489590170902925" stroke-linecap="round"/>
<path d="M309.1 355.4 Q310.1 324.9 311.3 294.4" fill="none" stroke="#6aac6a" stroke-width="0.9862407463358696" stroke-linecap="round"/>
<path d="M309.0 356.2 Q312.8 333.6 320.6 310.9" fill="none" stroke="#5ea262" stroke-width="1.0100786015245806" stroke-linecap="round"/>
<path d="M313.0 350.9 Q315.7 334.6 319.4 318.2" fill="none" stroke="#6aac6a" stroke-width="0.860793813864202" stroke-linecap="round"/>
<path d="M311.9 354.6 Q310.7 329.1 309.8 303.5" fill="none" stroke="#6aac6a" stroke-width="0.9360489448764782" stroke-linecap="round"/>
<path d="M308.4 350.7 Q307.7 331.2 306.4 311.7" fill="none" stroke="#3a7c48" stroke-width="0.8242677710388879" stroke-linecap="round"/>
<path d="M312.2 352.3 Q313.4 335.6 315.1 318.8" fill="none" stroke="#6aac6a" stroke-width="0.8090251712222355" stroke-linecap="round"/>
<path d="M308.4 356.1 Q308.7 325.8 309.2 295.4" fill="none" stroke="#52965a" stroke-width="0.9591590714184931" stroke-linecap="round"/>
<path d="M310.1 352.2 Q313.6 332.5 320.4 312.8" fill="none" stroke="#3e844a" stroke-width="1.145593787879406" stroke-linecap="round"/>
<path d="M312.5 357.7 Q309.8 332.1 304.6 306.6" fill="none" stroke="#468a50" stroke-width="0.8605193532465603" stroke-linecap="round"/>
<path d="M309.0 352.3 Q310.7 330.1 314.0 308.0" fill="none" stroke="#6aac6a" stroke-width="1.0439249741027987" stroke-linecap="round"/>
<path d="M312.9 355.2 Q309.1 332.6 305.6 310.0" fill="none" stroke="#74b470" stroke-width="1.1598132040231808" stroke-linecap="round"/>
<path d="M310.1 353.2 Q312.4 338.4 317.0 323.5" fill="none" stroke="#3e844a" stroke-width="0.824899128647475" stroke-linecap="round"/>
<path d="M309.8 350.4 Q306.7 328.2 299.4 305.9" fill="none" stroke="#468a50" stroke-width="1.0146474751873742" stroke-linecap="round"/>
<path d="M309.1 353.0 Q315.1 334.4 321.2 315.7" fill="none" stroke="#6aac6a" stroke-width="1.0409116755848034" stroke-linecap="round"/>
<path d="M313.0 353.8 Q311.6 327.4 309.5 301.0" fill="none" stroke="#468a50" stroke-width="0.8408750466992674" stroke-linecap="round"/>
<path d="M308.9 350.2 Q307.3 330.3 306.2 310.3" fill="none" stroke="#6aac6a" stroke-width="0.8586410155596363" stroke-linecap="round"/>
<path d="M313.0 356.9 Q312.1 329.3 311.2 301.7" fill="none" stroke="#5ea262" stroke-width="1.0073587428531043" stroke-linecap="round"/>
<path d="M310.8 354.0 Q315.4 331.9 320.2 309.9" fill="none" stroke="#52965a" stroke-width="1.122431433914267" stroke-linecap="round"/>
<path d="M310.7 352.8 Q312.9 333.6 318.0 314.3" fill="none" stroke="#2e7040" stroke-width="1.11604565465277" stroke-linecap="round"/>
<path d="M309.8 356.5 Q309.6 329.8 309.4 303.0" fill="none" stroke="#6aac6a" stroke-width="1.1820002525285331" stroke-linecap="round"/>
<path d="M309.1 351.6 Q307.9 325.7 306.7 299.7" fill="none" stroke="#2e7040" stroke-width="0.9917893705046152" stroke-linecap="round"/>
<path d="M311.4 357.3 Q312.7 330.3 313.9 303.2" fill="none" stroke="#52965a" stroke-width="0.9912130978376001" stroke-linecap="round"/>
<path d="M312.1 357.8 Q307.9 337.4 302.1 317.1" fill="none" stroke="#3e844a" stroke-width="1.0973410843217284" stroke-linecap="round"/>
<path d="M308.2 354.7 Q304.5 336.1 299.8 317.5" fill="none" stroke="#468a50" stroke-width="1.0446293348864033" stroke-linecap="round"/>
<path d="M308.9 354.4 Q310.0 333.0 312.5 311.6" fill="none" stroke="#3a7c48" stroke-width="1.0106324188396223" stroke-linecap="round"/>
<path d="M312.2 351.7 Q315.5 337.4 320.9 323.1" fill="none" stroke="#5ea262" stroke-width="1.0004647679344993" stroke-linecap="round"/>
<path d="M311.9 358 L311.4 342.4" fill="none" stroke="#5cb060" stroke-width="0.8"/>
<path d="M308.4 358 L309.1 345.2" fill="none" stroke="#4ca456" stroke-width="0.8"/>
<path d="M311.0 358 L312.2 341.4" fill="none" stroke="#4ca456" stroke-width="0.8"/>
<path d="M308.8 358 L307.7 342.1" fill="none" stroke="#6cbc6c" stroke-width="0.8"/>
<path d="M312.0 358 L312.3 344.2" fill="none" stroke="#5cb060" stroke-width="0.8"/>
<path d="M309.3 356 Q307.8 311.8 303.7 308.8 Q301.4 307.8 299.0 318.4" fill="none" stroke="#74b470" stroke-width="0.9" stroke-linecap="round"/>
<path d="M311.7 356 Q313.2 302.7 316.8 299.7 Q318.7 298.7 320.6 308.9" fill="none" stroke="#3a7c48" stroke-width="0.9" stroke-linecap="round"/>
<path d="M310.6 356 Q309.1 314.0 303.6 311.0 Q300.7 310.0 297.8 321.6" fill="none" stroke="#52965a" stroke-width="0.9" stroke-linecap="round"/>
<path d="M311.4 356 Q312.9 311.3 316.7 308.3 Q319.0 307.3 321.2 322.8" fill="none" stroke="#5ea262" stroke-width="0.9" stroke-linecap="round"/>
<path d="M327.7 353.3 Q331.3 333.9 336.2 314.5" fill="none" stroke="#6aac6a" stroke-width="0.8290184398625954" stroke-linecap="round"/>
<path d="M329.4 357.2 Q327.7 327.8 324.6 298.5" fill="none" stroke="#6aac6a" stroke-width="0.8571915991696949" stroke-linecap="round"/>
<path d="M330.3 353.2 Q332.6 333.5 335.5 313.8" fill="none" stroke="#52965a" stroke-width="0.8645864239523517" stroke-linecap="round"/>
<path d="M326.5 352.5 Q327.2 322.2 327.8 291.9" fill="none" stroke="#2e7040" stroke-width="0.9351918743671483" stroke-linecap="round"/>
<path d="M328.1 352.4 Q328.2 322.1 328.3 291.9" fill="none" stroke="#3a7c48" stroke-width="1.1940332976536396" stroke-linecap="round"/>
<path d="M326.8 350.3 Q330.6 327.9 333.9 305.4" fill="none" stroke="#5ea262" stroke-width="1.1023106191443073" stroke-linecap="round"/>
<path d="M330.2 353.2 Q332.2 333.9 334.4 314.5" fill="none" stroke="#74b470" stroke-width="1.0801669786186472" stroke-linecap="round"/>
<path d="M327.6 350.6 Q324.4 325.7 322.0 300.9" fill="none" stroke="#3a7c48" stroke-width="1.1206514366285558" stroke-linecap="round"/>
<path d="M329.8 353.6 Q326.6 332.3 321.9 310.9" fill="none" stroke="#3e844a" stroke-width="1.1706677136284909" stroke-linecap="round"/>
<path d="M326.7 350.9 Q326.1 323.7 325.1 296.5" fill="none" stroke="#2e7040" stroke-width="0.8724583870225199" stroke-linecap="round"/>
<path d="M326.5 353.6 Q331.5 333.5 336.3 313.5" fill="none" stroke="#5ea262" stroke-width="0.9388004088511436" stroke-linecap="round"/>
<path d="M329.2 354.4 Q326.2 325.6 320.8 296.8" fill="none" stroke="#74b470" stroke-width="0.8982718078334416" stroke-linecap="round"/>
<path d="M328.8 354.4 Q328.4 325.5 328.1 296.6" fill="none" stroke="#5ea262" stroke-width="1.0750966942762765" stroke-linecap="round"/>
<path d="M329.0 355.1 Q332.5 333.8 337.2 312.5" fill="none" stroke="#6aac6a" stroke-width="1.1927527727317466" stroke-linecap="round"/>
<path d="M329.9 353.4 Q331.4 325.6 334.7 297.8" fill="none" stroke="#3e844a" stroke-width="1.1482151284990993" stroke-linecap="round"/>
<path d="M327.0 353.7 Q328.7 323.0 331.9 292.3" fill="none" stroke="#74b470" stroke-width="0.8014490850664469" stroke-linecap="round"/>
<path d="M327.1 350.3 Q326.9 326.9 326.7 303.6" fill="none" stroke="#52965a" stroke-width="0.9426335668055948" stroke-linecap="round"/>
<path d="M328.0 351.6 Q324.6 330.1 320.5 308.5" fill="none" stroke="#2e7040" stroke-width="0.8363406785254738" stroke-linecap="round"/>
<path d="M327.5 352.4 Q330.9 325.9 334.4 299.4" fill="none" stroke="#3a7c48" stroke-width="1.0342333136726534" stroke-linecap="round"/>
<path d="M329.1 357.0 Q329.3 326.4 329.5 295.7" fill="none" stroke="#6aac6a" stroke-width="1.0882709085486206" stroke-linecap="round"/>
<path d="M326.2 356.6 Q327.6 325.1 328.9 293.6" fill="none" stroke="#3e844a" stroke-width="1.0935408493907848" stroke-linecap="round"/>
<path d="M328.0 356.7 Q331.4 327.5 334.3 298.2" fill="none" stroke="#52965a" stroke-width="0.8340366811488883" stroke-linecap="round"/>
<path d="M327.4 353.6 Q325.4 337.7 321.2 321.9" fill="none" stroke="#2e7040" stroke-width="1.0504905835731144" stroke-linecap="round"/>
<path d="M329.5 356.0 Q330.7 323.5 332.1 291.0" fill="none" stroke="#3a7c48" stroke-width="1.06371979572174" stroke-linecap="round"/>
<path d="M325.9 352.1 Q323.7 332.0 321.6 311.9" fill="none" stroke="#52965a" stroke-width="0.8922944508189815" stroke-linecap="round"/>
<path d="M325.9 357.3 Q328.1 330.1 331.5 303.0" fill="none" stroke="#2e7040" stroke-width="1.0467896063112998" stroke-linecap="round"/>
<path d="M326.8 355.9 Q328.6 322.1 331.4 288.2" fill="none" stroke="#468a50" stroke-width="0.8049876853299758" stroke-linecap="round"/>
<path d="M329.0 355.4 Q326.1 331.0 321.5 306.6" fill="none" stroke="#5ea262" stroke-width="0.9858651413497257" stroke-linecap="round"/>
<path d="M326.5 357.8 Q327.6 328.1 328.4 298.4" fill="none" stroke="#2e7040" stroke-width="0.9158355517952764" stroke-linecap="round"/>
<path d="M330.5 353.1 Q325.5 335.2 321.8 317.4" fill="none" stroke="#52965a" stroke-width="0.8298451470776569" stroke-linecap="round"/>
<path d="M326.0 358 L326.7 340.1" fill="none" stroke="#6cbc6c" stroke-width="0.8"/>
<path d="M326.2 358 L327.1 342.1" fill="none" stroke="#5cb060" stroke-width="0.8"/>
<path d="M329.0 358 L328.2 345.2" fill="none" stroke="#6cbc6c" stroke-width="0.8"/>
<path d="M327.5 358 L326.4 345.6" fill="none" stroke="#4ca456" stroke-width="0.8"/>
<path d="M327.8 358 L327.2 339.1" fill="none" stroke="#6cbc6c" stroke-width="0.8"/>
<path d="M327.5 356 Q326.0 303.0 322.7 300.0 Q320.7 299.0 318.7 309.7" fill="none" stroke="#3e844a" stroke-width="0.9" stroke-linecap="round"/>
<path d="M326.5 356 Q328.0 323.2 334.9 320.2 Q337.7 319.2 340.6 329.5" fill="none" stroke="#6aac6a" stroke-width="0.9" stroke-linecap="round"/>
<path d="M326.3 356 Q324.8 309.8 320.5 306.8 Q318.9 305.8 317.3 321.2" fill="none" stroke="#5ea262" stroke-width="0.9" stroke-linecap="round"/>
<path d="M329.4 356 Q330.9 307.0 332.2 304.0 Q334.7 303.0 337.2 316.1" fill="none" stroke="#468a50" stroke-width="0.9" stroke-linecap="round"/>
<path d="M341.2 353.0 Q339.8 325.8 338.7 298.7" fill="none" stroke="#2e7040" stroke-width="1.124784906988309" stroke-linecap="round"/>
<path d="M343.0 355.8 Q343.7 331.5 345.2 307.3" fill="none" stroke="#3e844a" stroke-width="0.9803441691843094" stroke-linecap="round"/>
<path d="M340.5 357.4 Q342.8 329.1 347.3 300.9" fill="none" stroke="#74b470" stroke-width="0.9659466604699577" stroke-linecap="round"/>
<path d="M343.6 353.2 Q342.0 327.3 339.3 301.3" fill="none" stroke="#74b470" stroke-width="1.0229286809828162" stroke-linecap="round"/>
<path d="M341.3 357.2 Q341.3 322.8 341.2 288.4" fill="none" stroke="#52965a" stroke-width="0.9811944303103071" stroke-linecap="round"/>
<path d="M343.0 352.0 Q342.0 326.0 340.2 300.0" fill="none" stroke="#3a7c48" stroke-width="0.9277150965903002" stroke-linecap="round"/>
<path d="M340.4 357.0 Q340.6 325.8 340.8 294.7" fill="none" stroke="#52965a" stroke-width="0.9507463254637714" stroke-linecap="round"/>
<path d="M345.1 351.0 Q342.9 320.7 340.2 290.5" fill="none" stroke="#52965a" stroke-width="0.8370392628640559" stroke-linecap="round"/>
<path d="M342.5 352.5 Q346.4 330.1 349.7 307.7" fill="none" stroke="#2e7040" stroke-width="0.8508988083369836" stroke-linecap="round"/>
<path d="M345.1 353.9 Q344.0 327.3 341.7 300.7" fill="none" stroke="#74b470" stroke-width="1.1888964487580966" stroke-linecap="round"/>
<path d="M342.9 355.5 Q340.5 323.0 338.7 290.6" fill="none" stroke="#74b470" stroke-width="0.8340013520464329" stroke-linecap="round"/>
<path d="M343.1 350.3 Q345.5 319.6 347.7 288.9" fill="none" stroke="#468a50" stroke-width="1.0505890943163452" stroke-linecap="round"/>
<path d="M340.8 352.4 Q342.4 324.6 343.5 296.8" fill="none" stroke="#52965a" stroke-width="0.955232778969055" stroke-linecap="round"/>
<path d="M341.8 353.7 Q339.7 325.3 338.3 297.0" fill="none" stroke="#52965a" stroke-width="0.9901216880270174" stroke-linecap="round"/>
<path d="M343.8 352.5 Q342.2 329.2 338.5 306.0" fill="none" stroke="#74b470" stroke-width="1.1539394100739457" stroke-linecap="round"/>
<path d="M342.4 353.0 Q343.8 321.3 345.5 289.6" fill="none" stroke="#6aac6a" stroke-width="1.087332896651497" stroke-linecap="round"/>
<path d="M341.8 356.8 Q341.4 322.6 340.7 288.5" fill="none" stroke="#74b470" stroke-width="1.1879434889567309" stroke-linecap="round"/>
<path d="M341.4 356.1 Q340.8 327.4 339.8 298.7" fill="none" stroke="#74b470" stroke-width="1.0440393244842088" stroke-linecap="round"/>
<path d="M340.6 354.8 Q345.9 334.6 349.7 314.4" fill="none" stroke="#2e7040" stroke-width="0.8851796299923322" stroke-linecap="round"/>
<path d="M340.6 353.1 Q346.6 323.6 351.1 294.1" fill="none" stroke="#6aac6a" stroke-width="1.0930895063674615" stroke-linecap="round"/>
<path d="M341.2 357.5 Q346.6 340.0 351.5 322.5" fill="none" stroke="#2e7040" stroke-width="0.924730857206672" stroke-linecap="round"/>
<path d="M342.5 350.9 Q343.9 332.1 346.8 313.3" fill="none" stroke="#3a7c48" stroke-width="0.9405867440109943" stroke-linecap="round"/>
<path d="M341.3 352.9 Q346.5 330.3 350.7 307.8" fill="none" stroke="#3e844a" stroke-width="0.8351041050233166" stroke-linecap="round"/>
<path d="M342.5 352.6 Q344.6 324.8 346.5 297.0" fill="none" stroke="#74b470" stroke-width="0.8121128220309679" stroke-linecap="round"/>
<path d="M340.5 350.3 Q340.8 325.7 341.5 301.2" fill="none" stroke="#2e7040" stroke-width="0.9028063809720918" stroke-linecap="round"/>
<path d="M341.7 357.7 Q344.4 331.4 347.2 305.2" fill="none" stroke="#5ea262" stroke-width="1.0985751560826174" stroke-linecap="round"/>
<path d="M343.9 354.8 Q345.2 327.9 346.2 301.0" fill="none" stroke="#3a7c48" stroke-width="0.8097026819766114" stroke-linecap="round"/>
<path d="M345.1 353.1 Q342.6 331.3 338.5 309.6" fill="none" stroke="#3e844a" stroke-width="1.125920100490671" stroke-linecap="round"/>
<path d="M345.0 352.4 Q340.8 325.7 336.8 299.0" fill="none" stroke="#468a50" stroke-width="1.042901692498155" stroke-linecap="round"/>
<path d="M344.2 350.6 Q342.7 322.6 340.1 294.7" fill="none" stroke="#468a50" stroke-width="0.8989230048887633" stroke-linecap="round"/>
<path d="M340.6 358 L339.2 342.4" fill="none" stroke="#6cbc6c" stroke-width="0.8"/>
<path d="M341.1 358 L340.9 338.8" fill="none" stroke="#5cb060" stroke-width="0.8"/>
<path d="M341.6 358 L340.4 338.8" fill="none" stroke="#6cbc6c" stroke-width="0.8"/>
<path d="M345.2 358 L346.7 339.4" fill="none" stroke="#5cb060" stroke-width="0.8"/>
<path d="M342.4 358 L342.7 343.4" fill="none" stroke="#4ca456" stroke-width="0.8"/>
<path d="M343.0 356 Q341.5 319.3 335.8 316.3 Q333.1 315.3 330.4 325.7" fill="none" stroke="#5ea262" stroke-width="0.9" stroke-linecap="round"/>
<path d="M343.1 356 Q344.6 309.3 349.8 306.3 Q351.6 305.3 353.3 315.3" fill="none" stroke="#52965a" stroke-width="0.9" stroke-linecap="round"/>
<path d="M341.7 356 Q340.2 307.0 335.2 304.0 Q333.4 303.0 331.6 311.6" fill="none" stroke="#5ea262" stroke-width="0.9" stroke-linecap="round"/>
<path d="M344.8 356 Q346.3 312.7 347.7 309.7 Q350.4 308.7 353.2 321.9" fill="none" stroke="#2e7040" stroke-width="0.9" stroke-linecap="round"/>
<path d="M361.0 357.3 Q358.1 341.0 351.6 324.7" fill="none" stroke="#5ea262" stroke-width="0.8931570712304611" stroke-linecap="round"/>
<path d="M357.8 350.6 Q354.5 340.5 350.6 330.3" fill="none" stroke="#468a50" stroke-width="0.9796455431075162" stroke-linecap="round"/>
<path d="M357.3 354.8 Q356.2 339.7 355.0 324.7" fill="none" stroke="#52965a" stroke-width="0.8149818043968337" stroke-linecap="round"/>
<path d="M357.0 355.9 Q356.8 334.8 356.6 313.8" fill="none" stroke="#2e7040" stroke-width="1.1275332430817164" stroke-linecap="round"/>
<path d="M357.2 350.3 Q357.6 329.4 358.1 308.6" fill="none" stroke="#74b470" stroke-width="0.8253084314112963" stroke-linecap="round"/>
<path d="M360.0 350.7 Q357.1 334.6 351.6 318.5" fill="none" stroke="#5ea262" stroke-width="0.9639155685551128" stroke-linecap="round"/>
<path d="M358.4 354.5 Q357.2 335.9 355.4 317.4" fill="none" stroke="#3e844a" stroke-width="0.8072852726705264" stroke-linecap="round"/>
<path d="M358.8 353.2 Q362.7 337.5 365.6 321.8" fill="none" stroke="#3e844a" stroke-width="1.1606522326367106" stroke-linecap="round"/>
<path d="M361.2 353.7 Q360.2 330.2 358.4 306.7" fill="none" stroke="#2e7040" stroke-width="0.8206781612382765" stroke-linecap="round"/>
<path d="M359.7 357.4 Q355.9 340.4 352.5 323.4" fill="none" stroke="#468a50" stroke-width="0.8583547304509429" stroke-linecap="round"/>
<path d="M357.3 353.9 Q356.3 336.8 355.4 319.7" fill="none" stroke="#52965a" stroke-width="0.920646116514952" stroke-linecap="round"/>
<path d="M358.4 354.9 Q362.6 334.9 367.1 315.0" fill="none" stroke="#3a7c48" stroke-width="1.1616883388528534" stroke-linecap="round"/>
<path d="M360.7 351.8 Q361.5 328.6 362.5 305.5" fill="none" stroke="#52965a" stroke-width="1.1316750808744287" stroke-linecap="round"/>
<path d="M359.4 353.1 Q357.4 331.5 353.3 309.8" fill="none" stroke="#52965a" stroke-width="1.1882769189026434" stroke-linecap="round"/>
<path d="M361.0 355.4 Q363.8 336.2 366.6 317.1" fill="none" stroke="#6aac6a" stroke-width="0.8470924061233893" stroke-linecap="round"/>
<path d="M358.3 353.4 Q360.1 331.7 362.1 310.0" fill="none" stroke="#3e844a" stroke-width="0.9556848217810473" stroke-linecap="round"/>
<path d="M356.8 357.9 Q357.0 330.9 357.2 304.0" fill="none" stroke="#74b470" stroke-width="1.105426077898071" stroke-linecap="round"/>
<path d="M359.2 350.9 Q361.4 330.1 365.9 309.4" fill="none" stroke="#3e844a" stroke-width="0.946132925426105" stroke-linecap="round"/>
<path d="M357.0 351.0 Q362.4 334.9 366.3 318.8" fill="none" stroke="#6aac6a" stroke-width="1.11105443453906" stroke-linecap="round"/>
<path d="M358.7 357.6 Q359.2 330.7 360.2 303.7" fill="none" stroke="#3a7c48" stroke-width="1.1984496730986947" stroke-linecap="round"/>
<path d="M361.7 353.9 Q363.6 333.3 364.9 312.7" fill="none" stroke="#468a50" stroke-width="1.074453582729046" stroke-linecap="round"/>
<path d="M359.9 352.0 Q361.8 333.2 364.6 314.4" fill="none" stroke="#5ea262" stroke-width="1.162024878906091" stroke-linecap="round"/>
<path d="M359.2 354.7 Q359.1 333.4 359.1 312.1" fill="none" stroke="#52965a" stroke-width="0.9276310067542403" stroke-linecap="round"/>
<path d="M361.5 355.4 Q355.1 332.1 350.3 308.7" fill="none" stroke="#468a50" stroke-width="1.116849663212506" stroke-linecap="round"/>
<path d="M361.1 357.7 Q358.5 333.8 355.1 310.0" fill="none" stroke="#3a7c48" stroke-width="0.9008126377849418" stroke-linecap="round"/>
<path d="M358.7 353.0 Q359.5 331.3 360.7 309.6" fill="none" stroke="#468a50" stroke-width="0.9441005537832643" stroke-linecap="round"/>
<path d="M360.5 350.4 Q363.3 329.5 365.6 308.5" fill="none" stroke="#5ea262" stroke-width="0.9240289766765768" stroke-linecap="round"/>
<path d="M361.3 355.9 Q365.7 348.1 369.8 340.3" fill="none" stroke="#52965a" stroke-width="0.8597459026902068" stroke-linecap="round"/>
<path d="M361.3 351.1 Q361.7 329.6 362.4 308.1" fill="none" stroke="#2e7040" stroke-width="0.8089158089589865" stroke-linecap="round"/>
<path d="M358.6 351.8 Q354.3 332.8 349.6 313.8" fill="none" stroke="#468a50" stroke-width="0.8816737483925656" stroke-linecap="round"/>
<path d="M359.9 358 L359.8 339.1" fill="none" stroke="#5cb060" stroke-width="0.8"/>
<path d="M360.3 358 L360.2 338.5" fill="none" stroke="#5cb060" stroke-width="0.8"/>
<path d="M361.2 358 L362.0 341.2" fill="none" stroke="#6cbc6c" stroke-width="0.8"/>
<path d="M361.6 358 L360.3 344.6" fill="none" stroke="#6cbc6c" stroke-width="0.8"/>
<path d="M359.8 358 L360.0 342.8" fill="none" stroke="#4ca456" stroke-width="0.8"/>
<path d="M360.2 356 Q358.7 306.2 351.7 303.2 Q350.1 302.2 348.6 314.5" fill="none" stroke="#3e844a" stroke-width="0.9" stroke-linecap="round"/>
<path d="M358.0 356 Q359.5 304.0 366.9 301.0 Q368.6 300.0 370.3 312.9" fill="none" stroke="#52965a" stroke-width="0.9" stroke-linecap="round"/>
<path d="M357.9 356 Q356.4 305.0 352.9 302.0 Q350.6 301.0 348.3 314.1" fill="none" stroke="#468a50" stroke-width="0.9" stroke-linecap="round"/>
<path d="M359.3 356 Q360.8 301.6 365.8 298.6 Q368.8 297.6 371.8 311.4" fill="none" stroke="#74b470" stroke-width="0.9" stroke-linecap="round"/>
<path d="M381.7 353.7 Q385.0 330.8 388.0 308.0" fill="none" stroke="#74b470" stroke-width="0.8701566911517037" stroke-linecap="round"/>
<path d="M378.6 357.1 Q388.0 336.5 394.9 315.9" fill="none" stroke="#5ea262" stroke-width="1.0846736909524586" stroke-linecap="round"/>
<path d="M381.9 354.2 Q380.1 331.8 377.0 309.4" fill="none" stroke="#52965a" stroke-width="0.8341684457065022" stroke-linecap="round"/>
<path d="M382.2 351.6 Q382.5 329.0 382.9 306.4" fill="none" stroke="#6aac6a" stroke-width="0.8767747905259275" stroke-linecap="round"/>
<path d="M382.3 357.4 Q380.9 330.3 380.0 303.2" fill="none" stroke="#74b470" stroke-width="0.9888562078467347" stroke-linecap="round"/>
<path d="M382.8 351.9 Q383.2 322.2 383.5 292.6" fill="none" stroke="#52965a" stroke-width="0.9566252220351161" stroke-linecap="round"/>
<path d="M378.2 350.9 Q381.4 324.7 384.8 298.5" fill="none" stroke="#468a50" stroke-width="0.9379454731267931" stroke-linecap="round"/>
<path d="M381.5 355.1 Q377.7 326.2 374.0 297.4" fill="none" stroke="#2e7040" stroke-width="0.8263061072125971" stroke-linecap="round"/>
<path d="M382.1 357.1 Q383.0 332.5 385.0 307.9" fill="none" stroke="#3e844a" stroke-width="0.8428463555770439" stroke-linecap="round"/>
<path d="M382.2 356.5 Q379.0 327.2 375.5 297.9" fill="none" stroke="#5ea262" stroke-width="0.9908461365100059" stroke-linecap="round"/>
<path d="M379.5 352.7 Q377.3 338.3 373.8 324.0" fill="none" stroke="#6aac6a" stroke-width="0.9026809064450784" stroke-linecap="round"/>
<path d="M379.6 357.7 Q378.6 333.7 377.4 309.6" fill="none" stroke="#5ea262" stroke-width="1.0473103426267352" stroke-linecap="round"/>
<path d="M381.9 352.8 Q376.4 334.4 371.3 316.0" fill="none" stroke="#52965a" stroke-width="1.0857560302681901" stroke-linecap="round"/>
<path d="M380.2 354.2 Q384.3 332.9 390.8 311.6" fill="none" stroke="#2e7040" stroke-width="0.8017446677321305" stroke-linecap="round"/>
<path d="M378.9 354.0 Q380.4 329.4 382.5 304.9" fill="none" stroke="#5ea262" stroke-width="1.0312029568668302" stroke-linecap="round"/>
<path d="M379.2 351.3 Q376.4 339.5 374.4 327.6" fill="none" stroke="#3a7c48" stroke-width="0.996116682255012" stroke-linecap="round"/>
<path d="M379.6 350.8 Q388.4 333.3 394.8 315.9" fill="none" stroke="#3a7c48" stroke-width="0.9688519981159234" stroke-linecap="round"/>
<path d="M380.1 354.4 Q382.3 328.0 386.3 301.7" fill="none" stroke="#52965a" stroke-width="1.1775680347112059" stroke-linecap="round"/>
<path d="M381.0 350.3 Q377.5 335.4 373.6 320.6" fill="none" stroke="#468a50" stroke-width="1.147199290523249" stroke-linecap="round"/>
<path d="M380.3 355.5 Q380.8 327.4 381.5 299.2" fill="none" stroke="#52965a" stroke-width="0.850422818464201" stroke-linecap="round"/>
<path d="M379.0 352.4 Q380.4 325.2 381.8 298.1" fill="none" stroke="#468a50" stroke-width="1.0893344377159646" stroke-linecap="round"/>
<path d="M379.7 351.9 Q388.3 339.8 394.4 327.7" fill="none" stroke="#5ea262" stroke-width="1.1900592832415358" stroke-linecap="round"/>
<path d="M378.5 353.1 Q384.4 332.2 388.4 311.3" fill="none" stroke="#5ea262" stroke-width="1.0933170387071502" stroke-linecap="round"/>
<path d="M378.5 351.7 Q379.6 327.6 381.2 303.6" fill="none" stroke="#2e7040" stroke-width="0.8050469201774035" stroke-linecap="round"/>
<path d="M382.9 352.4 Q385.5 330.6 391.4 308.9" fill="none" stroke="#5ea262" stroke-width="1.0414835117406855" stroke-linecap="round"/>
<path d="M380.2 354.6 Q380.3 333.1 380.4 311.7" fill="none" stroke="#3e844a" stroke-width="1.1383974201338427" stroke-linecap="round"/>
<path d="M381.2 354.7 Q383.3 334.5 386.9 314.4" fill="none" stroke="#468a50" stroke-width="1.0566155288345083" stroke-linecap="round"/>
<path d="M378.5 353.4 Q380.2 328.3 381.6 303.3" fill="none" stroke="#468a50" stroke-width="0.9000243957324071" stroke-linecap="round"/>
<path d="M380.0 355.4 Q380.5 330.1 380.9 304.7" fill="none" stroke="#468a50" stroke-width="1.1577977676823428" stroke-linecap="round"/>
<path d="M382.5 350.9 Q381.0 329.1 378.5 307.3" fill="none" stroke="#52965a" stroke-width="0.8643370441085579" stroke-linecap="round"/>
<path d="M381.9 358 L383.2 342.2" fill="none" stroke="#5cb060" stroke-width="0.8"/>
<path d="M382.2 358 L382.1 339.6" fill="none" stroke="#6cbc6c" stroke-width="0.8"/>
<path d="M380.6 358 L381.0 344.6" fill="none" stroke="#4ca456" stroke-width="0.8"/>
<path d="M379.7 358 L380.4 341.7" fill="none" stroke="#4ca456" stroke-width="0.8"/>
<path d="M378.9 358 L379.0 345.5" fill="none" stroke="#4ca456" stroke-width="0.8"/>
<path d="M382.4 356 Q380.9 308.9 376.3 305.9 Q374.4 304.9 372.5 316.1" fill="none" stroke="#2e7040" stroke-width="0.9" stroke-linecap="round"/>
<path d="M378.8 356 Q380.3 322.9 387.0 319.9 Q389.5 318.9 392.0 331.5" fill="none" stroke="#3a7c48" stroke-width="0.9" stroke-linecap="round"/>
<path d="M379.4 356 Q377.9 318.5 372.7 315.5 Q370.4 314.5 368.2 324.3" fill="none" stroke="#3e844a" stroke-width="0.9" stroke-linecap="round"/>
<path d="M380.3 356 Q381.8 304.1 388.2 301.1 Q389.8 300.1 391.4 314.5" fill="none" stroke="#52965a" stroke-width="0.9" stroke-linecap="round"/>
<line x1="375.00" y1="287.60" x2="389.70" y2="287.60" stroke="#f2f2f2" stroke-width="1.5"/>
<line x1="431.30" y1="279.50" x2="431.30" y2="340.80" stroke="#bbb" stroke-width="0.6"/>
<line x1="431.30" y1="340.80" x2="514.00" y2="340.80" stroke="#bbb" stroke-width="0.6"/>
<text x="428.00" y="342.50" font-size="5.0" text-anchor="end" fill="#333" stroke="#333" stroke-width="0.18">0</text>
<line x1="430.10" y1="340.80" x2="431.30" y2="340.80" stroke="#bbb" stroke-width="0.4"/>
<text x="428.00" y="322.07" font-size="5.0" text-anchor="end" fill="#333" stroke="#333" stroke-width="0.18">30</text>
<line x1="430.10" y1="320.37" x2="431.30" y2="320.37" stroke="#bbb" stroke-width="0.4"/>
<text x="428.00" y="301.63" font-size="5.0" text-anchor="end" fill="#333" stroke="#333" stroke-width="0.18">60</text>
<line x1="430.10" y1="299.93" x2="431.30" y2="299.93" stroke="#bbb" stroke-width="0.4"/>
<text x="428.00" y="281.20" font-size="5.0" text-anchor="end" fill="#333" stroke="#333" stroke-width="0.18">90</text>
<line x1="430.10" y1="279.50" x2="431.30" y2="279.50" stroke="#bbb" stroke-width="0.4"/>
<rect x="437.00" y="288.60" width="6.70" height="52.20" fill="#4a74b8" stroke="none" stroke-width="0.6"/>
<line x1="440.35" y1="287.60" x2="440.35" y2="289.60" stroke="#333" stroke-width="0.4"/>
<line x1="439.45" y1="287.60" x2="441.25" y2="287.60" stroke="#333" stroke-width="0.4"/>
<line x1="439.45" y1="289.60" x2="441.25" y2="289.60" stroke="#333" stroke-width="0.4"/>
<rect x="453.90" y="289.40" width="6.70" height="51.40" fill="#4a74b8" stroke="none" stroke-width="0.6"/>
<line x1="457.25" y1="288.40" x2="457.25" y2="290.40" stroke="#333" stroke-width="0.4"/>
<line x1="456.35" y1="288.40" x2="458.15" y2="288.40" stroke="#333" stroke-width="0.4"/>
<line x1="456.35" y1="290.40" x2="458.15" y2="290.40" stroke="#333" stroke-width="0.4"/>
<rect x="470.80" y="288.60" width="6.30" height="52.20" fill="#4a74b8" stroke="none" stroke-width="0.6"/>
<line x1="473.95" y1="287.60" x2="473.95" y2="289.60" stroke="#333" stroke-width="0.4"/>
<line x1="473.05" y1="287.60" x2="474.85" y2="287.60" stroke="#333" stroke-width="0.4"/>
<line x1="473.05" y1="289.60" x2="474.85" y2="289.60" stroke="#333" stroke-width="0.4"/>
<rect x="487.30" y="284.40" width="6.70" height="56.40" fill="#4a74b8" stroke="none" stroke-width="0.6"/>
<line x1="490.65" y1="283.40" x2="490.65" y2="285.40" stroke="#333" stroke-width="0.4"/>
<line x1="489.75" y1="283.40" x2="491.55" y2="283.40" stroke="#333" stroke-width="0.4"/>
<line x1="489.75" y1="285.40" x2="491.55" y2="285.40" stroke="#333" stroke-width="0.4"/>
<rect x="503.50" y="283.30" width="6.80" height="57.50" fill="#4a74b8" stroke="none" stroke-width="0.6"/>
<line x1="506.90" y1="282.30" x2="506.90" y2="284.30" stroke="#333" stroke-width="0.4"/>
<line x1="506.00" y1="282.30" x2="507.80" y2="282.30" stroke="#333" stroke-width="0.4"/>
<line x1="506.00" y1="284.30" x2="507.80" y2="284.30" stroke="#333" stroke-width="0.4"/>
<text x="490.65" y="281.00" font-size="5" text-anchor="middle" fill="#222" stroke="#222" stroke-width="0.18">*</text>
<text x="506.90" y="280.20" font-size="5" text-anchor="middle" fill="#222" stroke="#222" stroke-width="0.18">*</text>
<text x="414.50" y="309.10" font-size="5.6" text-anchor="middle" fill="#222" transform="rotate(-90 414.50 309.10)" stroke="#222" stroke-width="0.20">Root depth (cm)</text>
<text x="441.55" y="345.20" font-size="5.0" text-anchor="end" fill="#222" transform="rotate(-45 441.55 345.20)" stroke="#222" stroke-width="0.18">WT</text>
<text x="458.45" y="345.20" font-size="5.0" text-anchor="end" fill="#222" font-style="italic" transform="rotate(-45 458.45 345.20)" stroke="#222" stroke-width="0.18">Hap2-5</text>
<text x="475.15" y="345.20" font-size="5.0" text-anchor="end" fill="#222" font-style="italic" transform="rotate(-45 475.15 345.20)" stroke="#222" stroke-width="0.18">Hap2-7</text>
<text x="491.85" y="345.20" font-size="5.0" text-anchor="end" fill="#222" font-style="italic" transform="rotate(-45 491.85 345.20)" stroke="#222" stroke-width="0.18">Hap4-4</text>
<text x="508.10" y="345.20" font-size="5.0" text-anchor="end" fill="#222" font-style="italic" transform="rotate(-45 508.10 345.20)" stroke="#222" stroke-width="0.18">Hap4-9</text>
<line x1="432.70" y1="379.10" x2="432.70" y2="440.80" stroke="#bbb" stroke-width="0.6"/>
<line x1="432.70" y1="440.80" x2="514.30" y2="440.80" stroke="#bbb" stroke-width="0.6"/>
<text x="429.30" y="442.50" font-size="5.0" text-anchor="end" fill="#333" stroke="#333" stroke-width="0.18">0</text>
<line x1="431.50" y1="440.80" x2="432.70" y2="440.80" stroke="#bbb" stroke-width="0.4"/>
<text x="429.30" y="430.16" font-size="5.0" text-anchor="end" fill="#333" stroke="#333" stroke-width="0.18">0.1</text>
<line x1="431.50" y1="428.46" x2="432.70" y2="428.46" stroke="#bbb" stroke-width="0.4"/>
<text x="429.30" y="417.82" font-size="5.0" text-anchor="end" fill="#333" stroke="#333" stroke-width="0.18">0.2</text>
<line x1="431.50" y1="416.12" x2="432.70" y2="416.12" stroke="#bbb" stroke-width="0.4"/>
<text x="429.30" y="405.48" font-size="5.0" text-anchor="end" fill="#333" stroke="#333" stroke-width="0.18">0.3</text>
<line x1="431.50" y1="403.78" x2="432.70" y2="403.78" stroke="#bbb" stroke-width="0.4"/>
<text x="429.30" y="393.14" font-size="5.0" text-anchor="end" fill="#333" stroke="#333" stroke-width="0.18">0.4</text>
<line x1="431.50" y1="391.44" x2="432.70" y2="391.44" stroke="#bbb" stroke-width="0.4"/>
<text x="429.30" y="380.80" font-size="5.0" text-anchor="end" fill="#333" stroke="#333" stroke-width="0.18">0.5</text>
<line x1="431.50" y1="379.10" x2="432.70" y2="379.10" stroke="#bbb" stroke-width="0.4"/>
<rect x="438.10" y="394.40" width="7.00" height="46.40" fill="#4a74b8" stroke="none" stroke-width="0.6"/>
<line x1="441.60" y1="392.40" x2="441.60" y2="396.40" stroke="#333" stroke-width="0.4"/>
<line x1="440.70" y1="392.40" x2="442.50" y2="392.40" stroke="#333" stroke-width="0.4"/>
<line x1="440.70" y1="396.40" x2="442.50" y2="396.40" stroke="#333" stroke-width="0.4"/>
<rect x="455.10" y="394.60" width="6.50" height="46.20" fill="#4a74b8" stroke="none" stroke-width="0.6"/>
<line x1="458.35" y1="392.60" x2="458.35" y2="396.60" stroke="#333" stroke-width="0.4"/>
<line x1="457.45" y1="392.60" x2="459.25" y2="392.60" stroke="#333" stroke-width="0.4"/>
<line x1="457.45" y1="396.60" x2="459.25" y2="396.60" stroke="#333" stroke-width="0.4"/>
<rect x="471.40" y="392.40" width="6.60" height="48.40" fill="#4a74b8" stroke="none" stroke-width="0.6"/>
<line x1="474.70" y1="390.40" x2="474.70" y2="394.40" stroke="#333" stroke-width="0.4"/>
<line x1="473.80" y1="390.40" x2="475.60" y2="390.40" stroke="#333" stroke-width="0.4"/>
<line x1="473.80" y1="394.40" x2="475.60" y2="394.40" stroke="#333" stroke-width="0.4"/>
<rect x="488.20" y="386.30" width="6.50" height="54.50" fill="#4a74b8" stroke="none" stroke-width="0.6"/>
<line x1="491.45" y1="384.30" x2="491.45" y2="388.30" stroke="#333" stroke-width="0.4"/>
<line x1="490.55" y1="384.30" x2="492.35" y2="384.30" stroke="#333" stroke-width="0.4"/>
<line x1="490.55" y1="388.30" x2="492.35" y2="388.30" stroke="#333" stroke-width="0.4"/>
<rect x="504.10" y="385.20" width="7.00" height="55.60" fill="#4a74b8" stroke="none" stroke-width="0.6"/>
<line x1="507.60" y1="383.20" x2="507.60" y2="387.20" stroke="#333" stroke-width="0.4"/>
<line x1="506.70" y1="383.20" x2="508.50" y2="383.20" stroke="#333" stroke-width="0.4"/>
<line x1="506.70" y1="387.20" x2="508.50" y2="387.20" stroke="#333" stroke-width="0.4"/>
<text x="491.50" y="382.00" font-size="5" text-anchor="middle" fill="#222" stroke="#222" stroke-width="0.18">*</text>
<text x="507.60" y="381.50" font-size="5" text-anchor="middle" fill="#222" stroke="#222" stroke-width="0.18">*</text>
<text x="414.20" y="410.80" font-size="5.6" text-anchor="middle" fill="#222" transform="rotate(-90 414.20 410.80)" stroke="#222" stroke-width="0.20">Root dry weight (g)</text>
<text x="442.80" y="445.20" font-size="5.0" text-anchor="end" fill="#222" transform="rotate(-45 442.80 445.20)" stroke="#222" stroke-width="0.18">WT</text>
<text x="459.55" y="445.20" font-size="5.0" text-anchor="end" fill="#222" font-style="italic" transform="rotate(-45 459.55 445.20)" stroke="#222" stroke-width="0.18">Hap2-5</text>
<text x="475.90" y="445.20" font-size="5.0" text-anchor="end" fill="#222" font-style="italic" transform="rotate(-45 475.90 445.20)" stroke="#222" stroke-width="0.18">Hap2-7</text>
<text x="492.65" y="445.20" font-size="5.0" text-anchor="end" fill="#222" font-style="italic" transform="rotate(-45 492.65 445.20)" stroke="#222" stroke-width="0.18">Hap4-4</text>
<text x="508.80" y="445.20" font-size="5.0" text-anchor="end" fill="#222" font-style="italic" transform="rotate(-45 508.80 445.20)" stroke="#222" stroke-width="0.18">Hap4-9</text>
<text x="533.60" y="264.60" font-size="17.9" text-anchor="start" fill="#111">F</text>
<text x="567.50" y="267.60" font-size="5.2" text-anchor="middle" fill="#222" stroke="#222" stroke-width="0.18">WT</text>
<text x="612.20" y="267.60" font-size="5.2" text-anchor="middle" fill="#222" font-style="italic" stroke="#222" stroke-width="0.18">Hap4-9</text>
<defs><linearGradient id="rootg" gradientUnits="userSpaceOnUse" x1="0" y1="272" x2="0" y2="458"><stop offset="0" stop-color="#a81616"/><stop offset="0.5" stop-color="#b81616"/><stop offset="0.8" stop-color="#d41a1a"/><stop offset="1" stop-color="#ec2020"/></linearGradient><radialGradient id="tipg" cx="0.5" cy="0.5" r="0.5"><stop offset="0" stop-color="#ff3030"/><stop offset="1" stop-color="#e01c1c" stop-opacity="0"/></radialGradient><filter id="rblur" x="-0.2" y="-0.05" width="1.4" height="1.1"><feGaussianBlur in="SourceGraphic" stdDeviation="0.6" result="b"/><feTurbulence type="fractalNoise" baseFrequency="1.1" numOctaves="1" seed="3" result="n"/><feColorMatrix in="n" type="matrix" values="0 0 0 0 0.15  0 0 0 0 0  0 0 0 0 0  0 0 0 -1.4 0.85" result="d"/><feComposite in="d" in2="b" operator="in" result="dc"/><feMerge><feMergeNode in="b"/><feMergeNode in="dc"/></feMerge></filter></defs>
<rect x="551.90" y="271.90" width="38.50" height="187.20" fill="#040404" stroke="none" stroke-width="0.6"/>
<rect x="592.60" y="271.90" width="43.40" height="187.20" fill="#040404" stroke="none" stroke-width="0.6"/>
<path d="M562.7 271.9 L576 271.9 C576.8 330 578.2 380 579.7 430 C580 448 577 457 574 457 C571 457 569.5 448 569.2 430 C567.5 380 565 330 562.7 271.9 Z" fill="url(#rootg)" stroke="none" stroke-width="0" filter="url(#rblur)"/>
<ellipse cx="573.6" cy="449.5" rx="3.5" ry="5" fill="url(#tipg)"/>
<path d="M595.4 271.9 L610.5 271.9 C615 310 621 340 623.5 368 C626 395 628 415 628 430 C628 448 623.5 457 620.5 457 C617.5 457 615.5 448 615.3 430 C614.5 410 611 390 608 368 C604 335 599 305 595.4 271.9 Z" fill="url(#rootg)" stroke="none" stroke-width="0" filter="url(#rblur)"/>
<ellipse cx="620.5" cy="450" rx="3.5" ry="5" fill="url(#tipg)"/>
<line x1="586.60" y1="283.00" x2="586.60" y2="415.80" stroke="#34486e" stroke-width="0.9"/>
<line x1="586.60" y1="415.80" x2="586.60" y2="446.40" stroke="#e8e8e8" stroke-width="0.9"/>
<line x1="632.20" y1="303.60" x2="632.20" y2="414.70" stroke="#34486e" stroke-width="0.9"/>
<line x1="632.20" y1="414.70" x2="632.20" y2="446.40" stroke="#e8e8e8" stroke-width="0.9"/>
<line x1="564.30" y1="429.50" x2="564.30" y2="446.40" stroke="#b05038" stroke-width="0.7"/>
<line x1="610.80" y1="429.50" x2="610.80" y2="446.40" stroke="#b05038" stroke-width="0.7"/>
<text x="686.50" y="268.40" font-size="5.6" text-anchor="middle" fill="#222" stroke="#222" stroke-width="0.20">MZ</text>
<line x1="675.20" y1="275.60" x2="675.20" y2="304.50" stroke="#bbb" stroke-width="0.6"/>
<line x1="675.20" y1="304.50" x2="703.00" y2="304.50" stroke="#bbb" stroke-width="0.6"/>
<text x="672.20" y="306.00" font-size="4.5" text-anchor="end" fill="#333" stroke="#333" stroke-width="0.16">0</text>
<text x="672.20" y="297.60" font-size="4.5" text-anchor="end" fill="#333" stroke="#333" stroke-width="0.16">0.3</text>
<text x="672.20" y="289.20" font-size="4.5" text-anchor="end" fill="#333" stroke="#333" stroke-width="0.16">0.6</text>
<text x="672.20" y="280.80" font-size="4.5" text-anchor="end" fill="#333" stroke="#333" stroke-width="0.16">0.9</text>
<rect x="680.40" y="280.80" width="5.10" height="23.70" fill="#4a74b8" stroke="none" stroke-width="0.6"/>
<line x1="682.95" y1="279.50" x2="682.95" y2="282.10" stroke="#333" stroke-width="0.4"/>
<line x1="682.15" y1="279.50" x2="683.75" y2="279.50" stroke="#333" stroke-width="0.4"/>
<line x1="682.15" y1="282.10" x2="683.75" y2="282.10" stroke="#333" stroke-width="0.4"/>
<rect x="693.80" y="279.80" width="5.20" height="24.70" fill="#4a74b8" stroke="none" stroke-width="0.6"/>
<line x1="696.40" y1="278.50" x2="696.40" y2="281.10" stroke="#333" stroke-width="0.4"/>
<line x1="695.60" y1="278.50" x2="697.20" y2="278.50" stroke="#333" stroke-width="0.4"/>
<line x1="695.60" y1="281.10" x2="697.20" y2="281.10" stroke="#333" stroke-width="0.4"/>
<text x="684.15" y="309.10" font-size="4.6" text-anchor="end" fill="#222" transform="rotate(-45 684.15 309.10)" stroke="#222" stroke-width="0.16">WT</text>
<text x="697.60" y="309.10" font-size="4.6" text-anchor="end" fill="#222" font-style="italic" transform="rotate(-45 697.60 309.10)" stroke="#222" stroke-width="0.16">Hap4-9</text>
<text x="733.00" y="268.40" font-size="5.6" text-anchor="middle" fill="#222" stroke="#222" stroke-width="0.20">EZ</text>
<line x1="722.70" y1="275.60" x2="722.70" y2="304.50" stroke="#bbb" stroke-width="0.6"/>
<line x1="722.70" y1="304.50" x2="749.50" y2="304.50" stroke="#bbb" stroke-width="0.6"/>
<text x="719.70" y="306.00" font-size="4.5" text-anchor="end" fill="#333" stroke="#333" stroke-width="0.16">0</text>
<text x="719.70" y="298.77" font-size="4.5" text-anchor="end" fill="#333" stroke="#333" stroke-width="0.16">1</text>
<text x="719.70" y="291.55" font-size="4.5" text-anchor="end" fill="#333" stroke="#333" stroke-width="0.16">2</text>
<text x="719.70" y="284.33" font-size="4.5" text-anchor="end" fill="#333" stroke="#333" stroke-width="0.16">3</text>
<text x="719.70" y="277.10" font-size="4.5" text-anchor="end" fill="#333" stroke="#333" stroke-width="0.16">4</text>
<rect x="725.80" y="277.70" width="5.70" height="26.80" fill="#4a74b8" stroke="none" stroke-width="0.6"/>
<line x1="728.65" y1="276.40" x2="728.65" y2="279.00" stroke="#333" stroke-width="0.4"/>
<line x1="727.85" y1="276.40" x2="729.45" y2="276.40" stroke="#333" stroke-width="0.4"/>
<line x1="727.85" y1="279.00" x2="729.45" y2="279.00" stroke="#333" stroke-width="0.4"/>
<rect x="739.20" y="282.80" width="5.50" height="21.70" fill="#4a74b8" stroke="none" stroke-width="0.6"/>
<line x1="741.95" y1="281.50" x2="741.95" y2="284.10" stroke="#333" stroke-width="0.4"/>
<line x1="741.15" y1="281.50" x2="742.75" y2="281.50" stroke="#333" stroke-width="0.4"/>
<line x1="741.15" y1="284.10" x2="742.75" y2="284.10" stroke="#333" stroke-width="0.4"/>
<text x="741.95" y="280.80" font-size="5.0" text-anchor="middle" fill="#222" stroke="#222" stroke-width="0.18">**</text>
<text x="729.85" y="309.10" font-size="4.6" text-anchor="end" fill="#222" transform="rotate(-45 729.85 309.10)" stroke="#222" stroke-width="0.16">WT</text>
<text x="743.15" y="309.10" font-size="4.6" text-anchor="end" fill="#222" font-style="italic" transform="rotate(-45 743.15 309.10)" stroke="#222" stroke-width="0.16">Hap4-9</text>
<text x="780.40" y="268.40" font-size="5.6" text-anchor="middle" fill="#222" stroke="#222" stroke-width="0.20">DZ</text>
<line x1="769.00" y1="275.60" x2="769.00" y2="304.50" stroke="#bbb" stroke-width="0.6"/>
<line x1="769.00" y1="304.50" x2="798.00" y2="304.50" stroke="#bbb" stroke-width="0.6"/>
<text x="766.00" y="306.00" font-size="4.5" text-anchor="end" fill="#333" stroke="#333" stroke-width="0.16">0</text>
<text x="766.00" y="297.77" font-size="4.5" text-anchor="end" fill="#333" stroke="#333" stroke-width="0.16">4</text>
<text x="766.00" y="289.53" font-size="4.5" text-anchor="end" fill="#333" stroke="#333" stroke-width="0.16">8</text>
<text x="766.00" y="281.30" font-size="4.5" text-anchor="end" fill="#333" stroke="#333" stroke-width="0.16">12</text>
<rect x="772.20" y="280.20" width="5.50" height="24.30" fill="#4a74b8" stroke="none" stroke-width="0.6"/>
<line x1="774.95" y1="278.90" x2="774.95" y2="281.50" stroke="#333" stroke-width="0.4"/>
<line x1="774.15" y1="278.90" x2="775.75" y2="278.90" stroke="#333" stroke-width="0.4"/>
<line x1="774.15" y1="281.50" x2="775.75" y2="281.50" stroke="#333" stroke-width="0.4"/>
<rect x="786.60" y="277.30" width="5.20" height="27.20" fill="#4a74b8" stroke="none" stroke-width="0.6"/>
<line x1="789.20" y1="276.00" x2="789.20" y2="278.60" stroke="#333" stroke-width="0.4"/>
<line x1="788.40" y1="276.00" x2="790.00" y2="276.00" stroke="#333" stroke-width="0.4"/>
<line x1="788.40" y1="278.60" x2="790.00" y2="278.60" stroke="#333" stroke-width="0.4"/>
<text x="789.20" y="275.30" font-size="5.0" text-anchor="middle" fill="#222" stroke="#222" stroke-width="0.18">*</text>
<text x="762.00" y="274.20" font-size="3.8" text-anchor="start" fill="#333" stroke="#333" stroke-width="0.13">×10³</text>
<text x="776.15" y="309.10" font-size="4.6" text-anchor="end" fill="#222" transform="rotate(-45 776.15 309.10)" stroke="#222" stroke-width="0.16">WT</text>
<text x="790.40" y="309.10" font-size="4.6" text-anchor="end" fill="#222" font-style="italic" transform="rotate(-45 790.40 309.10)" stroke="#222" stroke-width="0.16">Hap4-9</text>
<text x="663.00" y="289.00" font-size="5.8" text-anchor="middle" fill="#222" transform="rotate(-90 663.00 289.00)" stroke="#222" stroke-width="0.20">Zone length (mm)</text>
<text x="686.50" y="338.40" font-size="5.6" text-anchor="middle" fill="#222" stroke="#222" stroke-width="0.20">MZ</text>
<line x1="675.20" y1="346.50" x2="675.20" y2="375.00" stroke="#bbb" stroke-width="0.6"/>
<line x1="675.20" y1="375.00" x2="703.00" y2="375.00" stroke="#bbb" stroke-width="0.6"/>
<text x="672.20" y="376.50" font-size="4.5" text-anchor="end" fill="#333" stroke="#333" stroke-width="0.16">0</text>
<text x="672.20" y="367.57" font-size="4.5" text-anchor="end" fill="#333" stroke="#333" stroke-width="0.16">20</text>
<text x="672.20" y="358.63" font-size="4.5" text-anchor="end" fill="#333" stroke="#333" stroke-width="0.16">40</text>
<text x="672.20" y="349.70" font-size="4.5" text-anchor="end" fill="#333" stroke="#333" stroke-width="0.16">60</text>
<rect x="680.40" y="351.70" width="5.10" height="23.30" fill="#4a74b8" stroke="none" stroke-width="0.6"/>
<line x1="682.95" y1="350.40" x2="682.95" y2="353.00" stroke="#333" stroke-width="0.4"/>
<line x1="682.15" y1="350.40" x2="683.75" y2="350.40" stroke="#333" stroke-width="0.4"/>
<line x1="682.15" y1="353.00" x2="683.75" y2="353.00" stroke="#333" stroke-width="0.4"/>
<rect x="693.40" y="350.60" width="5.10" height="24.40" fill="#4a74b8" stroke="none" stroke-width="0.6"/>
<line x1="695.95" y1="349.30" x2="695.95" y2="351.90" stroke="#333" stroke-width="0.4"/>
<line x1="695.15" y1="349.30" x2="696.75" y2="349.30" stroke="#333" stroke-width="0.4"/>
<line x1="695.15" y1="351.90" x2="696.75" y2="351.90" stroke="#333" stroke-width="0.4"/>
<text x="684.15" y="379.60" font-size="4.6" text-anchor="end" fill="#222" transform="rotate(-45 684.15 379.60)" stroke="#222" stroke-width="0.16">WT</text>
<text x="697.15" y="379.60" font-size="4.6" text-anchor="end" fill="#222" font-style="italic" transform="rotate(-45 697.15 379.60)" stroke="#222" stroke-width="0.16">Hap4-9</text>
<text x="733.00" y="338.40" font-size="5.6" text-anchor="middle" fill="#222" stroke="#222" stroke-width="0.20">EZ</text>
<line x1="722.70" y1="346.50" x2="722.70" y2="375.00" stroke="#bbb" stroke-width="0.6"/>
<line x1="722.70" y1="375.00" x2="749.50" y2="375.00" stroke="#bbb" stroke-width="0.6"/>
<text x="719.70" y="376.50" font-size="4.5" text-anchor="end" fill="#333" stroke="#333" stroke-width="0.16">0</text>
<text x="719.70" y="363.10" font-size="4.5" text-anchor="end" fill="#333" stroke="#333" stroke-width="0.16">25</text>
<text x="719.70" y="349.70" font-size="4.5" text-anchor="end" fill="#333" stroke="#333" stroke-width="0.16">50</text>
<rect x="725.80" y="353.70" width="5.50" height="21.30" fill="#4a74b8" stroke="none" stroke-width="0.6"/>
<line x1="728.55" y1="352.40" x2="728.55" y2="355.00" stroke="#333" stroke-width="0.4"/>
<line x1="727.75" y1="352.40" x2="729.35" y2="352.40" stroke="#333" stroke-width="0.4"/>
<line x1="727.75" y1="355.00" x2="729.35" y2="355.00" stroke="#333" stroke-width="0.4"/>
<rect x="739.20" y="353.10" width="5.10" height="21.90" fill="#4a74b8" stroke="none" stroke-width="0.6"/>
<line x1="741.75" y1="351.80" x2="741.75" y2="354.40" stroke="#333" stroke-width="0.4"/>
<line x1="740.95" y1="351.80" x2="742.55" y2="351.80" stroke="#333" stroke-width="0.4"/>
<line x1="740.95" y1="354.40" x2="742.55" y2="354.40" stroke="#333" stroke-width="0.4"/>
<text x="729.75" y="379.60" font-size="4.6" text-anchor="end" fill="#222" transform="rotate(-45 729.75 379.60)" stroke="#222" stroke-width="0.16">WT</text>
<text x="742.95" y="379.60" font-size="4.6" text-anchor="end" fill="#222" font-style="italic" transform="rotate(-45 742.95 379.60)" stroke="#222" stroke-width="0.16">Hap4-9</text>
<text x="780.40" y="338.40" font-size="5.6" text-anchor="middle" fill="#222" stroke="#222" stroke-width="0.20">DZ</text>
<line x1="769.00" y1="346.50" x2="769.00" y2="375.00" stroke="#bbb" stroke-width="0.6"/>
<line x1="769.00" y1="375.00" x2="798.00" y2="375.00" stroke="#bbb" stroke-width="0.6"/>
<text x="766.00" y="376.50" font-size="4.5" text-anchor="end" fill="#333" stroke="#333" stroke-width="0.16">0</text>
<text x="766.00" y="370.15" font-size="4.5" text-anchor="end" fill="#333" stroke="#333" stroke-width="0.16">2</text>
<text x="766.00" y="363.80" font-size="4.5" text-anchor="end" fill="#333" stroke="#333" stroke-width="0.16">4</text>
<text x="766.00" y="357.45" font-size="4.5" text-anchor="end" fill="#333" stroke="#333" stroke-width="0.16">6</text>
<text x="766.00" y="351.10" font-size="4.5" text-anchor="end" fill="#333" stroke="#333" stroke-width="0.16">8</text>
<rect x="772.20" y="351.70" width="5.10" height="23.30" fill="#4a74b8" stroke="none" stroke-width="0.6"/>
<line x1="774.75" y1="350.40" x2="774.75" y2="353.00" stroke="#333" stroke-width="0.4"/>
<line x1="773.95" y1="350.40" x2="775.55" y2="350.40" stroke="#333" stroke-width="0.4"/>
<line x1="773.95" y1="353.00" x2="775.55" y2="353.00" stroke="#333" stroke-width="0.4"/>
<rect x="786.60" y="349.00" width="5.20" height="26.00" fill="#4a74b8" stroke="none" stroke-width="0.6"/>
<line x1="789.20" y1="347.70" x2="789.20" y2="350.30" stroke="#333" stroke-width="0.4"/>
<line x1="788.40" y1="347.70" x2="790.00" y2="347.70" stroke="#333" stroke-width="0.4"/>
<line x1="788.40" y1="350.30" x2="790.00" y2="350.30" stroke="#333" stroke-width="0.4"/>
<text x="789.20" y="347.00" font-size="5.0" text-anchor="middle" fill="#222" stroke="#222" stroke-width="0.18">*</text>
<text x="762.00" y="345.10" font-size="3.8" text-anchor="start" fill="#333" stroke="#333" stroke-width="0.13">×10⁴</text>
<text x="775.95" y="379.60" font-size="4.6" text-anchor="end" fill="#222" transform="rotate(-45 775.95 379.60)" stroke="#222" stroke-width="0.16">WT</text>
<text x="790.40" y="379.60" font-size="4.6" text-anchor="end" fill="#222" font-style="italic" transform="rotate(-45 790.40 379.60)" stroke="#222" stroke-width="0.16">Hap4-9</text>
<text x="663.00" y="361.00" font-size="5.8" text-anchor="middle" fill="#222" transform="rotate(-90 663.00 361.00)" stroke="#222" stroke-width="0.20">Cell number</text>
<text x="686.50" y="411.60" font-size="5.6" text-anchor="middle" fill="#222" stroke="#222" stroke-width="0.20">MZ</text>
<line x1="675.20" y1="414.00" x2="675.20" y2="442.90" stroke="#bbb" stroke-width="0.6"/>
<line x1="675.20" y1="442.90" x2="703.00" y2="442.90" stroke="#bbb" stroke-width="0.6"/>
<text x="672.20" y="444.40" font-size="4.5" text-anchor="end" fill="#333" stroke="#333" stroke-width="0.16">0</text>
<text x="672.20" y="437.57" font-size="4.5" text-anchor="end" fill="#333" stroke="#333" stroke-width="0.16">5</text>
<text x="672.20" y="430.75" font-size="4.5" text-anchor="end" fill="#333" stroke="#333" stroke-width="0.16">10</text>
<text x="672.20" y="423.93" font-size="4.5" text-anchor="end" fill="#333" stroke="#333" stroke-width="0.16">15</text>
<text x="672.20" y="417.10" font-size="4.5" text-anchor="end" fill="#333" stroke="#333" stroke-width="0.16">20</text>
<rect x="680.80" y="420.80" width="4.70" height="22.10" fill="#4a74b8" stroke="none" stroke-width="0.6"/>
<line x1="683.15" y1="419.50" x2="683.15" y2="422.10" stroke="#333" stroke-width="0.4"/>
<line x1="682.35" y1="419.50" x2="683.95" y2="419.50" stroke="#333" stroke-width="0.4"/>
<line x1="682.35" y1="422.10" x2="683.95" y2="422.10" stroke="#333" stroke-width="0.4"/>
<rect x="693.80" y="420.80" width="5.60" height="22.10" fill="#4a74b8" stroke="none" stroke-width="0.6"/>
<line x1="696.60" y1="419.50" x2="696.60" y2="422.10" stroke="#333" stroke-width="0.4"/>
<line x1="695.80" y1="419.50" x2="697.40" y2="419.50" stroke="#333" stroke-width="0.4"/>
<line x1="695.80" y1="422.10" x2="697.40" y2="422.10" stroke="#333" stroke-width="0.4"/>
<text x="684.35" y="447.50" font-size="4.6" text-anchor="end" fill="#222" transform="rotate(-45 684.35 447.50)" stroke="#222" stroke-width="0.16">WT</text>
<text x="697.80" y="447.50" font-size="4.6" text-anchor="end" fill="#222" font-style="italic" transform="rotate(-45 697.80 447.50)" stroke="#222" stroke-width="0.16">Hap4-9</text>
<text x="733.00" y="411.60" font-size="5.6" text-anchor="middle" fill="#222" stroke="#222" stroke-width="0.20">EZ</text>
<line x1="722.70" y1="414.00" x2="722.70" y2="442.90" stroke="#bbb" stroke-width="0.6"/>
<line x1="722.70" y1="442.90" x2="749.50" y2="442.90" stroke="#bbb" stroke-width="0.6"/>
<text x="719.70" y="444.40" font-size="4.5" text-anchor="end" fill="#333" stroke="#333" stroke-width="0.16">0</text>
<text x="719.70" y="435.17" font-size="4.5" text-anchor="end" fill="#333" stroke="#333" stroke-width="0.16">40</text>
<text x="719.70" y="425.93" font-size="4.5" text-anchor="end" fill="#333" stroke="#333" stroke-width="0.16">80</text>
<text x="719.70" y="416.70" font-size="4.5" text-anchor="end" fill="#333" stroke="#333" stroke-width="0.16">120</text>
<rect x="725.80" y="420.80" width="5.50" height="22.10" fill="#4a74b8" stroke="none" stroke-width="0.6"/>
<line x1="728.55" y1="419.50" x2="728.55" y2="422.10" stroke="#333" stroke-width="0.4"/>
<line x1="727.75" y1="419.50" x2="729.35" y2="419.50" stroke="#333" stroke-width="0.4"/>
<line x1="727.75" y1="422.10" x2="729.35" y2="422.10" stroke="#333" stroke-width="0.4"/>
<rect x="740.20" y="426.00" width="5.20" height="16.90" fill="#4a74b8" stroke="none" stroke-width="0.6"/>
<line x1="742.80" y1="424.70" x2="742.80" y2="427.30" stroke="#333" stroke-width="0.4"/>
<line x1="742.00" y1="424.70" x2="743.60" y2="424.70" stroke="#333" stroke-width="0.4"/>
<line x1="742.00" y1="427.30" x2="743.60" y2="427.30" stroke="#333" stroke-width="0.4"/>
<text x="742.80" y="424.00" font-size="5.0" text-anchor="middle" fill="#222" stroke="#222" stroke-width="0.18">*</text>
<text x="729.75" y="447.50" font-size="4.6" text-anchor="end" fill="#222" transform="rotate(-45 729.75 447.50)" stroke="#222" stroke-width="0.16">WT</text>
<text x="744.00" y="447.50" font-size="4.6" text-anchor="end" fill="#222" font-style="italic" transform="rotate(-45 744.00 447.50)" stroke="#222" stroke-width="0.16">Hap4-9</text>
<text x="780.40" y="411.60" font-size="5.6" text-anchor="middle" fill="#222" stroke="#222" stroke-width="0.20">DZ</text>
<line x1="769.00" y1="414.00" x2="769.00" y2="442.90" stroke="#bbb" stroke-width="0.6"/>
<line x1="769.00" y1="442.90" x2="798.00" y2="442.90" stroke="#bbb" stroke-width="0.6"/>
<text x="766.00" y="444.40" font-size="4.5" text-anchor="end" fill="#333" stroke="#333" stroke-width="0.16">0</text>
<text x="766.00" y="430.55" font-size="4.5" text-anchor="end" fill="#333" stroke="#333" stroke-width="0.16">100</text>
<text x="766.00" y="416.70" font-size="4.5" text-anchor="end" fill="#333" stroke="#333" stroke-width="0.16">200</text>
<rect x="772.20" y="421.40" width="5.10" height="21.50" fill="#4a74b8" stroke="none" stroke-width="0.6"/>
<line x1="774.75" y1="420.10" x2="774.75" y2="422.70" stroke="#333" stroke-width="0.4"/>
<line x1="773.95" y1="420.10" x2="775.55" y2="420.10" stroke="#333" stroke-width="0.4"/>
<line x1="773.95" y1="422.70" x2="775.55" y2="422.70" stroke="#333" stroke-width="0.4"/>
<rect x="786.60" y="421.40" width="5.20" height="21.50" fill="#4a74b8" stroke="none" stroke-width="0.6"/>
<line x1="789.20" y1="420.10" x2="789.20" y2="422.70" stroke="#333" stroke-width="0.4"/>
<line x1="788.40" y1="420.10" x2="790.00" y2="420.10" stroke="#333" stroke-width="0.4"/>
<line x1="788.40" y1="422.70" x2="790.00" y2="422.70" stroke="#333" stroke-width="0.4"/>
<text x="775.95" y="447.50" font-size="4.6" text-anchor="end" fill="#222" transform="rotate(-45 775.95 447.50)" stroke="#222" stroke-width="0.16">WT</text>
<text x="790.40" y="447.50" font-size="4.6" text-anchor="end" fill="#222" font-style="italic" transform="rotate(-45 790.40 447.50)" stroke="#222" stroke-width="0.16">Hap4-9</text>
<text x="663.00" y="432.00" font-size="5.8" text-anchor="middle" fill="#222" transform="rotate(-90 663.00 432.00)" stroke="#222" stroke-width="0.20">Cell length (μm)</text>
<text x="647.60" y="341.40" font-size="6.4" text-anchor="start" fill="#222" font-weight="bold" stroke="#222" stroke-width="0.22">(c)</text>
<text x="647.60" y="412.60" font-size="6.4" text-anchor="start" fill="#222" font-weight="bold" stroke="#222" stroke-width="0.22">(d)</text>
<g opacity="0.75"><path d="M680 425.5 L701 425.5" stroke="#9a9a9a" stroke-width="1.6" fill="none"/><path d="M674 449 Q680 452 686 447 M698 447 Q703 452 708.5 450.5 M707 449 L710 447.5 M708 452 L710.5 452" stroke="#b8c878" stroke-width="2.2" fill="none" stroke-linecap="round"/><path d="M686 446 L684 461 L696 461 L697 446 Z" fill="#d4dca8" stroke="#a8b870" stroke-width="0.7"/><path d="M684 461 L681 464 M696 461 L699 464 M688 452 L692 458" stroke="#98a860" stroke-width="1" fill="none"/><circle cx="690.5" cy="437.2" r="9.6" fill="#d8e0a8" stroke="#a8bc70" stroke-width="1.3"/><circle cx="690.5" cy="437.8" r="5.6" fill="#c8d4a0" stroke="#889860" stroke-width="0.9"/><path d="M675 452 L671 458 M677 455 L673 460" stroke="#a0a080" stroke-width="0.6" fill="none"/></g>
<g opacity="0.85" stroke="#858585" stroke-width="1.5" fill="none" stroke-linecap="round" stroke-linejoin="round"><path d="M724 433.5 L725.5 436.2"/><path d="M716.5 438.5 L717 441 M717 438.2 L732.5 437.6 L731.5 440.5"/><path d="M724.5 440 Q721 447 715.5 452.5"/><path d="M721.5 445.5 L721 456 L723.5 454"/><path d="M724.5 444 Q728 450 734.5 455.5"/><path d="M731.5 443 L727.5 447"/><path d="M742 432.2 L739 437.5"/><path d="M740 437.4 L756.5 436.4"/><path d="M748 432 L748.2 443"/><path d="M737 443.8 L760.5 442.6"/><path d="M746 444 Q745 451 738 455"/><path d="M752 444 L752 452 Q754 453.5 761 453 L761.5 450"/><path d="M766.5 432.5 L762 440 M764 438 L770.5 438 M763 443 L770.5 442.5 M766.5 440 L766.5 455 L770.5 452"/><path d="M777 432 L772.5 438.5 M776.5 434.5 L785 434 Q781 440 773.5 444.5 M776 438 Q780 442 787 446 M773 447 L787.5 446.5 M774 451 L787 450.5 M780.5 444.5 L780.5 460"/></g>
</svg>
</body></html>
